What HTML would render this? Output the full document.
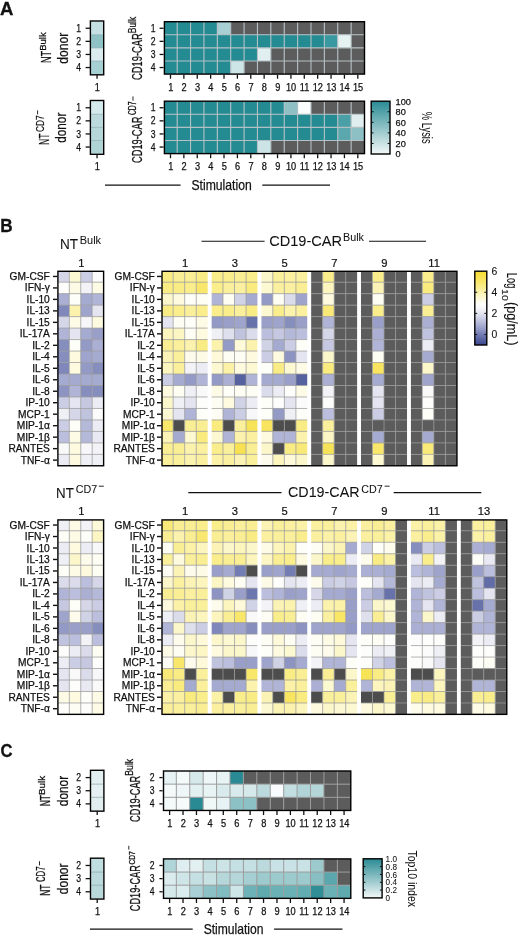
<!DOCTYPE html><html><head><meta charset="utf-8"><style>html,body{margin:0;padding:0;background:#fff;}body{width:520px;height:938px;overflow:hidden;}svg{display:block;will-change:transform;}</style></head><body><svg width="520" height="938" viewBox="0 0 520 938" font-family='"Liberation Sans", sans-serif'><rect x="91.10" y="21.70" width="11.95" height="13.15" fill="#c5e0e3"/>
<rect x="91.10" y="34.80" width="11.95" height="13.15" fill="#8fc2c5"/>
<rect x="91.10" y="47.90" width="11.95" height="13.15" fill="#dcecee"/>
<rect x="91.10" y="61.00" width="11.95" height="13.15" fill="#a7d0d3"/>
<line x1="91.10" y1="34.80" x2="103.00" y2="34.80" stroke="#7fa5a8" stroke-width="0.6"/>
<line x1="91.10" y1="47.90" x2="103.00" y2="47.90" stroke="#7fa5a8" stroke-width="0.6"/>
<line x1="91.10" y1="61.00" x2="103.00" y2="61.00" stroke="#7fa5a8" stroke-width="0.6"/>
<rect x="90.40" y="21.00" width="13.30" height="53.80" fill="none" stroke="#000" stroke-width="1.4"/>
<line x1="85.60" y1="28.25" x2="90.00" y2="28.25" stroke="#111" stroke-width="1.3"/>
<text x="81.00" y="31.85" font-size="10.8" text-anchor="end" textLength="4.81" lengthAdjust="spacingAndGlyphs" stroke="#111" stroke-width="0.25" fill="#111">1</text>
<line x1="85.60" y1="41.35" x2="90.00" y2="41.35" stroke="#111" stroke-width="1.3"/>
<text x="81.00" y="44.95" font-size="10.8" text-anchor="end" textLength="4.81" lengthAdjust="spacingAndGlyphs" stroke="#111" stroke-width="0.25" fill="#111">2</text>
<line x1="85.60" y1="54.45" x2="90.00" y2="54.45" stroke="#111" stroke-width="1.3"/>
<text x="81.00" y="58.05" font-size="10.8" text-anchor="end" textLength="4.81" lengthAdjust="spacingAndGlyphs" stroke="#111" stroke-width="0.25" fill="#111">3</text>
<line x1="85.60" y1="67.55" x2="90.00" y2="67.55" stroke="#111" stroke-width="1.3"/>
<text x="81.00" y="71.15" font-size="10.8" text-anchor="end" textLength="4.81" lengthAdjust="spacingAndGlyphs" stroke="#111" stroke-width="0.25" fill="#111">4</text>
<line x1="97.05" y1="74.70" x2="97.05" y2="78.70" stroke="#111" stroke-width="1.3"/>
<text x="97.35" y="90.60" font-size="10" text-anchor="middle" textLength="5.12" lengthAdjust="spacingAndGlyphs" stroke="#111" stroke-width="0.25" fill="#111">1</text>
<clipPath id="c18"><rect x="164.40" y="21.70" width="200.10" height="52.40"/></clipPath>
<g clip-path="url(#c18)">
<rect x="163.80" y="21.70" width="13.43" height="13.15" fill="#248b93"/>
<rect x="177.18" y="21.70" width="13.43" height="13.15" fill="#248b93"/>
<rect x="190.56" y="21.70" width="13.43" height="13.15" fill="#248b93"/>
<rect x="203.94" y="21.70" width="13.43" height="13.15" fill="#248b93"/>
<rect x="217.32" y="21.70" width="13.43" height="13.15" fill="#a8cfd3"/>
<rect x="230.70" y="21.70" width="13.43" height="13.15" fill="#5c5c5c"/>
<rect x="244.08" y="21.70" width="13.43" height="13.15" fill="#5c5c5c"/>
<rect x="257.46" y="21.70" width="13.43" height="13.15" fill="#5c5c5c"/>
<rect x="270.84" y="21.70" width="13.43" height="13.15" fill="#5c5c5c"/>
<rect x="284.22" y="21.70" width="13.43" height="13.15" fill="#5c5c5c"/>
<rect x="297.60" y="21.70" width="13.43" height="13.15" fill="#5c5c5c"/>
<rect x="310.98" y="21.70" width="13.43" height="13.15" fill="#5c5c5c"/>
<rect x="324.36" y="21.70" width="13.43" height="13.15" fill="#5c5c5c"/>
<rect x="337.74" y="21.70" width="13.43" height="13.15" fill="#5c5c5c"/>
<rect x="351.12" y="21.70" width="13.43" height="13.15" fill="#5c5c5c"/>
<rect x="163.80" y="34.80" width="13.43" height="13.15" fill="#248b93"/>
<rect x="177.18" y="34.80" width="13.43" height="13.15" fill="#248b93"/>
<rect x="190.56" y="34.80" width="13.43" height="13.15" fill="#248b93"/>
<rect x="203.94" y="34.80" width="13.43" height="13.15" fill="#248b93"/>
<rect x="217.32" y="34.80" width="13.43" height="13.15" fill="#248b93"/>
<rect x="230.70" y="34.80" width="13.43" height="13.15" fill="#248b93"/>
<rect x="244.08" y="34.80" width="13.43" height="13.15" fill="#248b93"/>
<rect x="257.46" y="34.80" width="13.43" height="13.15" fill="#248b93"/>
<rect x="270.84" y="34.80" width="13.43" height="13.15" fill="#248b93"/>
<rect x="284.22" y="34.80" width="13.43" height="13.15" fill="#248b93"/>
<rect x="297.60" y="34.80" width="13.43" height="13.15" fill="#248b93"/>
<rect x="310.98" y="34.80" width="13.43" height="13.15" fill="#248b93"/>
<rect x="324.36" y="34.80" width="13.43" height="13.15" fill="#3a98a0"/>
<rect x="337.74" y="34.80" width="13.43" height="13.15" fill="#e6f1f2"/>
<rect x="351.12" y="34.80" width="13.43" height="13.15" fill="#5c5c5c"/>
<rect x="163.80" y="47.90" width="13.43" height="13.15" fill="#248b93"/>
<rect x="177.18" y="47.90" width="13.43" height="13.15" fill="#248b93"/>
<rect x="190.56" y="47.90" width="13.43" height="13.15" fill="#248b93"/>
<rect x="203.94" y="47.90" width="13.43" height="13.15" fill="#248b93"/>
<rect x="217.32" y="47.90" width="13.43" height="13.15" fill="#248b93"/>
<rect x="230.70" y="47.90" width="13.43" height="13.15" fill="#248b93"/>
<rect x="244.08" y="47.90" width="13.43" height="13.15" fill="#248b93"/>
<rect x="257.46" y="47.90" width="13.43" height="13.15" fill="#e1eff0"/>
<rect x="270.84" y="47.90" width="13.43" height="13.15" fill="#5c5c5c"/>
<rect x="284.22" y="47.90" width="13.43" height="13.15" fill="#5c5c5c"/>
<rect x="297.60" y="47.90" width="13.43" height="13.15" fill="#5c5c5c"/>
<rect x="310.98" y="47.90" width="13.43" height="13.15" fill="#5c5c5c"/>
<rect x="324.36" y="47.90" width="13.43" height="13.15" fill="#5c5c5c"/>
<rect x="337.74" y="47.90" width="13.43" height="13.15" fill="#5c5c5c"/>
<rect x="351.12" y="47.90" width="13.43" height="13.15" fill="#5c5c5c"/>
<rect x="163.80" y="61.00" width="13.43" height="13.15" fill="#248b93"/>
<rect x="177.18" y="61.00" width="13.43" height="13.15" fill="#248b93"/>
<rect x="190.56" y="61.00" width="13.43" height="13.15" fill="#248b93"/>
<rect x="203.94" y="61.00" width="13.43" height="13.15" fill="#248b93"/>
<rect x="217.32" y="61.00" width="13.43" height="13.15" fill="#248b93"/>
<rect x="230.70" y="61.00" width="13.43" height="13.15" fill="#cde5e7"/>
<rect x="244.08" y="61.00" width="13.43" height="13.15" fill="#5c5c5c"/>
<rect x="257.46" y="61.00" width="13.43" height="13.15" fill="#5c5c5c"/>
<rect x="270.84" y="61.00" width="13.43" height="13.15" fill="#5c5c5c"/>
<rect x="284.22" y="61.00" width="13.43" height="13.15" fill="#5c5c5c"/>
<rect x="297.60" y="61.00" width="13.43" height="13.15" fill="#5c5c5c"/>
<rect x="310.98" y="61.00" width="13.43" height="13.15" fill="#5c5c5c"/>
<rect x="324.36" y="61.00" width="13.43" height="13.15" fill="#5c5c5c"/>
<rect x="337.74" y="61.00" width="13.43" height="13.15" fill="#5c5c5c"/>
<rect x="351.12" y="61.00" width="13.43" height="13.15" fill="#5c5c5c"/>
<line x1="177.18" y1="21.70" x2="177.18" y2="74.10" stroke="#b4c0c4" stroke-width="1.1"/>
<line x1="190.56" y1="21.70" x2="190.56" y2="74.10" stroke="#b4c0c4" stroke-width="1.1"/>
<line x1="203.94" y1="21.70" x2="203.94" y2="74.10" stroke="#b4c0c4" stroke-width="1.1"/>
<line x1="217.32" y1="21.70" x2="217.32" y2="74.10" stroke="#b4c0c4" stroke-width="1.1"/>
<line x1="230.70" y1="21.70" x2="230.70" y2="74.10" stroke="#b4c0c4" stroke-width="1.1"/>
<line x1="244.08" y1="21.70" x2="244.08" y2="74.10" stroke="#b4c0c4" stroke-width="1.1"/>
<line x1="257.46" y1="21.70" x2="257.46" y2="74.10" stroke="#b4c0c4" stroke-width="1.1"/>
<line x1="270.84" y1="21.70" x2="270.84" y2="74.10" stroke="#b4c0c4" stroke-width="1.1"/>
<line x1="284.22" y1="21.70" x2="284.22" y2="74.10" stroke="#b4c0c4" stroke-width="1.1"/>
<line x1="297.60" y1="21.70" x2="297.60" y2="74.10" stroke="#b4c0c4" stroke-width="1.1"/>
<line x1="310.98" y1="21.70" x2="310.98" y2="74.10" stroke="#b4c0c4" stroke-width="1.1"/>
<line x1="324.36" y1="21.70" x2="324.36" y2="74.10" stroke="#b4c0c4" stroke-width="1.1"/>
<line x1="337.74" y1="21.70" x2="337.74" y2="74.10" stroke="#b4c0c4" stroke-width="1.1"/>
<line x1="351.12" y1="21.70" x2="351.12" y2="74.10" stroke="#b4c0c4" stroke-width="1.1"/>
<line x1="163.80" y1="34.80" x2="364.50" y2="34.80" stroke="#b4c0c4" stroke-width="1.1"/>
<line x1="163.80" y1="47.90" x2="364.50" y2="47.90" stroke="#b4c0c4" stroke-width="1.1"/>
<line x1="163.80" y1="61.00" x2="364.50" y2="61.00" stroke="#b4c0c4" stroke-width="1.1"/>
</g>
<rect x="164.40" y="21.70" width="200.10" height="52.40" fill="none" stroke="#000" stroke-width="1.4"/>
<line x1="159.60" y1="28.25" x2="163.60" y2="28.25" stroke="#111" stroke-width="1.3"/>
<text x="155.50" y="31.85" font-size="10.8" text-anchor="end" textLength="4.81" lengthAdjust="spacingAndGlyphs" stroke="#111" stroke-width="0.25" fill="#111">1</text>
<line x1="159.60" y1="41.35" x2="163.60" y2="41.35" stroke="#111" stroke-width="1.3"/>
<text x="155.50" y="44.95" font-size="10.8" text-anchor="end" textLength="4.81" lengthAdjust="spacingAndGlyphs" stroke="#111" stroke-width="0.25" fill="#111">2</text>
<line x1="159.60" y1="54.45" x2="163.60" y2="54.45" stroke="#111" stroke-width="1.3"/>
<text x="155.50" y="58.05" font-size="10.8" text-anchor="end" textLength="4.81" lengthAdjust="spacingAndGlyphs" stroke="#111" stroke-width="0.25" fill="#111">3</text>
<line x1="159.60" y1="67.55" x2="163.60" y2="67.55" stroke="#111" stroke-width="1.3"/>
<text x="155.50" y="71.15" font-size="10.8" text-anchor="end" textLength="4.81" lengthAdjust="spacingAndGlyphs" stroke="#111" stroke-width="0.25" fill="#111">4</text>
<line x1="170.49" y1="74.70" x2="170.49" y2="78.70" stroke="#111" stroke-width="1.3"/>
<text x="170.69" y="90.60" font-size="10" text-anchor="middle" textLength="5.12" lengthAdjust="spacingAndGlyphs" stroke="#111" stroke-width="0.25" fill="#111">1</text>
<line x1="183.87" y1="74.70" x2="183.87" y2="78.70" stroke="#111" stroke-width="1.3"/>
<text x="184.07" y="90.60" font-size="10" text-anchor="middle" textLength="5.12" lengthAdjust="spacingAndGlyphs" stroke="#111" stroke-width="0.25" fill="#111">2</text>
<line x1="197.25" y1="74.70" x2="197.25" y2="78.70" stroke="#111" stroke-width="1.3"/>
<text x="197.45" y="90.60" font-size="10" text-anchor="middle" textLength="5.12" lengthAdjust="spacingAndGlyphs" stroke="#111" stroke-width="0.25" fill="#111">3</text>
<line x1="210.63" y1="74.70" x2="210.63" y2="78.70" stroke="#111" stroke-width="1.3"/>
<text x="210.83" y="90.60" font-size="10" text-anchor="middle" textLength="5.12" lengthAdjust="spacingAndGlyphs" stroke="#111" stroke-width="0.25" fill="#111">4</text>
<line x1="224.01" y1="74.70" x2="224.01" y2="78.70" stroke="#111" stroke-width="1.3"/>
<text x="224.21" y="90.60" font-size="10" text-anchor="middle" textLength="5.12" lengthAdjust="spacingAndGlyphs" stroke="#111" stroke-width="0.25" fill="#111">5</text>
<line x1="237.39" y1="74.70" x2="237.39" y2="78.70" stroke="#111" stroke-width="1.3"/>
<text x="237.59" y="90.60" font-size="10" text-anchor="middle" textLength="5.12" lengthAdjust="spacingAndGlyphs" stroke="#111" stroke-width="0.25" fill="#111">6</text>
<line x1="250.77" y1="74.70" x2="250.77" y2="78.70" stroke="#111" stroke-width="1.3"/>
<text x="250.97" y="90.60" font-size="10" text-anchor="middle" textLength="5.12" lengthAdjust="spacingAndGlyphs" stroke="#111" stroke-width="0.25" fill="#111">7</text>
<line x1="264.15" y1="74.70" x2="264.15" y2="78.70" stroke="#111" stroke-width="1.3"/>
<text x="264.35" y="90.60" font-size="10" text-anchor="middle" textLength="5.12" lengthAdjust="spacingAndGlyphs" stroke="#111" stroke-width="0.25" fill="#111">8</text>
<line x1="277.53" y1="74.70" x2="277.53" y2="78.70" stroke="#111" stroke-width="1.3"/>
<text x="277.73" y="90.60" font-size="10" text-anchor="middle" textLength="5.12" lengthAdjust="spacingAndGlyphs" stroke="#111" stroke-width="0.25" fill="#111">9</text>
<line x1="290.91" y1="74.70" x2="290.91" y2="78.70" stroke="#111" stroke-width="1.3"/>
<text x="291.11" y="90.60" font-size="10" text-anchor="middle" textLength="10.23" lengthAdjust="spacingAndGlyphs" stroke="#111" stroke-width="0.25" fill="#111">10</text>
<line x1="304.29" y1="74.70" x2="304.29" y2="78.70" stroke="#111" stroke-width="1.3"/>
<text x="304.49" y="90.60" font-size="10" text-anchor="middle" textLength="9.55" lengthAdjust="spacingAndGlyphs" stroke="#111" stroke-width="0.25" fill="#111">11</text>
<line x1="317.67" y1="74.70" x2="317.67" y2="78.70" stroke="#111" stroke-width="1.3"/>
<text x="317.87" y="90.60" font-size="10" text-anchor="middle" textLength="10.23" lengthAdjust="spacingAndGlyphs" stroke="#111" stroke-width="0.25" fill="#111">12</text>
<line x1="331.05" y1="74.70" x2="331.05" y2="78.70" stroke="#111" stroke-width="1.3"/>
<text x="331.25" y="90.60" font-size="10" text-anchor="middle" textLength="10.23" lengthAdjust="spacingAndGlyphs" stroke="#111" stroke-width="0.25" fill="#111">13</text>
<line x1="344.43" y1="74.70" x2="344.43" y2="78.70" stroke="#111" stroke-width="1.3"/>
<text x="344.63" y="90.60" font-size="10" text-anchor="middle" textLength="10.23" lengthAdjust="spacingAndGlyphs" stroke="#111" stroke-width="0.25" fill="#111">14</text>
<line x1="357.81" y1="74.70" x2="357.81" y2="78.70" stroke="#111" stroke-width="1.3"/>
<text x="358.01" y="90.60" font-size="10" text-anchor="middle" textLength="10.23" lengthAdjust="spacingAndGlyphs" stroke="#111" stroke-width="0.25" fill="#111">15</text>
<rect x="91.10" y="101.20" width="11.95" height="13.15" fill="#d4e9eb"/>
<rect x="91.10" y="114.30" width="11.95" height="13.15" fill="#bcdadd"/>
<rect x="91.10" y="127.40" width="11.95" height="13.15" fill="#b5d7da"/>
<rect x="91.10" y="140.50" width="11.95" height="13.15" fill="#b0d3d6"/>
<line x1="91.10" y1="114.30" x2="103.00" y2="114.30" stroke="#7fa5a8" stroke-width="0.6"/>
<line x1="91.10" y1="127.40" x2="103.00" y2="127.40" stroke="#7fa5a8" stroke-width="0.6"/>
<line x1="91.10" y1="140.50" x2="103.00" y2="140.50" stroke="#7fa5a8" stroke-width="0.6"/>
<rect x="90.40" y="100.50" width="13.30" height="53.80" fill="none" stroke="#000" stroke-width="1.4"/>
<line x1="85.60" y1="107.75" x2="90.00" y2="107.75" stroke="#111" stroke-width="1.3"/>
<text x="81.00" y="111.35" font-size="10.8" text-anchor="end" textLength="4.81" lengthAdjust="spacingAndGlyphs" stroke="#111" stroke-width="0.25" fill="#111">1</text>
<line x1="85.60" y1="120.85" x2="90.00" y2="120.85" stroke="#111" stroke-width="1.3"/>
<text x="81.00" y="124.45" font-size="10.8" text-anchor="end" textLength="4.81" lengthAdjust="spacingAndGlyphs" stroke="#111" stroke-width="0.25" fill="#111">2</text>
<line x1="85.60" y1="133.95" x2="90.00" y2="133.95" stroke="#111" stroke-width="1.3"/>
<text x="81.00" y="137.55" font-size="10.8" text-anchor="end" textLength="4.81" lengthAdjust="spacingAndGlyphs" stroke="#111" stroke-width="0.25" fill="#111">3</text>
<line x1="85.60" y1="147.05" x2="90.00" y2="147.05" stroke="#111" stroke-width="1.3"/>
<text x="81.00" y="150.65" font-size="10.8" text-anchor="end" textLength="4.81" lengthAdjust="spacingAndGlyphs" stroke="#111" stroke-width="0.25" fill="#111">4</text>
<line x1="97.05" y1="154.20" x2="97.05" y2="158.20" stroke="#111" stroke-width="1.3"/>
<text x="97.35" y="170.10" font-size="10" text-anchor="middle" textLength="5.12" lengthAdjust="spacingAndGlyphs" stroke="#111" stroke-width="0.25" fill="#111">1</text>
<clipPath id="c155"><rect x="164.40" y="101.20" width="200.10" height="52.40"/></clipPath>
<g clip-path="url(#c155)">
<rect x="163.80" y="101.20" width="13.43" height="13.15" fill="#248b93"/>
<rect x="177.18" y="101.20" width="13.43" height="13.15" fill="#248b93"/>
<rect x="190.56" y="101.20" width="13.43" height="13.15" fill="#248b93"/>
<rect x="203.94" y="101.20" width="13.43" height="13.15" fill="#248b93"/>
<rect x="217.32" y="101.20" width="13.43" height="13.15" fill="#248b93"/>
<rect x="230.70" y="101.20" width="13.43" height="13.15" fill="#248b93"/>
<rect x="244.08" y="101.20" width="13.43" height="13.15" fill="#248b93"/>
<rect x="257.46" y="101.20" width="13.43" height="13.15" fill="#248b93"/>
<rect x="270.84" y="101.20" width="13.43" height="13.15" fill="#248b93"/>
<rect x="284.22" y="101.20" width="13.43" height="13.15" fill="#8fc0c4"/>
<rect x="297.60" y="101.20" width="13.43" height="13.15" fill="#fbfdfd"/>
<rect x="310.98" y="101.20" width="13.43" height="13.15" fill="#5c5c5c"/>
<rect x="324.36" y="101.20" width="13.43" height="13.15" fill="#5c5c5c"/>
<rect x="337.74" y="101.20" width="13.43" height="13.15" fill="#5c5c5c"/>
<rect x="351.12" y="101.20" width="13.43" height="13.15" fill="#5c5c5c"/>
<rect x="163.80" y="114.30" width="13.43" height="13.15" fill="#248b93"/>
<rect x="177.18" y="114.30" width="13.43" height="13.15" fill="#248b93"/>
<rect x="190.56" y="114.30" width="13.43" height="13.15" fill="#248b93"/>
<rect x="203.94" y="114.30" width="13.43" height="13.15" fill="#248b93"/>
<rect x="217.32" y="114.30" width="13.43" height="13.15" fill="#248b93"/>
<rect x="230.70" y="114.30" width="13.43" height="13.15" fill="#248b93"/>
<rect x="244.08" y="114.30" width="13.43" height="13.15" fill="#248b93"/>
<rect x="257.46" y="114.30" width="13.43" height="13.15" fill="#248b93"/>
<rect x="270.84" y="114.30" width="13.43" height="13.15" fill="#248b93"/>
<rect x="284.22" y="114.30" width="13.43" height="13.15" fill="#248b93"/>
<rect x="297.60" y="114.30" width="13.43" height="13.15" fill="#248b93"/>
<rect x="310.98" y="114.30" width="13.43" height="13.15" fill="#248b93"/>
<rect x="324.36" y="114.30" width="13.43" height="13.15" fill="#248b93"/>
<rect x="337.74" y="114.30" width="13.43" height="13.15" fill="#4aa0a6"/>
<rect x="351.12" y="114.30" width="13.43" height="13.15" fill="#e0eeef"/>
<rect x="163.80" y="127.40" width="13.43" height="13.15" fill="#248b93"/>
<rect x="177.18" y="127.40" width="13.43" height="13.15" fill="#248b93"/>
<rect x="190.56" y="127.40" width="13.43" height="13.15" fill="#248b93"/>
<rect x="203.94" y="127.40" width="13.43" height="13.15" fill="#248b93"/>
<rect x="217.32" y="127.40" width="13.43" height="13.15" fill="#248b93"/>
<rect x="230.70" y="127.40" width="13.43" height="13.15" fill="#248b93"/>
<rect x="244.08" y="127.40" width="13.43" height="13.15" fill="#248b93"/>
<rect x="257.46" y="127.40" width="13.43" height="13.15" fill="#248b93"/>
<rect x="270.84" y="127.40" width="13.43" height="13.15" fill="#248b93"/>
<rect x="284.22" y="127.40" width="13.43" height="13.15" fill="#248b93"/>
<rect x="297.60" y="127.40" width="13.43" height="13.15" fill="#248b93"/>
<rect x="310.98" y="127.40" width="13.43" height="13.15" fill="#248b93"/>
<rect x="324.36" y="127.40" width="13.43" height="13.15" fill="#248b93"/>
<rect x="337.74" y="127.40" width="13.43" height="13.15" fill="#5aa8ae"/>
<rect x="351.12" y="127.40" width="13.43" height="13.15" fill="#8cc0c4"/>
<rect x="163.80" y="140.50" width="13.43" height="13.15" fill="#248b93"/>
<rect x="177.18" y="140.50" width="13.43" height="13.15" fill="#248b93"/>
<rect x="190.56" y="140.50" width="13.43" height="13.15" fill="#248b93"/>
<rect x="203.94" y="140.50" width="13.43" height="13.15" fill="#248b93"/>
<rect x="217.32" y="140.50" width="13.43" height="13.15" fill="#248b93"/>
<rect x="230.70" y="140.50" width="13.43" height="13.15" fill="#248b93"/>
<rect x="244.08" y="140.50" width="13.43" height="13.15" fill="#248b93"/>
<rect x="257.46" y="140.50" width="13.43" height="13.15" fill="#cce4e6"/>
<rect x="270.84" y="140.50" width="13.43" height="13.15" fill="#5c5c5c"/>
<rect x="284.22" y="140.50" width="13.43" height="13.15" fill="#5c5c5c"/>
<rect x="297.60" y="140.50" width="13.43" height="13.15" fill="#5c5c5c"/>
<rect x="310.98" y="140.50" width="13.43" height="13.15" fill="#5c5c5c"/>
<rect x="324.36" y="140.50" width="13.43" height="13.15" fill="#5c5c5c"/>
<rect x="337.74" y="140.50" width="13.43" height="13.15" fill="#5c5c5c"/>
<rect x="351.12" y="140.50" width="13.43" height="13.15" fill="#5c5c5c"/>
<line x1="177.18" y1="101.20" x2="177.18" y2="153.60" stroke="#b4c0c4" stroke-width="1.1"/>
<line x1="190.56" y1="101.20" x2="190.56" y2="153.60" stroke="#b4c0c4" stroke-width="1.1"/>
<line x1="203.94" y1="101.20" x2="203.94" y2="153.60" stroke="#b4c0c4" stroke-width="1.1"/>
<line x1="217.32" y1="101.20" x2="217.32" y2="153.60" stroke="#b4c0c4" stroke-width="1.1"/>
<line x1="230.70" y1="101.20" x2="230.70" y2="153.60" stroke="#b4c0c4" stroke-width="1.1"/>
<line x1="244.08" y1="101.20" x2="244.08" y2="153.60" stroke="#b4c0c4" stroke-width="1.1"/>
<line x1="257.46" y1="101.20" x2="257.46" y2="153.60" stroke="#b4c0c4" stroke-width="1.1"/>
<line x1="270.84" y1="101.20" x2="270.84" y2="153.60" stroke="#b4c0c4" stroke-width="1.1"/>
<line x1="284.22" y1="101.20" x2="284.22" y2="153.60" stroke="#b4c0c4" stroke-width="1.1"/>
<line x1="297.60" y1="101.20" x2="297.60" y2="153.60" stroke="#b4c0c4" stroke-width="1.1"/>
<line x1="310.98" y1="101.20" x2="310.98" y2="153.60" stroke="#b4c0c4" stroke-width="1.1"/>
<line x1="324.36" y1="101.20" x2="324.36" y2="153.60" stroke="#b4c0c4" stroke-width="1.1"/>
<line x1="337.74" y1="101.20" x2="337.74" y2="153.60" stroke="#b4c0c4" stroke-width="1.1"/>
<line x1="351.12" y1="101.20" x2="351.12" y2="153.60" stroke="#b4c0c4" stroke-width="1.1"/>
<line x1="163.80" y1="114.30" x2="364.50" y2="114.30" stroke="#b4c0c4" stroke-width="1.1"/>
<line x1="163.80" y1="127.40" x2="364.50" y2="127.40" stroke="#b4c0c4" stroke-width="1.1"/>
<line x1="163.80" y1="140.50" x2="364.50" y2="140.50" stroke="#b4c0c4" stroke-width="1.1"/>
</g>
<rect x="164.40" y="101.20" width="200.10" height="52.40" fill="none" stroke="#000" stroke-width="1.4"/>
<line x1="159.60" y1="107.75" x2="163.60" y2="107.75" stroke="#111" stroke-width="1.3"/>
<text x="155.50" y="111.35" font-size="10.8" text-anchor="end" textLength="4.81" lengthAdjust="spacingAndGlyphs" stroke="#111" stroke-width="0.25" fill="#111">1</text>
<line x1="159.60" y1="120.85" x2="163.60" y2="120.85" stroke="#111" stroke-width="1.3"/>
<text x="155.50" y="124.45" font-size="10.8" text-anchor="end" textLength="4.81" lengthAdjust="spacingAndGlyphs" stroke="#111" stroke-width="0.25" fill="#111">2</text>
<line x1="159.60" y1="133.95" x2="163.60" y2="133.95" stroke="#111" stroke-width="1.3"/>
<text x="155.50" y="137.55" font-size="10.8" text-anchor="end" textLength="4.81" lengthAdjust="spacingAndGlyphs" stroke="#111" stroke-width="0.25" fill="#111">3</text>
<line x1="159.60" y1="147.05" x2="163.60" y2="147.05" stroke="#111" stroke-width="1.3"/>
<text x="155.50" y="150.65" font-size="10.8" text-anchor="end" textLength="4.81" lengthAdjust="spacingAndGlyphs" stroke="#111" stroke-width="0.25" fill="#111">4</text>
<line x1="170.49" y1="154.20" x2="170.49" y2="158.20" stroke="#111" stroke-width="1.3"/>
<text x="170.69" y="170.10" font-size="10" text-anchor="middle" textLength="5.12" lengthAdjust="spacingAndGlyphs" stroke="#111" stroke-width="0.25" fill="#111">1</text>
<line x1="183.87" y1="154.20" x2="183.87" y2="158.20" stroke="#111" stroke-width="1.3"/>
<text x="184.07" y="170.10" font-size="10" text-anchor="middle" textLength="5.12" lengthAdjust="spacingAndGlyphs" stroke="#111" stroke-width="0.25" fill="#111">2</text>
<line x1="197.25" y1="154.20" x2="197.25" y2="158.20" stroke="#111" stroke-width="1.3"/>
<text x="197.45" y="170.10" font-size="10" text-anchor="middle" textLength="5.12" lengthAdjust="spacingAndGlyphs" stroke="#111" stroke-width="0.25" fill="#111">3</text>
<line x1="210.63" y1="154.20" x2="210.63" y2="158.20" stroke="#111" stroke-width="1.3"/>
<text x="210.83" y="170.10" font-size="10" text-anchor="middle" textLength="5.12" lengthAdjust="spacingAndGlyphs" stroke="#111" stroke-width="0.25" fill="#111">4</text>
<line x1="224.01" y1="154.20" x2="224.01" y2="158.20" stroke="#111" stroke-width="1.3"/>
<text x="224.21" y="170.10" font-size="10" text-anchor="middle" textLength="5.12" lengthAdjust="spacingAndGlyphs" stroke="#111" stroke-width="0.25" fill="#111">5</text>
<line x1="237.39" y1="154.20" x2="237.39" y2="158.20" stroke="#111" stroke-width="1.3"/>
<text x="237.59" y="170.10" font-size="10" text-anchor="middle" textLength="5.12" lengthAdjust="spacingAndGlyphs" stroke="#111" stroke-width="0.25" fill="#111">6</text>
<line x1="250.77" y1="154.20" x2="250.77" y2="158.20" stroke="#111" stroke-width="1.3"/>
<text x="250.97" y="170.10" font-size="10" text-anchor="middle" textLength="5.12" lengthAdjust="spacingAndGlyphs" stroke="#111" stroke-width="0.25" fill="#111">7</text>
<line x1="264.15" y1="154.20" x2="264.15" y2="158.20" stroke="#111" stroke-width="1.3"/>
<text x="264.35" y="170.10" font-size="10" text-anchor="middle" textLength="5.12" lengthAdjust="spacingAndGlyphs" stroke="#111" stroke-width="0.25" fill="#111">8</text>
<line x1="277.53" y1="154.20" x2="277.53" y2="158.20" stroke="#111" stroke-width="1.3"/>
<text x="277.73" y="170.10" font-size="10" text-anchor="middle" textLength="5.12" lengthAdjust="spacingAndGlyphs" stroke="#111" stroke-width="0.25" fill="#111">9</text>
<line x1="290.91" y1="154.20" x2="290.91" y2="158.20" stroke="#111" stroke-width="1.3"/>
<text x="291.11" y="170.10" font-size="10" text-anchor="middle" textLength="10.23" lengthAdjust="spacingAndGlyphs" stroke="#111" stroke-width="0.25" fill="#111">10</text>
<line x1="304.29" y1="154.20" x2="304.29" y2="158.20" stroke="#111" stroke-width="1.3"/>
<text x="304.49" y="170.10" font-size="10" text-anchor="middle" textLength="9.55" lengthAdjust="spacingAndGlyphs" stroke="#111" stroke-width="0.25" fill="#111">11</text>
<line x1="317.67" y1="154.20" x2="317.67" y2="158.20" stroke="#111" stroke-width="1.3"/>
<text x="317.87" y="170.10" font-size="10" text-anchor="middle" textLength="10.23" lengthAdjust="spacingAndGlyphs" stroke="#111" stroke-width="0.25" fill="#111">12</text>
<line x1="331.05" y1="154.20" x2="331.05" y2="158.20" stroke="#111" stroke-width="1.3"/>
<text x="331.25" y="170.10" font-size="10" text-anchor="middle" textLength="10.23" lengthAdjust="spacingAndGlyphs" stroke="#111" stroke-width="0.25" fill="#111">13</text>
<line x1="344.43" y1="154.20" x2="344.43" y2="158.20" stroke="#111" stroke-width="1.3"/>
<text x="344.63" y="170.10" font-size="10" text-anchor="middle" textLength="10.23" lengthAdjust="spacingAndGlyphs" stroke="#111" stroke-width="0.25" fill="#111">14</text>
<line x1="357.81" y1="154.20" x2="357.81" y2="158.20" stroke="#111" stroke-width="1.3"/>
<text x="358.01" y="170.10" font-size="10" text-anchor="middle" textLength="10.23" lengthAdjust="spacingAndGlyphs" stroke="#111" stroke-width="0.25" fill="#111">15</text>
<text x="50.80" y="63.10" font-size="15" text-anchor="start" textLength="12.30" lengthAdjust="spacingAndGlyphs" transform="rotate(-90 50.80 63.10)" stroke="#111" stroke-width="0.25" fill="#111">NT</text>
<text x="45.60" y="50.80" font-size="9.2" text-anchor="start" textLength="18.50" lengthAdjust="spacingAndGlyphs" transform="rotate(-90 45.60 50.80)" stroke="#111" stroke-width="0.25" fill="#111">Bulk</text>
<text x="68.30" y="63.80" font-size="14.3" text-anchor="start" textLength="31.00" lengthAdjust="spacingAndGlyphs" transform="rotate(-90 68.30 63.80)" stroke="#111" stroke-width="0.25" fill="#111">donor</text>
<text x="48.80" y="145.00" font-size="15" text-anchor="start" textLength="11.50" lengthAdjust="spacingAndGlyphs" transform="rotate(-90 48.80 145.00)" stroke="#111" stroke-width="0.25" fill="#111">NT</text>
<text x="43.70" y="131.90" font-size="11.5" text-anchor="start" textLength="16.50" lengthAdjust="spacingAndGlyphs" transform="rotate(-90 43.70 131.90)" stroke="#111" stroke-width="0.25" fill="#111">CD7</text>
<line x1="37.60" y1="110.40" x2="37.60" y2="114.40" stroke="#111" stroke-width="0.9"/>
<text x="66.10" y="142.70" font-size="14.3" text-anchor="start" textLength="30.00" lengthAdjust="spacingAndGlyphs" transform="rotate(-90 66.10 142.70)" stroke="#111" stroke-width="0.25" fill="#111">donor</text>
<text x="141.60" y="80.00" font-size="14.5" text-anchor="start" textLength="46.80" lengthAdjust="spacingAndGlyphs" transform="rotate(-90 141.60 80.00)" stroke="#111" stroke-width="0.25" fill="#111">CD19-CAR</text>
<text x="136.40" y="33.20" font-size="10.5" text-anchor="start" textLength="16.40" lengthAdjust="spacingAndGlyphs" transform="rotate(-90 136.40 33.20)" stroke="#111" stroke-width="0.25" fill="#111">Bulk</text>
<text x="141.80" y="163.00" font-size="14.5" text-anchor="start" textLength="46.50" lengthAdjust="spacingAndGlyphs" transform="rotate(-90 141.80 163.00)" stroke="#111" stroke-width="0.25" fill="#111">CD19-CAR</text>
<text x="136.30" y="115.10" font-size="10.6" text-anchor="start" textLength="13.50" lengthAdjust="spacingAndGlyphs" transform="rotate(-90 136.30 115.10)" stroke="#111" stroke-width="0.25" fill="#111">CD7</text>
<line x1="133.00" y1="96.40" x2="133.00" y2="100.70" stroke="#111" stroke-width="0.9"/>
<defs><linearGradient id="tg" x1="0" y1="1" x2="0" y2="0"><stop offset="0" stop-color="#f2f8f8"/><stop offset="1" stop-color="#2a8b94"/></linearGradient><linearGradient id="bg" x1="0" y1="1" x2="0" y2="0"><stop offset="0.0000" stop-color="#3a4690"/><stop offset="0.0714" stop-color="#56629f"/><stop offset="0.1429" stop-color="#737cb3"/><stop offset="0.2143" stop-color="#939ac6"/><stop offset="0.2857" stop-color="#b0b4d6"/><stop offset="0.3571" stop-color="#cbcde4"/><stop offset="0.4286" stop-color="#e4e5f0"/><stop offset="0.5000" stop-color="#f7f7f9"/><stop offset="0.5500" stop-color="#fefefc"/><stop offset="0.6143" stop-color="#fdfae0"/><stop offset="0.6714" stop-color="#fcf6c4"/><stop offset="0.7143" stop-color="#fbf2ae"/><stop offset="0.7857" stop-color="#f9ed8c"/><stop offset="0.8571" stop-color="#f8e76a"/><stop offset="0.9286" stop-color="#f7e04c"/><stop offset="1.0000" stop-color="#f5dc30"/></linearGradient></defs>
<rect x="371.20" y="101.20" width="18.80" height="52.80" fill="url(#tg)" stroke="#000" stroke-width="1.4"/>
<text x="395.60" y="104.50" font-size="9.2" text-anchor="start" textLength="15.35" lengthAdjust="spacingAndGlyphs" stroke="#111" stroke-width="0.25" fill="#111">100</text>
<line x1="371.20" y1="111.76" x2="373.60" y2="111.76" stroke="#111" stroke-width="1.0"/>
<line x1="387.60" y1="111.76" x2="390.00" y2="111.76" stroke="#111" stroke-width="1.0"/>
<text x="395.60" y="115.06" font-size="9.2" text-anchor="start" textLength="10.23" lengthAdjust="spacingAndGlyphs" stroke="#111" stroke-width="0.25" fill="#111">80</text>
<line x1="371.20" y1="122.32" x2="373.60" y2="122.32" stroke="#111" stroke-width="1.0"/>
<line x1="387.60" y1="122.32" x2="390.00" y2="122.32" stroke="#111" stroke-width="1.0"/>
<text x="395.60" y="125.62" font-size="9.2" text-anchor="start" textLength="10.23" lengthAdjust="spacingAndGlyphs" stroke="#111" stroke-width="0.25" fill="#111">60</text>
<line x1="371.20" y1="132.88" x2="373.60" y2="132.88" stroke="#111" stroke-width="1.0"/>
<line x1="387.60" y1="132.88" x2="390.00" y2="132.88" stroke="#111" stroke-width="1.0"/>
<text x="395.60" y="136.18" font-size="9.2" text-anchor="start" textLength="10.23" lengthAdjust="spacingAndGlyphs" stroke="#111" stroke-width="0.25" fill="#111">40</text>
<line x1="371.20" y1="143.44" x2="373.60" y2="143.44" stroke="#111" stroke-width="1.0"/>
<line x1="387.60" y1="143.44" x2="390.00" y2="143.44" stroke="#111" stroke-width="1.0"/>
<text x="395.60" y="146.74" font-size="9.2" text-anchor="start" textLength="10.23" lengthAdjust="spacingAndGlyphs" stroke="#111" stroke-width="0.25" fill="#111">20</text>
<text x="395.60" y="157.30" font-size="9.2" text-anchor="start" textLength="5.12" lengthAdjust="spacingAndGlyphs" stroke="#111" stroke-width="0.25" fill="#111">0</text>
<text x="421.60" y="111.80" font-size="14" text-anchor="start" textLength="31.80" lengthAdjust="spacingAndGlyphs" transform="rotate(90 421.60 111.80)" fill="#111">% Lysis</text>
<line x1="105.00" y1="185.20" x2="180.60" y2="185.20" stroke="#111" stroke-width="1.2"/>
<text x="191.50" y="189.70" font-size="14.5" text-anchor="start" textLength="60.20" lengthAdjust="spacingAndGlyphs" stroke="#111" stroke-width="0.25" fill="#111">Stimulation</text>
<line x1="262.30" y1="185.20" x2="330.00" y2="185.20" stroke="#111" stroke-width="1.2"/>
<text x="0.00" y="14.80" font-size="18" text-anchor="start" font-weight="bold" textLength="13.40" lengthAdjust="spacingAndGlyphs" stroke="#111" stroke-width="0.3" fill="#111">A</text>
<text x="0.20" y="232.30" font-size="18" text-anchor="start" font-weight="bold" textLength="12.40" lengthAdjust="spacingAndGlyphs" stroke="#111" stroke-width="0.3" fill="#111">B</text>
<text x="0.50" y="757.00" font-size="18.5" text-anchor="start" font-weight="bold" textLength="12.00" lengthAdjust="spacingAndGlyphs" stroke="#111" stroke-width="0.3" fill="#111">C</text>
<clipPath id="c309"><rect x="57.90" y="271.30" width="45.72" height="194.46"/></clipPath>
<g clip-path="url(#c309)">
<rect x="57.90" y="270.70" width="11.48" height="11.53" fill="#d5d7e9"/>
<rect x="69.33" y="270.70" width="11.48" height="11.53" fill="#fcf8d2"/>
<rect x="80.76" y="270.70" width="11.48" height="11.53" fill="#cbcde4"/>
<rect x="92.19" y="270.70" width="11.48" height="11.53" fill="#fbfbfb"/>
<rect x="57.90" y="282.18" width="11.48" height="11.53" fill="#fdfdfc"/>
<rect x="69.33" y="282.18" width="11.48" height="11.53" fill="#fdfbe6"/>
<rect x="80.76" y="282.18" width="11.48" height="11.53" fill="#f3f3f7"/>
<rect x="92.19" y="282.18" width="11.48" height="11.53" fill="#fdfbe6"/>
<rect x="57.90" y="293.66" width="11.48" height="11.53" fill="#aaafd3"/>
<rect x="69.33" y="293.66" width="11.48" height="11.53" fill="#fefef9"/>
<rect x="80.76" y="293.66" width="11.48" height="11.53" fill="#a4aad0"/>
<rect x="92.19" y="293.66" width="11.48" height="11.53" fill="#b0b4d6"/>
<rect x="57.90" y="305.14" width="11.48" height="11.53" fill="#8088bb"/>
<rect x="69.33" y="305.14" width="11.48" height="11.53" fill="#fbf2ae"/>
<rect x="80.76" y="305.14" width="11.48" height="11.53" fill="#9fa4cc"/>
<rect x="92.19" y="305.14" width="11.48" height="11.53" fill="#e4e5f0"/>
<rect x="57.90" y="316.62" width="11.48" height="11.53" fill="#d5d7e9"/>
<rect x="69.33" y="316.62" width="11.48" height="11.53" fill="#fdfbe6"/>
<rect x="80.76" y="316.62" width="11.48" height="11.53" fill="#f7f7f9"/>
<rect x="92.19" y="316.62" width="11.48" height="11.53" fill="#fdfae0"/>
<rect x="57.90" y="328.10" width="11.48" height="11.53" fill="#b0b4d6"/>
<rect x="69.33" y="328.10" width="11.48" height="11.53" fill="#e4e5f0"/>
<rect x="80.76" y="328.10" width="11.48" height="11.53" fill="#a4aad0"/>
<rect x="92.19" y="328.10" width="11.48" height="11.53" fill="#999fc9"/>
<rect x="57.90" y="339.58" width="11.48" height="11.53" fill="#868ebe"/>
<rect x="69.33" y="339.58" width="11.48" height="11.53" fill="#fefef9"/>
<rect x="80.76" y="339.58" width="11.48" height="11.53" fill="#939ac6"/>
<rect x="92.19" y="339.58" width="11.48" height="11.53" fill="#aaafd3"/>
<rect x="57.90" y="351.06" width="11.48" height="11.53" fill="#868ebe"/>
<rect x="69.33" y="351.06" width="11.48" height="11.53" fill="#fdfae0"/>
<rect x="80.76" y="351.06" width="11.48" height="11.53" fill="#9fa4cc"/>
<rect x="92.19" y="351.06" width="11.48" height="11.53" fill="#a4aad0"/>
<rect x="57.90" y="362.54" width="11.48" height="11.53" fill="#8088bb"/>
<rect x="69.33" y="362.54" width="11.48" height="11.53" fill="#fdfae0"/>
<rect x="80.76" y="362.54" width="11.48" height="11.53" fill="#939ac6"/>
<rect x="92.19" y="362.54" width="11.48" height="11.53" fill="#868ebe"/>
<rect x="57.90" y="374.02" width="11.48" height="11.53" fill="#a4aad0"/>
<rect x="69.33" y="374.02" width="11.48" height="11.53" fill="#a4aad0"/>
<rect x="80.76" y="374.02" width="11.48" height="11.53" fill="#a4aad0"/>
<rect x="92.19" y="374.02" width="11.48" height="11.53" fill="#a4aad0"/>
<rect x="57.90" y="385.50" width="11.48" height="11.53" fill="#8d94c2"/>
<rect x="69.33" y="385.50" width="11.48" height="11.53" fill="#b0b4d6"/>
<rect x="80.76" y="385.50" width="11.48" height="11.53" fill="#868ebe"/>
<rect x="92.19" y="385.50" width="11.48" height="11.53" fill="#868ebe"/>
<rect x="57.90" y="396.98" width="11.48" height="11.53" fill="#cbcde4"/>
<rect x="69.33" y="396.98" width="11.48" height="11.53" fill="#e4e5f0"/>
<rect x="80.76" y="396.98" width="11.48" height="11.53" fill="#c6c8e1"/>
<rect x="92.19" y="396.98" width="11.48" height="11.53" fill="#ececf4"/>
<rect x="57.90" y="408.46" width="11.48" height="11.53" fill="#eff0f5"/>
<rect x="69.33" y="408.46" width="11.48" height="11.53" fill="#d5d7e9"/>
<rect x="80.76" y="408.46" width="11.48" height="11.53" fill="#c0c3de"/>
<rect x="92.19" y="408.46" width="11.48" height="11.53" fill="#fbfbfb"/>
<rect x="57.90" y="419.94" width="11.48" height="11.53" fill="#cbcde4"/>
<rect x="69.33" y="419.94" width="11.48" height="11.53" fill="#fefef9"/>
<rect x="80.76" y="419.94" width="11.48" height="11.53" fill="#b5b9d9"/>
<rect x="92.19" y="419.94" width="11.48" height="11.53" fill="#ececf4"/>
<rect x="57.90" y="431.42" width="11.48" height="11.53" fill="#bbbedc"/>
<rect x="69.33" y="431.42" width="11.48" height="11.53" fill="#fdfbe6"/>
<rect x="80.76" y="431.42" width="11.48" height="11.53" fill="#b5b9d9"/>
<rect x="92.19" y="431.42" width="11.48" height="11.53" fill="#e8e9f2"/>
<rect x="57.90" y="442.90" width="11.48" height="11.53" fill="#f9f9fa"/>
<rect x="69.33" y="442.90" width="11.48" height="11.53" fill="#fdfae0"/>
<rect x="80.76" y="442.90" width="11.48" height="11.53" fill="#f7f7f9"/>
<rect x="92.19" y="442.90" width="11.48" height="11.53" fill="#f3f3f7"/>
<rect x="57.90" y="454.38" width="11.48" height="11.53" fill="#ececf4"/>
<rect x="69.33" y="454.38" width="11.48" height="11.53" fill="#fdfae0"/>
<rect x="80.76" y="454.38" width="11.48" height="11.53" fill="#eff0f5"/>
<rect x="92.19" y="454.38" width="11.48" height="11.53" fill="#eff0f5"/>
<line x1="69.33" y1="270.70" x2="69.33" y2="465.86" stroke="#9a9a9a" stroke-width="0.75"/>
<line x1="80.76" y1="270.70" x2="80.76" y2="465.86" stroke="#9a9a9a" stroke-width="0.75"/>
<line x1="92.19" y1="270.70" x2="92.19" y2="465.86" stroke="#9a9a9a" stroke-width="0.75"/>
<line x1="57.90" y1="282.18" x2="103.62" y2="282.18" stroke="#9a9a9a" stroke-width="0.75"/>
<line x1="57.90" y1="293.66" x2="103.62" y2="293.66" stroke="#9a9a9a" stroke-width="0.75"/>
<line x1="57.90" y1="305.14" x2="103.62" y2="305.14" stroke="#9a9a9a" stroke-width="0.75"/>
<line x1="57.90" y1="316.62" x2="103.62" y2="316.62" stroke="#9a9a9a" stroke-width="0.75"/>
<line x1="57.90" y1="328.10" x2="103.62" y2="328.10" stroke="#9a9a9a" stroke-width="0.75"/>
<line x1="57.90" y1="339.58" x2="103.62" y2="339.58" stroke="#9a9a9a" stroke-width="0.75"/>
<line x1="57.90" y1="351.06" x2="103.62" y2="351.06" stroke="#9a9a9a" stroke-width="0.75"/>
<line x1="57.90" y1="362.54" x2="103.62" y2="362.54" stroke="#9a9a9a" stroke-width="0.75"/>
<line x1="57.90" y1="374.02" x2="103.62" y2="374.02" stroke="#9a9a9a" stroke-width="0.75"/>
<line x1="57.90" y1="385.50" x2="103.62" y2="385.50" stroke="#9a9a9a" stroke-width="0.75"/>
<line x1="57.90" y1="396.98" x2="103.62" y2="396.98" stroke="#9a9a9a" stroke-width="0.75"/>
<line x1="57.90" y1="408.46" x2="103.62" y2="408.46" stroke="#9a9a9a" stroke-width="0.75"/>
<line x1="57.90" y1="419.94" x2="103.62" y2="419.94" stroke="#9a9a9a" stroke-width="0.75"/>
<line x1="57.90" y1="431.42" x2="103.62" y2="431.42" stroke="#9a9a9a" stroke-width="0.75"/>
<line x1="57.90" y1="442.90" x2="103.62" y2="442.90" stroke="#9a9a9a" stroke-width="0.75"/>
<line x1="57.90" y1="454.38" x2="103.62" y2="454.38" stroke="#9a9a9a" stroke-width="0.75"/>
</g>
<rect x="57.90" y="271.30" width="45.72" height="194.46" fill="none" stroke="#000" stroke-width="1.4"/>
<line x1="53.00" y1="276.44" x2="57.20" y2="276.44" stroke="#111" stroke-width="1.4"/>
<text x="49.80" y="279.94" font-size="10" text-anchor="end" textLength="40.23" lengthAdjust="spacingAndGlyphs" stroke="#111" stroke-width="0.25" fill="#111">GM-CSF</text>
<line x1="53.00" y1="287.92" x2="57.20" y2="287.92" stroke="#111" stroke-width="1.4"/>
<text x="49.80" y="291.42" font-size="10" text-anchor="end" textLength="24.93" lengthAdjust="spacingAndGlyphs" stroke="#111" stroke-width="0.25" fill="#111">IFN-γ</text>
<line x1="53.00" y1="299.40" x2="57.20" y2="299.40" stroke="#111" stroke-width="1.4"/>
<text x="49.80" y="302.90" font-size="10" text-anchor="end" textLength="23.25" lengthAdjust="spacingAndGlyphs" stroke="#111" stroke-width="0.25" fill="#111">IL-10</text>
<line x1="53.00" y1="310.88" x2="57.20" y2="310.88" stroke="#111" stroke-width="1.4"/>
<text x="49.80" y="314.38" font-size="10" text-anchor="end" textLength="23.25" lengthAdjust="spacingAndGlyphs" stroke="#111" stroke-width="0.25" fill="#111">IL-13</text>
<line x1="53.00" y1="322.36" x2="57.20" y2="322.36" stroke="#111" stroke-width="1.4"/>
<text x="49.80" y="325.86" font-size="10" text-anchor="end" textLength="23.25" lengthAdjust="spacingAndGlyphs" stroke="#111" stroke-width="0.25" fill="#111">IL-15</text>
<line x1="53.00" y1="333.84" x2="57.20" y2="333.84" stroke="#111" stroke-width="1.4"/>
<text x="49.80" y="337.34" font-size="10" text-anchor="end" textLength="30.05" lengthAdjust="spacingAndGlyphs" stroke="#111" stroke-width="0.25" fill="#111">IL-17A</text>
<line x1="53.00" y1="345.32" x2="57.20" y2="345.32" stroke="#111" stroke-width="1.4"/>
<text x="49.80" y="348.82" font-size="10" text-anchor="end" textLength="17.58" lengthAdjust="spacingAndGlyphs" stroke="#111" stroke-width="0.25" fill="#111">IL-2</text>
<line x1="53.00" y1="356.80" x2="57.20" y2="356.80" stroke="#111" stroke-width="1.4"/>
<text x="49.80" y="360.30" font-size="10" text-anchor="end" textLength="17.58" lengthAdjust="spacingAndGlyphs" stroke="#111" stroke-width="0.25" fill="#111">IL-4</text>
<line x1="53.00" y1="368.28" x2="57.20" y2="368.28" stroke="#111" stroke-width="1.4"/>
<text x="49.80" y="371.78" font-size="10" text-anchor="end" textLength="17.58" lengthAdjust="spacingAndGlyphs" stroke="#111" stroke-width="0.25" fill="#111">IL-5</text>
<line x1="53.00" y1="379.76" x2="57.20" y2="379.76" stroke="#111" stroke-width="1.4"/>
<text x="49.80" y="383.26" font-size="10" text-anchor="end" textLength="17.58" lengthAdjust="spacingAndGlyphs" stroke="#111" stroke-width="0.25" fill="#111">IL-6</text>
<line x1="53.00" y1="391.24" x2="57.20" y2="391.24" stroke="#111" stroke-width="1.4"/>
<text x="49.80" y="394.74" font-size="10" text-anchor="end" textLength="17.58" lengthAdjust="spacingAndGlyphs" stroke="#111" stroke-width="0.25" fill="#111">IL-8</text>
<line x1="53.00" y1="402.72" x2="57.20" y2="402.72" stroke="#111" stroke-width="1.4"/>
<text x="49.80" y="406.22" font-size="10" text-anchor="end" textLength="24.38" lengthAdjust="spacingAndGlyphs" stroke="#111" stroke-width="0.25" fill="#111">IP-10</text>
<line x1="53.00" y1="414.20" x2="57.20" y2="414.20" stroke="#111" stroke-width="1.4"/>
<text x="49.80" y="417.70" font-size="10" text-anchor="end" textLength="31.74" lengthAdjust="spacingAndGlyphs" stroke="#111" stroke-width="0.25" fill="#111">MCP-1</text>
<line x1="53.00" y1="425.68" x2="57.20" y2="425.68" stroke="#111" stroke-width="1.4"/>
<text x="49.80" y="429.18" font-size="10" text-anchor="end" textLength="33.10" lengthAdjust="spacingAndGlyphs" stroke="#111" stroke-width="0.25" fill="#111">MIP-1α</text>
<line x1="53.00" y1="437.16" x2="57.20" y2="437.16" stroke="#111" stroke-width="1.4"/>
<text x="49.80" y="440.66" font-size="10" text-anchor="end" textLength="33.07" lengthAdjust="spacingAndGlyphs" stroke="#111" stroke-width="0.25" fill="#111">MIP-1β</text>
<line x1="53.00" y1="448.64" x2="57.20" y2="448.64" stroke="#111" stroke-width="1.4"/>
<text x="49.80" y="452.14" font-size="10" text-anchor="end" textLength="41.37" lengthAdjust="spacingAndGlyphs" stroke="#111" stroke-width="0.25" fill="#111">RANTES</text>
<line x1="53.00" y1="460.12" x2="57.20" y2="460.12" stroke="#111" stroke-width="1.4"/>
<text x="49.80" y="463.62" font-size="10" text-anchor="end" textLength="29.12" lengthAdjust="spacingAndGlyphs" stroke="#111" stroke-width="0.25" fill="#111">TNF-α</text>
<clipPath id="c434"><rect x="162.00" y="271.30" width="294.95" height="194.46"/></clipPath>
<g clip-path="url(#c434)">
<rect x="161.60" y="270.70" width="11.60" height="11.53" fill="#f9ec85"/>
<rect x="173.15" y="270.70" width="11.60" height="11.53" fill="#f9ee93"/>
<rect x="184.70" y="270.70" width="11.60" height="11.53" fill="#f9ee93"/>
<rect x="196.25" y="270.70" width="11.60" height="11.53" fill="#f9ec85"/>
<rect x="211.43" y="270.70" width="11.60" height="11.53" fill="#f9ed8c"/>
<rect x="222.98" y="270.70" width="11.60" height="11.53" fill="#f9ed8c"/>
<rect x="234.53" y="270.70" width="11.60" height="11.53" fill="#f9ee93"/>
<rect x="246.08" y="270.70" width="11.60" height="11.53" fill="#f9ed8c"/>
<rect x="261.26" y="270.70" width="11.60" height="11.53" fill="#fcf7cb"/>
<rect x="272.81" y="270.70" width="11.60" height="11.53" fill="#faef9a"/>
<rect x="284.36" y="270.70" width="11.60" height="11.53" fill="#faf0a0"/>
<rect x="295.91" y="270.70" width="11.60" height="11.53" fill="#faf0a0"/>
<rect x="311.09" y="270.70" width="11.60" height="11.53" fill="#5c5c5c"/>
<rect x="322.64" y="270.70" width="11.60" height="11.53" fill="#f9ed8c"/>
<rect x="334.19" y="270.70" width="11.60" height="11.53" fill="#5c5c5c"/>
<rect x="345.74" y="270.70" width="11.60" height="11.53" fill="#5c5c5c"/>
<rect x="360.92" y="270.70" width="11.60" height="11.53" fill="#5c5c5c"/>
<rect x="372.47" y="270.70" width="11.60" height="11.53" fill="#f9ed8c"/>
<rect x="384.02" y="270.70" width="11.60" height="11.53" fill="#5c5c5c"/>
<rect x="395.57" y="270.70" width="11.60" height="11.53" fill="#5c5c5c"/>
<rect x="410.75" y="270.70" width="11.60" height="11.53" fill="#5c5c5c"/>
<rect x="422.30" y="270.70" width="11.60" height="11.53" fill="#f9ed8c"/>
<rect x="433.85" y="270.70" width="11.60" height="11.53" fill="#5c5c5c"/>
<rect x="445.40" y="270.70" width="11.60" height="11.53" fill="#5c5c5c"/>
<rect x="161.60" y="282.18" width="11.60" height="11.53" fill="#f9ec85"/>
<rect x="173.15" y="282.18" width="11.60" height="11.53" fill="#f9ec85"/>
<rect x="184.70" y="282.18" width="11.60" height="11.53" fill="#f9ed8c"/>
<rect x="196.25" y="282.18" width="11.60" height="11.53" fill="#f8e76a"/>
<rect x="211.43" y="282.18" width="11.60" height="11.53" fill="#f9ed8c"/>
<rect x="222.98" y="282.18" width="11.60" height="11.53" fill="#faef9a"/>
<rect x="234.53" y="282.18" width="11.60" height="11.53" fill="#faf0a0"/>
<rect x="246.08" y="282.18" width="11.60" height="11.53" fill="#f9eb7e"/>
<rect x="261.26" y="282.18" width="11.60" height="11.53" fill="#fcf8d2"/>
<rect x="272.81" y="282.18" width="11.60" height="11.53" fill="#faf0a0"/>
<rect x="284.36" y="282.18" width="11.60" height="11.53" fill="#faf0a0"/>
<rect x="295.91" y="282.18" width="11.60" height="11.53" fill="#f9ee93"/>
<rect x="311.09" y="282.18" width="11.60" height="11.53" fill="#5c5c5c"/>
<rect x="322.64" y="282.18" width="11.60" height="11.53" fill="#fcf5bd"/>
<rect x="334.19" y="282.18" width="11.60" height="11.53" fill="#5c5c5c"/>
<rect x="345.74" y="282.18" width="11.60" height="11.53" fill="#5c5c5c"/>
<rect x="360.92" y="282.18" width="11.60" height="11.53" fill="#5c5c5c"/>
<rect x="372.47" y="282.18" width="11.60" height="11.53" fill="#fbf3b5"/>
<rect x="384.02" y="282.18" width="11.60" height="11.53" fill="#5c5c5c"/>
<rect x="395.57" y="282.18" width="11.60" height="11.53" fill="#5c5c5c"/>
<rect x="410.75" y="282.18" width="11.60" height="11.53" fill="#5c5c5c"/>
<rect x="422.30" y="282.18" width="11.60" height="11.53" fill="#f9eb7e"/>
<rect x="433.85" y="282.18" width="11.60" height="11.53" fill="#5c5c5c"/>
<rect x="445.40" y="282.18" width="11.60" height="11.53" fill="#5c5c5c"/>
<rect x="161.60" y="293.66" width="11.60" height="11.53" fill="#fcf7cb"/>
<rect x="173.15" y="293.66" width="11.60" height="11.53" fill="#fdfae0"/>
<rect x="184.70" y="293.66" width="11.60" height="11.53" fill="#fefef9"/>
<rect x="196.25" y="293.66" width="11.60" height="11.53" fill="#fefdf3"/>
<rect x="211.43" y="293.66" width="11.60" height="11.53" fill="#b0b4d6"/>
<rect x="222.98" y="293.66" width="11.60" height="11.53" fill="#fefdf3"/>
<rect x="234.53" y="293.66" width="11.60" height="11.53" fill="#d0d2e6"/>
<rect x="246.08" y="293.66" width="11.60" height="11.53" fill="#a4aad0"/>
<rect x="261.26" y="293.66" width="11.60" height="11.53" fill="#939ac6"/>
<rect x="272.81" y="293.66" width="11.60" height="11.53" fill="#fefdf3"/>
<rect x="284.36" y="293.66" width="11.60" height="11.53" fill="#dadbeb"/>
<rect x="295.91" y="293.66" width="11.60" height="11.53" fill="#9fa4cc"/>
<rect x="311.09" y="293.66" width="11.60" height="11.53" fill="#5c5c5c"/>
<rect x="322.64" y="293.66" width="11.60" height="11.53" fill="#fdfae0"/>
<rect x="334.19" y="293.66" width="11.60" height="11.53" fill="#5c5c5c"/>
<rect x="345.74" y="293.66" width="11.60" height="11.53" fill="#5c5c5c"/>
<rect x="360.92" y="293.66" width="11.60" height="11.53" fill="#5c5c5c"/>
<rect x="372.47" y="293.66" width="11.60" height="11.53" fill="#fefdf3"/>
<rect x="384.02" y="293.66" width="11.60" height="11.53" fill="#5c5c5c"/>
<rect x="395.57" y="293.66" width="11.60" height="11.53" fill="#5c5c5c"/>
<rect x="410.75" y="293.66" width="11.60" height="11.53" fill="#5c5c5c"/>
<rect x="422.30" y="293.66" width="11.60" height="11.53" fill="#cbcde4"/>
<rect x="433.85" y="293.66" width="11.60" height="11.53" fill="#5c5c5c"/>
<rect x="445.40" y="293.66" width="11.60" height="11.53" fill="#5c5c5c"/>
<rect x="161.60" y="305.14" width="11.60" height="11.53" fill="#f9ec85"/>
<rect x="173.15" y="305.14" width="11.60" height="11.53" fill="#f9ed8c"/>
<rect x="184.70" y="305.14" width="11.60" height="11.53" fill="#faef9a"/>
<rect x="196.25" y="305.14" width="11.60" height="11.53" fill="#f9ed8c"/>
<rect x="211.43" y="305.14" width="11.60" height="11.53" fill="#f9ed8c"/>
<rect x="222.98" y="305.14" width="11.60" height="11.53" fill="#f9ed8c"/>
<rect x="234.53" y="305.14" width="11.60" height="11.53" fill="#faef9a"/>
<rect x="246.08" y="305.14" width="11.60" height="11.53" fill="#f9ec85"/>
<rect x="261.26" y="305.14" width="11.60" height="11.53" fill="#fcf8d2"/>
<rect x="272.81" y="305.14" width="11.60" height="11.53" fill="#f9ed8c"/>
<rect x="284.36" y="305.14" width="11.60" height="11.53" fill="#fbf2ae"/>
<rect x="295.91" y="305.14" width="11.60" height="11.53" fill="#faf0a0"/>
<rect x="311.09" y="305.14" width="11.60" height="11.53" fill="#5c5c5c"/>
<rect x="322.64" y="305.14" width="11.60" height="11.53" fill="#f8e978"/>
<rect x="334.19" y="305.14" width="11.60" height="11.53" fill="#5c5c5c"/>
<rect x="345.74" y="305.14" width="11.60" height="11.53" fill="#5c5c5c"/>
<rect x="360.92" y="305.14" width="11.60" height="11.53" fill="#5c5c5c"/>
<rect x="372.47" y="305.14" width="11.60" height="11.53" fill="#f9ed8c"/>
<rect x="384.02" y="305.14" width="11.60" height="11.53" fill="#5c5c5c"/>
<rect x="395.57" y="305.14" width="11.60" height="11.53" fill="#5c5c5c"/>
<rect x="410.75" y="305.14" width="11.60" height="11.53" fill="#5c5c5c"/>
<rect x="422.30" y="305.14" width="11.60" height="11.53" fill="#f9ee93"/>
<rect x="433.85" y="305.14" width="11.60" height="11.53" fill="#5c5c5c"/>
<rect x="445.40" y="305.14" width="11.60" height="11.53" fill="#5c5c5c"/>
<rect x="161.60" y="316.62" width="11.60" height="11.53" fill="#e4e5f0"/>
<rect x="173.15" y="316.62" width="11.60" height="11.53" fill="#fefdf3"/>
<rect x="184.70" y="316.62" width="11.60" height="11.53" fill="#fefef9"/>
<rect x="196.25" y="316.62" width="11.60" height="11.53" fill="#fdfbe6"/>
<rect x="211.43" y="316.62" width="11.60" height="11.53" fill="#939ac6"/>
<rect x="222.98" y="316.62" width="11.60" height="11.53" fill="#999fc9"/>
<rect x="234.53" y="316.62" width="11.60" height="11.53" fill="#9fa4cc"/>
<rect x="246.08" y="316.62" width="11.60" height="11.53" fill="#6772ab"/>
<rect x="261.26" y="316.62" width="11.60" height="11.53" fill="#999fc9"/>
<rect x="272.81" y="316.62" width="11.60" height="11.53" fill="#9fa4cc"/>
<rect x="284.36" y="316.62" width="11.60" height="11.53" fill="#868ebe"/>
<rect x="295.91" y="316.62" width="11.60" height="11.53" fill="#999fc9"/>
<rect x="311.09" y="316.62" width="11.60" height="11.53" fill="#5c5c5c"/>
<rect x="322.64" y="316.62" width="11.60" height="11.53" fill="#b0b4d6"/>
<rect x="334.19" y="316.62" width="11.60" height="11.53" fill="#5c5c5c"/>
<rect x="345.74" y="316.62" width="11.60" height="11.53" fill="#5c5c5c"/>
<rect x="360.92" y="316.62" width="11.60" height="11.53" fill="#5c5c5c"/>
<rect x="372.47" y="316.62" width="11.60" height="11.53" fill="#999fc9"/>
<rect x="384.02" y="316.62" width="11.60" height="11.53" fill="#5c5c5c"/>
<rect x="395.57" y="316.62" width="11.60" height="11.53" fill="#5c5c5c"/>
<rect x="410.75" y="316.62" width="11.60" height="11.53" fill="#5c5c5c"/>
<rect x="422.30" y="316.62" width="11.60" height="11.53" fill="#aaafd3"/>
<rect x="433.85" y="316.62" width="11.60" height="11.53" fill="#5c5c5c"/>
<rect x="445.40" y="316.62" width="11.60" height="11.53" fill="#5c5c5c"/>
<rect x="161.60" y="328.10" width="11.60" height="11.53" fill="#fcf5bd"/>
<rect x="173.15" y="328.10" width="11.60" height="11.53" fill="#fcf6c4"/>
<rect x="184.70" y="328.10" width="11.60" height="11.53" fill="#fefdf3"/>
<rect x="196.25" y="328.10" width="11.60" height="11.53" fill="#fdfae0"/>
<rect x="211.43" y="328.10" width="11.60" height="11.53" fill="#eff0f5"/>
<rect x="222.98" y="328.10" width="11.60" height="11.53" fill="#dfe0ee"/>
<rect x="234.53" y="328.10" width="11.60" height="11.53" fill="#c0c3de"/>
<rect x="246.08" y="328.10" width="11.60" height="11.53" fill="#dadbeb"/>
<rect x="261.26" y="328.10" width="11.60" height="11.53" fill="#bbbedc"/>
<rect x="272.81" y="328.10" width="11.60" height="11.53" fill="#c6c8e1"/>
<rect x="284.36" y="328.10" width="11.60" height="11.53" fill="#b5b9d9"/>
<rect x="295.91" y="328.10" width="11.60" height="11.53" fill="#bbbedc"/>
<rect x="311.09" y="328.10" width="11.60" height="11.53" fill="#5c5c5c"/>
<rect x="322.64" y="328.10" width="11.60" height="11.53" fill="#d5d7e9"/>
<rect x="334.19" y="328.10" width="11.60" height="11.53" fill="#5c5c5c"/>
<rect x="345.74" y="328.10" width="11.60" height="11.53" fill="#5c5c5c"/>
<rect x="360.92" y="328.10" width="11.60" height="11.53" fill="#5c5c5c"/>
<rect x="372.47" y="328.10" width="11.60" height="11.53" fill="#aaafd3"/>
<rect x="384.02" y="328.10" width="11.60" height="11.53" fill="#5c5c5c"/>
<rect x="395.57" y="328.10" width="11.60" height="11.53" fill="#5c5c5c"/>
<rect x="410.75" y="328.10" width="11.60" height="11.53" fill="#5c5c5c"/>
<rect x="422.30" y="328.10" width="11.60" height="11.53" fill="#c0c3de"/>
<rect x="433.85" y="328.10" width="11.60" height="11.53" fill="#5c5c5c"/>
<rect x="445.40" y="328.10" width="11.60" height="11.53" fill="#5c5c5c"/>
<rect x="161.60" y="339.58" width="11.60" height="11.53" fill="#f9ee93"/>
<rect x="173.15" y="339.58" width="11.60" height="11.53" fill="#faef9a"/>
<rect x="184.70" y="339.58" width="11.60" height="11.53" fill="#fbf2ae"/>
<rect x="196.25" y="339.58" width="11.60" height="11.53" fill="#f9ec85"/>
<rect x="211.43" y="339.58" width="11.60" height="11.53" fill="#fbf2ae"/>
<rect x="222.98" y="339.58" width="11.60" height="11.53" fill="#939ac6"/>
<rect x="234.53" y="339.58" width="11.60" height="11.53" fill="#fdf9d9"/>
<rect x="246.08" y="339.58" width="11.60" height="11.53" fill="#fbf2ae"/>
<rect x="261.26" y="339.58" width="11.60" height="11.53" fill="#d0d2e6"/>
<rect x="272.81" y="339.58" width="11.60" height="11.53" fill="#a4aad0"/>
<rect x="284.36" y="339.58" width="11.60" height="11.53" fill="#cbcde4"/>
<rect x="295.91" y="339.58" width="11.60" height="11.53" fill="#fefef9"/>
<rect x="311.09" y="339.58" width="11.60" height="11.53" fill="#5c5c5c"/>
<rect x="322.64" y="339.58" width="11.60" height="11.53" fill="#c6c8e1"/>
<rect x="334.19" y="339.58" width="11.60" height="11.53" fill="#5c5c5c"/>
<rect x="345.74" y="339.58" width="11.60" height="11.53" fill="#5c5c5c"/>
<rect x="360.92" y="339.58" width="11.60" height="11.53" fill="#5c5c5c"/>
<rect x="372.47" y="339.58" width="11.60" height="11.53" fill="#b0b4d6"/>
<rect x="384.02" y="339.58" width="11.60" height="11.53" fill="#5c5c5c"/>
<rect x="395.57" y="339.58" width="11.60" height="11.53" fill="#5c5c5c"/>
<rect x="410.75" y="339.58" width="11.60" height="11.53" fill="#5c5c5c"/>
<rect x="422.30" y="339.58" width="11.60" height="11.53" fill="#ececf4"/>
<rect x="433.85" y="339.58" width="11.60" height="11.53" fill="#5c5c5c"/>
<rect x="445.40" y="339.58" width="11.60" height="11.53" fill="#5c5c5c"/>
<rect x="161.60" y="351.06" width="11.60" height="11.53" fill="#fbf3b5"/>
<rect x="173.15" y="351.06" width="11.60" height="11.53" fill="#faef9a"/>
<rect x="184.70" y="351.06" width="11.60" height="11.53" fill="#fdfcec"/>
<rect x="196.25" y="351.06" width="11.60" height="11.53" fill="#fdfbe6"/>
<rect x="211.43" y="351.06" width="11.60" height="11.53" fill="#fdf9d9"/>
<rect x="222.98" y="351.06" width="11.60" height="11.53" fill="#fefdf3"/>
<rect x="234.53" y="351.06" width="11.60" height="11.53" fill="#fefdf3"/>
<rect x="246.08" y="351.06" width="11.60" height="11.53" fill="#fdfae0"/>
<rect x="261.26" y="351.06" width="11.60" height="11.53" fill="#cbcde4"/>
<rect x="272.81" y="351.06" width="11.60" height="11.53" fill="#fdfae0"/>
<rect x="284.36" y="351.06" width="11.60" height="11.53" fill="#8d94c2"/>
<rect x="295.91" y="351.06" width="11.60" height="11.53" fill="#e4e5f0"/>
<rect x="311.09" y="351.06" width="11.60" height="11.53" fill="#5c5c5c"/>
<rect x="322.64" y="351.06" width="11.60" height="11.53" fill="#fcf7cb"/>
<rect x="334.19" y="351.06" width="11.60" height="11.53" fill="#5c5c5c"/>
<rect x="345.74" y="351.06" width="11.60" height="11.53" fill="#5c5c5c"/>
<rect x="360.92" y="351.06" width="11.60" height="11.53" fill="#5c5c5c"/>
<rect x="372.47" y="351.06" width="11.60" height="11.53" fill="#fefdf3"/>
<rect x="384.02" y="351.06" width="11.60" height="11.53" fill="#5c5c5c"/>
<rect x="395.57" y="351.06" width="11.60" height="11.53" fill="#5c5c5c"/>
<rect x="410.75" y="351.06" width="11.60" height="11.53" fill="#5c5c5c"/>
<rect x="422.30" y="351.06" width="11.60" height="11.53" fill="#a4aad0"/>
<rect x="433.85" y="351.06" width="11.60" height="11.53" fill="#5c5c5c"/>
<rect x="445.40" y="351.06" width="11.60" height="11.53" fill="#5c5c5c"/>
<rect x="161.60" y="362.54" width="11.60" height="11.53" fill="#fcf5bd"/>
<rect x="173.15" y="362.54" width="11.60" height="11.53" fill="#faef9a"/>
<rect x="184.70" y="362.54" width="11.60" height="11.53" fill="#f3f3f7"/>
<rect x="196.25" y="362.54" width="11.60" height="11.53" fill="#ececf4"/>
<rect x="211.43" y="362.54" width="11.60" height="11.53" fill="#fcf8d2"/>
<rect x="222.98" y="362.54" width="11.60" height="11.53" fill="#fbf1a7"/>
<rect x="234.53" y="362.54" width="11.60" height="11.53" fill="#fdfae0"/>
<rect x="246.08" y="362.54" width="11.60" height="11.53" fill="#fcf8d2"/>
<rect x="261.26" y="362.54" width="11.60" height="11.53" fill="#fefef9"/>
<rect x="272.81" y="362.54" width="11.60" height="11.53" fill="#f9ec85"/>
<rect x="284.36" y="362.54" width="11.60" height="11.53" fill="#fcf8d2"/>
<rect x="295.91" y="362.54" width="11.60" height="11.53" fill="#fdfbe6"/>
<rect x="311.09" y="362.54" width="11.60" height="11.53" fill="#5c5c5c"/>
<rect x="322.64" y="362.54" width="11.60" height="11.53" fill="#f9eb7e"/>
<rect x="334.19" y="362.54" width="11.60" height="11.53" fill="#5c5c5c"/>
<rect x="345.74" y="362.54" width="11.60" height="11.53" fill="#5c5c5c"/>
<rect x="360.92" y="362.54" width="11.60" height="11.53" fill="#5c5c5c"/>
<rect x="372.47" y="362.54" width="11.60" height="11.53" fill="#f8e45e"/>
<rect x="384.02" y="362.54" width="11.60" height="11.53" fill="#5c5c5c"/>
<rect x="395.57" y="362.54" width="11.60" height="11.53" fill="#5c5c5c"/>
<rect x="410.75" y="362.54" width="11.60" height="11.53" fill="#5c5c5c"/>
<rect x="422.30" y="362.54" width="11.60" height="11.53" fill="#fcf7cb"/>
<rect x="433.85" y="362.54" width="11.60" height="11.53" fill="#5c5c5c"/>
<rect x="445.40" y="362.54" width="11.60" height="11.53" fill="#5c5c5c"/>
<rect x="161.60" y="374.02" width="11.60" height="11.53" fill="#cbcde4"/>
<rect x="173.15" y="374.02" width="11.60" height="11.53" fill="#a4aad0"/>
<rect x="184.70" y="374.02" width="11.60" height="11.53" fill="#939ac6"/>
<rect x="196.25" y="374.02" width="11.60" height="11.53" fill="#b0b4d6"/>
<rect x="211.43" y="374.02" width="11.60" height="11.53" fill="#939ac6"/>
<rect x="222.98" y="374.02" width="11.60" height="11.53" fill="#aaafd3"/>
<rect x="234.53" y="374.02" width="11.60" height="11.53" fill="#56629f"/>
<rect x="246.08" y="374.02" width="11.60" height="11.53" fill="#b0b4d6"/>
<rect x="261.26" y="374.02" width="11.60" height="11.53" fill="#a4aad0"/>
<rect x="272.81" y="374.02" width="11.60" height="11.53" fill="#a4aad0"/>
<rect x="284.36" y="374.02" width="11.60" height="11.53" fill="#999fc9"/>
<rect x="295.91" y="374.02" width="11.60" height="11.53" fill="#56629f"/>
<rect x="311.09" y="374.02" width="11.60" height="11.53" fill="#5c5c5c"/>
<rect x="322.64" y="374.02" width="11.60" height="11.53" fill="#aaafd3"/>
<rect x="334.19" y="374.02" width="11.60" height="11.53" fill="#5c5c5c"/>
<rect x="345.74" y="374.02" width="11.60" height="11.53" fill="#5c5c5c"/>
<rect x="360.92" y="374.02" width="11.60" height="11.53" fill="#5c5c5c"/>
<rect x="372.47" y="374.02" width="11.60" height="11.53" fill="#a4aad0"/>
<rect x="384.02" y="374.02" width="11.60" height="11.53" fill="#5c5c5c"/>
<rect x="395.57" y="374.02" width="11.60" height="11.53" fill="#5c5c5c"/>
<rect x="410.75" y="374.02" width="11.60" height="11.53" fill="#5c5c5c"/>
<rect x="422.30" y="374.02" width="11.60" height="11.53" fill="#9fa4cc"/>
<rect x="433.85" y="374.02" width="11.60" height="11.53" fill="#5c5c5c"/>
<rect x="445.40" y="374.02" width="11.60" height="11.53" fill="#5c5c5c"/>
<rect x="161.60" y="385.50" width="11.60" height="11.53" fill="#fdfae0"/>
<rect x="173.15" y="385.50" width="11.60" height="11.53" fill="#fefdf3"/>
<rect x="184.70" y="385.50" width="11.60" height="11.53" fill="#eff0f5"/>
<rect x="196.25" y="385.50" width="11.60" height="11.53" fill="#f9f9fa"/>
<rect x="211.43" y="385.50" width="11.60" height="11.53" fill="#fdfbe6"/>
<rect x="222.98" y="385.50" width="11.60" height="11.53" fill="#fefef9"/>
<rect x="234.53" y="385.50" width="11.60" height="11.53" fill="#fefdf3"/>
<rect x="246.08" y="385.50" width="11.60" height="11.53" fill="#fefdf3"/>
<rect x="261.26" y="385.50" width="11.60" height="11.53" fill="#dadbeb"/>
<rect x="272.81" y="385.50" width="11.60" height="11.53" fill="#ececf4"/>
<rect x="284.36" y="385.50" width="11.60" height="11.53" fill="#fdfdfc"/>
<rect x="295.91" y="385.50" width="11.60" height="11.53" fill="#fdfbe6"/>
<rect x="311.09" y="385.50" width="11.60" height="11.53" fill="#5c5c5c"/>
<rect x="322.64" y="385.50" width="11.60" height="11.53" fill="#f3f3f7"/>
<rect x="334.19" y="385.50" width="11.60" height="11.53" fill="#5c5c5c"/>
<rect x="345.74" y="385.50" width="11.60" height="11.53" fill="#5c5c5c"/>
<rect x="360.92" y="385.50" width="11.60" height="11.53" fill="#5c5c5c"/>
<rect x="372.47" y="385.50" width="11.60" height="11.53" fill="#e4e5f0"/>
<rect x="384.02" y="385.50" width="11.60" height="11.53" fill="#5c5c5c"/>
<rect x="395.57" y="385.50" width="11.60" height="11.53" fill="#5c5c5c"/>
<rect x="410.75" y="385.50" width="11.60" height="11.53" fill="#5c5c5c"/>
<rect x="422.30" y="385.50" width="11.60" height="11.53" fill="#f9f9fa"/>
<rect x="433.85" y="385.50" width="11.60" height="11.53" fill="#5c5c5c"/>
<rect x="445.40" y="385.50" width="11.60" height="11.53" fill="#5c5c5c"/>
<rect x="161.60" y="396.98" width="11.60" height="11.53" fill="#fcf7cb"/>
<rect x="173.15" y="396.98" width="11.60" height="11.53" fill="#eff0f5"/>
<rect x="184.70" y="396.98" width="11.60" height="11.53" fill="#e4e5f0"/>
<rect x="196.25" y="396.98" width="11.60" height="11.53" fill="#fdfdfc"/>
<rect x="211.43" y="396.98" width="11.60" height="11.53" fill="#fefdf3"/>
<rect x="222.98" y="396.98" width="11.60" height="11.53" fill="#fdfae0"/>
<rect x="234.53" y="396.98" width="11.60" height="11.53" fill="#d0d2e6"/>
<rect x="246.08" y="396.98" width="11.60" height="11.53" fill="#ececf4"/>
<rect x="261.26" y="396.98" width="11.60" height="11.53" fill="#fefef9"/>
<rect x="272.81" y="396.98" width="11.60" height="11.53" fill="#fdfdfc"/>
<rect x="284.36" y="396.98" width="11.60" height="11.53" fill="#e4e5f0"/>
<rect x="295.91" y="396.98" width="11.60" height="11.53" fill="#fbfbfb"/>
<rect x="311.09" y="396.98" width="11.60" height="11.53" fill="#5c5c5c"/>
<rect x="322.64" y="396.98" width="11.60" height="11.53" fill="#fdfdfc"/>
<rect x="334.19" y="396.98" width="11.60" height="11.53" fill="#5c5c5c"/>
<rect x="345.74" y="396.98" width="11.60" height="11.53" fill="#5c5c5c"/>
<rect x="360.92" y="396.98" width="11.60" height="11.53" fill="#5c5c5c"/>
<rect x="372.47" y="396.98" width="11.60" height="11.53" fill="#e4e5f0"/>
<rect x="384.02" y="396.98" width="11.60" height="11.53" fill="#5c5c5c"/>
<rect x="395.57" y="396.98" width="11.60" height="11.53" fill="#5c5c5c"/>
<rect x="410.75" y="396.98" width="11.60" height="11.53" fill="#5c5c5c"/>
<rect x="422.30" y="396.98" width="11.60" height="11.53" fill="#fdfdfc"/>
<rect x="433.85" y="396.98" width="11.60" height="11.53" fill="#5c5c5c"/>
<rect x="445.40" y="396.98" width="11.60" height="11.53" fill="#5c5c5c"/>
<rect x="161.60" y="408.46" width="11.60" height="11.53" fill="#fcf8d2"/>
<rect x="173.15" y="408.46" width="11.60" height="11.53" fill="#e4e5f0"/>
<rect x="184.70" y="408.46" width="11.60" height="11.53" fill="#b0b4d6"/>
<rect x="196.25" y="408.46" width="11.60" height="11.53" fill="#fefef9"/>
<rect x="211.43" y="408.46" width="11.60" height="11.53" fill="#fefdf3"/>
<rect x="222.98" y="408.46" width="11.60" height="11.53" fill="#b0b4d6"/>
<rect x="234.53" y="408.46" width="11.60" height="11.53" fill="#cbcde4"/>
<rect x="246.08" y="408.46" width="11.60" height="11.53" fill="#f7f7f9"/>
<rect x="261.26" y="408.46" width="11.60" height="11.53" fill="#fefef9"/>
<rect x="272.81" y="408.46" width="11.60" height="11.53" fill="#939ac6"/>
<rect x="284.36" y="408.46" width="11.60" height="11.53" fill="#eff0f5"/>
<rect x="295.91" y="408.46" width="11.60" height="11.53" fill="#fefef9"/>
<rect x="311.09" y="408.46" width="11.60" height="11.53" fill="#5c5c5c"/>
<rect x="322.64" y="408.46" width="11.60" height="11.53" fill="#bbbedc"/>
<rect x="334.19" y="408.46" width="11.60" height="11.53" fill="#5c5c5c"/>
<rect x="345.74" y="408.46" width="11.60" height="11.53" fill="#5c5c5c"/>
<rect x="360.92" y="408.46" width="11.60" height="11.53" fill="#5c5c5c"/>
<rect x="372.47" y="408.46" width="11.60" height="11.53" fill="#cbcde4"/>
<rect x="384.02" y="408.46" width="11.60" height="11.53" fill="#5c5c5c"/>
<rect x="395.57" y="408.46" width="11.60" height="11.53" fill="#5c5c5c"/>
<rect x="410.75" y="408.46" width="11.60" height="11.53" fill="#5c5c5c"/>
<rect x="422.30" y="408.46" width="11.60" height="11.53" fill="#fefef9"/>
<rect x="433.85" y="408.46" width="11.60" height="11.53" fill="#5c5c5c"/>
<rect x="445.40" y="408.46" width="11.60" height="11.53" fill="#5c5c5c"/>
<rect x="161.60" y="419.94" width="11.60" height="11.53" fill="#f8e76a"/>
<rect x="173.15" y="419.94" width="11.60" height="11.53" fill="#4d4d4d"/>
<rect x="184.70" y="419.94" width="11.60" height="11.53" fill="#f9ee93"/>
<rect x="196.25" y="419.94" width="11.60" height="11.53" fill="#f9ee93"/>
<rect x="211.43" y="419.94" width="11.60" height="11.53" fill="#f9eb7e"/>
<rect x="222.98" y="419.94" width="11.60" height="11.53" fill="#4d4d4d"/>
<rect x="234.53" y="419.94" width="11.60" height="11.53" fill="#faef9a"/>
<rect x="246.08" y="419.94" width="11.60" height="11.53" fill="#f7e358"/>
<rect x="261.26" y="419.94" width="11.60" height="11.53" fill="#f8e45e"/>
<rect x="272.81" y="419.94" width="11.60" height="11.53" fill="#4d4d4d"/>
<rect x="284.36" y="419.94" width="11.60" height="11.53" fill="#4d4d4d"/>
<rect x="295.91" y="419.94" width="11.60" height="11.53" fill="#f9ec85"/>
<rect x="311.09" y="419.94" width="11.60" height="11.53" fill="#5c5c5c"/>
<rect x="322.64" y="419.94" width="11.60" height="11.53" fill="#faef9a"/>
<rect x="334.19" y="419.94" width="11.60" height="11.53" fill="#5c5c5c"/>
<rect x="345.74" y="419.94" width="11.60" height="11.53" fill="#5c5c5c"/>
<rect x="360.92" y="419.94" width="11.60" height="11.53" fill="#5c5c5c"/>
<rect x="372.47" y="419.94" width="11.60" height="11.53" fill="#5c5c5c"/>
<rect x="384.02" y="419.94" width="11.60" height="11.53" fill="#5c5c5c"/>
<rect x="395.57" y="419.94" width="11.60" height="11.53" fill="#5c5c5c"/>
<rect x="410.75" y="419.94" width="11.60" height="11.53" fill="#5c5c5c"/>
<rect x="422.30" y="419.94" width="11.60" height="11.53" fill="#5c5c5c"/>
<rect x="433.85" y="419.94" width="11.60" height="11.53" fill="#5c5c5c"/>
<rect x="445.40" y="419.94" width="11.60" height="11.53" fill="#5c5c5c"/>
<rect x="161.60" y="431.42" width="11.60" height="11.53" fill="#fbf3b5"/>
<rect x="173.15" y="431.42" width="11.60" height="11.53" fill="#a4aad0"/>
<rect x="184.70" y="431.42" width="11.60" height="11.53" fill="#fcf8d2"/>
<rect x="196.25" y="431.42" width="11.60" height="11.53" fill="#f9eb7e"/>
<rect x="211.43" y="431.42" width="11.60" height="11.53" fill="#fcf8d2"/>
<rect x="222.98" y="431.42" width="11.60" height="11.53" fill="#b0b4d6"/>
<rect x="234.53" y="431.42" width="11.60" height="11.53" fill="#fbf2ae"/>
<rect x="246.08" y="431.42" width="11.60" height="11.53" fill="#faf0a0"/>
<rect x="261.26" y="431.42" width="11.60" height="11.53" fill="#fdfae0"/>
<rect x="272.81" y="431.42" width="11.60" height="11.53" fill="#b0b4d6"/>
<rect x="284.36" y="431.42" width="11.60" height="11.53" fill="#b0b4d6"/>
<rect x="295.91" y="431.42" width="11.60" height="11.53" fill="#fbf2ae"/>
<rect x="311.09" y="431.42" width="11.60" height="11.53" fill="#5c5c5c"/>
<rect x="322.64" y="431.42" width="11.60" height="11.53" fill="#fcf6c4"/>
<rect x="334.19" y="431.42" width="11.60" height="11.53" fill="#5c5c5c"/>
<rect x="345.74" y="431.42" width="11.60" height="11.53" fill="#5c5c5c"/>
<rect x="360.92" y="431.42" width="11.60" height="11.53" fill="#5c5c5c"/>
<rect x="372.47" y="431.42" width="11.60" height="11.53" fill="#a4aad0"/>
<rect x="384.02" y="431.42" width="11.60" height="11.53" fill="#5c5c5c"/>
<rect x="395.57" y="431.42" width="11.60" height="11.53" fill="#5c5c5c"/>
<rect x="410.75" y="431.42" width="11.60" height="11.53" fill="#5c5c5c"/>
<rect x="422.30" y="431.42" width="11.60" height="11.53" fill="#a4aad0"/>
<rect x="433.85" y="431.42" width="11.60" height="11.53" fill="#5c5c5c"/>
<rect x="445.40" y="431.42" width="11.60" height="11.53" fill="#5c5c5c"/>
<rect x="161.60" y="442.90" width="11.60" height="11.53" fill="#f9ee93"/>
<rect x="173.15" y="442.90" width="11.60" height="11.53" fill="#f9ee93"/>
<rect x="184.70" y="442.90" width="11.60" height="11.53" fill="#fbf2ae"/>
<rect x="196.25" y="442.90" width="11.60" height="11.53" fill="#faf0a0"/>
<rect x="211.43" y="442.90" width="11.60" height="11.53" fill="#f9ed8c"/>
<rect x="222.98" y="442.90" width="11.60" height="11.53" fill="#faef9a"/>
<rect x="234.53" y="442.90" width="11.60" height="11.53" fill="#f7e152"/>
<rect x="246.08" y="442.90" width="11.60" height="11.53" fill="#f9ee93"/>
<rect x="261.26" y="442.90" width="11.60" height="11.53" fill="#fcf7cb"/>
<rect x="272.81" y="442.90" width="11.60" height="11.53" fill="#4d4d4d"/>
<rect x="284.36" y="442.90" width="11.60" height="11.53" fill="#f9ec85"/>
<rect x="295.91" y="442.90" width="11.60" height="11.53" fill="#f8e978"/>
<rect x="311.09" y="442.90" width="11.60" height="11.53" fill="#5c5c5c"/>
<rect x="322.64" y="442.90" width="11.60" height="11.53" fill="#f7e358"/>
<rect x="334.19" y="442.90" width="11.60" height="11.53" fill="#5c5c5c"/>
<rect x="345.74" y="442.90" width="11.60" height="11.53" fill="#5c5c5c"/>
<rect x="360.92" y="442.90" width="11.60" height="11.53" fill="#5c5c5c"/>
<rect x="372.47" y="442.90" width="11.60" height="11.53" fill="#f8e76a"/>
<rect x="384.02" y="442.90" width="11.60" height="11.53" fill="#5c5c5c"/>
<rect x="395.57" y="442.90" width="11.60" height="11.53" fill="#5c5c5c"/>
<rect x="410.75" y="442.90" width="11.60" height="11.53" fill="#5c5c5c"/>
<rect x="422.30" y="442.90" width="11.60" height="11.53" fill="#f8e978"/>
<rect x="433.85" y="442.90" width="11.60" height="11.53" fill="#5c5c5c"/>
<rect x="445.40" y="442.90" width="11.60" height="11.53" fill="#5c5c5c"/>
<rect x="161.60" y="454.38" width="11.60" height="11.53" fill="#faef9a"/>
<rect x="173.15" y="454.38" width="11.60" height="11.53" fill="#faef9a"/>
<rect x="184.70" y="454.38" width="11.60" height="11.53" fill="#fbf2ae"/>
<rect x="196.25" y="454.38" width="11.60" height="11.53" fill="#faf0a0"/>
<rect x="211.43" y="454.38" width="11.60" height="11.53" fill="#fbf1a7"/>
<rect x="222.98" y="454.38" width="11.60" height="11.53" fill="#faf0a0"/>
<rect x="234.53" y="454.38" width="11.60" height="11.53" fill="#fbf3b5"/>
<rect x="246.08" y="454.38" width="11.60" height="11.53" fill="#faef9a"/>
<rect x="261.26" y="454.38" width="11.60" height="11.53" fill="#fdfcec"/>
<rect x="272.81" y="454.38" width="11.60" height="11.53" fill="#fcf5bd"/>
<rect x="284.36" y="454.38" width="11.60" height="11.53" fill="#fdf9d9"/>
<rect x="295.91" y="454.38" width="11.60" height="11.53" fill="#fcf7cb"/>
<rect x="311.09" y="454.38" width="11.60" height="11.53" fill="#5c5c5c"/>
<rect x="322.64" y="454.38" width="11.60" height="11.53" fill="#fcf7cb"/>
<rect x="334.19" y="454.38" width="11.60" height="11.53" fill="#5c5c5c"/>
<rect x="345.74" y="454.38" width="11.60" height="11.53" fill="#5c5c5c"/>
<rect x="360.92" y="454.38" width="11.60" height="11.53" fill="#5c5c5c"/>
<rect x="372.47" y="454.38" width="11.60" height="11.53" fill="#fcf8d2"/>
<rect x="384.02" y="454.38" width="11.60" height="11.53" fill="#5c5c5c"/>
<rect x="395.57" y="454.38" width="11.60" height="11.53" fill="#5c5c5c"/>
<rect x="410.75" y="454.38" width="11.60" height="11.53" fill="#5c5c5c"/>
<rect x="422.30" y="454.38" width="11.60" height="11.53" fill="#fbf3b5"/>
<rect x="433.85" y="454.38" width="11.60" height="11.53" fill="#5c5c5c"/>
<rect x="445.40" y="454.38" width="11.60" height="11.53" fill="#5c5c5c"/>
<line x1="173.15" y1="270.70" x2="173.15" y2="465.86" stroke="#9a9a9a" stroke-width="0.75"/>
<line x1="184.70" y1="270.70" x2="184.70" y2="465.86" stroke="#9a9a9a" stroke-width="0.75"/>
<line x1="196.25" y1="270.70" x2="196.25" y2="465.86" stroke="#9a9a9a" stroke-width="0.75"/>
<line x1="222.98" y1="270.70" x2="222.98" y2="465.86" stroke="#9a9a9a" stroke-width="0.75"/>
<line x1="234.53" y1="270.70" x2="234.53" y2="465.86" stroke="#9a9a9a" stroke-width="0.75"/>
<line x1="246.08" y1="270.70" x2="246.08" y2="465.86" stroke="#9a9a9a" stroke-width="0.75"/>
<line x1="272.81" y1="270.70" x2="272.81" y2="465.86" stroke="#9a9a9a" stroke-width="0.75"/>
<line x1="284.36" y1="270.70" x2="284.36" y2="465.86" stroke="#9a9a9a" stroke-width="0.75"/>
<line x1="295.91" y1="270.70" x2="295.91" y2="465.86" stroke="#9a9a9a" stroke-width="0.75"/>
<line x1="322.64" y1="270.70" x2="322.64" y2="465.86" stroke="#9a9a9a" stroke-width="0.75"/>
<line x1="334.19" y1="270.70" x2="334.19" y2="465.86" stroke="#9a9a9a" stroke-width="0.75"/>
<line x1="345.74" y1="270.70" x2="345.74" y2="465.86" stroke="#9a9a9a" stroke-width="0.75"/>
<line x1="372.47" y1="270.70" x2="372.47" y2="465.86" stroke="#9a9a9a" stroke-width="0.75"/>
<line x1="384.02" y1="270.70" x2="384.02" y2="465.86" stroke="#9a9a9a" stroke-width="0.75"/>
<line x1="395.57" y1="270.70" x2="395.57" y2="465.86" stroke="#9a9a9a" stroke-width="0.75"/>
<line x1="422.30" y1="270.70" x2="422.30" y2="465.86" stroke="#9a9a9a" stroke-width="0.75"/>
<line x1="433.85" y1="270.70" x2="433.85" y2="465.86" stroke="#9a9a9a" stroke-width="0.75"/>
<line x1="445.40" y1="270.70" x2="445.40" y2="465.86" stroke="#9a9a9a" stroke-width="0.75"/>
<line x1="161.60" y1="282.18" x2="207.80" y2="282.18" stroke="#9a9a9a" stroke-width="0.75"/>
<line x1="211.43" y1="282.18" x2="257.63" y2="282.18" stroke="#9a9a9a" stroke-width="0.75"/>
<line x1="261.26" y1="282.18" x2="307.46" y2="282.18" stroke="#9a9a9a" stroke-width="0.75"/>
<line x1="311.09" y1="282.18" x2="357.29" y2="282.18" stroke="#9a9a9a" stroke-width="0.75"/>
<line x1="360.92" y1="282.18" x2="407.12" y2="282.18" stroke="#9a9a9a" stroke-width="0.75"/>
<line x1="410.75" y1="282.18" x2="456.95" y2="282.18" stroke="#9a9a9a" stroke-width="0.75"/>
<line x1="161.60" y1="293.66" x2="207.80" y2="293.66" stroke="#9a9a9a" stroke-width="0.75"/>
<line x1="211.43" y1="293.66" x2="257.63" y2="293.66" stroke="#9a9a9a" stroke-width="0.75"/>
<line x1="261.26" y1="293.66" x2="307.46" y2="293.66" stroke="#9a9a9a" stroke-width="0.75"/>
<line x1="311.09" y1="293.66" x2="357.29" y2="293.66" stroke="#9a9a9a" stroke-width="0.75"/>
<line x1="360.92" y1="293.66" x2="407.12" y2="293.66" stroke="#9a9a9a" stroke-width="0.75"/>
<line x1="410.75" y1="293.66" x2="456.95" y2="293.66" stroke="#9a9a9a" stroke-width="0.75"/>
<line x1="161.60" y1="305.14" x2="207.80" y2="305.14" stroke="#9a9a9a" stroke-width="0.75"/>
<line x1="211.43" y1="305.14" x2="257.63" y2="305.14" stroke="#9a9a9a" stroke-width="0.75"/>
<line x1="261.26" y1="305.14" x2="307.46" y2="305.14" stroke="#9a9a9a" stroke-width="0.75"/>
<line x1="311.09" y1="305.14" x2="357.29" y2="305.14" stroke="#9a9a9a" stroke-width="0.75"/>
<line x1="360.92" y1="305.14" x2="407.12" y2="305.14" stroke="#9a9a9a" stroke-width="0.75"/>
<line x1="410.75" y1="305.14" x2="456.95" y2="305.14" stroke="#9a9a9a" stroke-width="0.75"/>
<line x1="161.60" y1="316.62" x2="207.80" y2="316.62" stroke="#9a9a9a" stroke-width="0.75"/>
<line x1="211.43" y1="316.62" x2="257.63" y2="316.62" stroke="#9a9a9a" stroke-width="0.75"/>
<line x1="261.26" y1="316.62" x2="307.46" y2="316.62" stroke="#9a9a9a" stroke-width="0.75"/>
<line x1="311.09" y1="316.62" x2="357.29" y2="316.62" stroke="#9a9a9a" stroke-width="0.75"/>
<line x1="360.92" y1="316.62" x2="407.12" y2="316.62" stroke="#9a9a9a" stroke-width="0.75"/>
<line x1="410.75" y1="316.62" x2="456.95" y2="316.62" stroke="#9a9a9a" stroke-width="0.75"/>
<line x1="161.60" y1="328.10" x2="207.80" y2="328.10" stroke="#9a9a9a" stroke-width="0.75"/>
<line x1="211.43" y1="328.10" x2="257.63" y2="328.10" stroke="#9a9a9a" stroke-width="0.75"/>
<line x1="261.26" y1="328.10" x2="307.46" y2="328.10" stroke="#9a9a9a" stroke-width="0.75"/>
<line x1="311.09" y1="328.10" x2="357.29" y2="328.10" stroke="#9a9a9a" stroke-width="0.75"/>
<line x1="360.92" y1="328.10" x2="407.12" y2="328.10" stroke="#9a9a9a" stroke-width="0.75"/>
<line x1="410.75" y1="328.10" x2="456.95" y2="328.10" stroke="#9a9a9a" stroke-width="0.75"/>
<line x1="161.60" y1="339.58" x2="207.80" y2="339.58" stroke="#9a9a9a" stroke-width="0.75"/>
<line x1="211.43" y1="339.58" x2="257.63" y2="339.58" stroke="#9a9a9a" stroke-width="0.75"/>
<line x1="261.26" y1="339.58" x2="307.46" y2="339.58" stroke="#9a9a9a" stroke-width="0.75"/>
<line x1="311.09" y1="339.58" x2="357.29" y2="339.58" stroke="#9a9a9a" stroke-width="0.75"/>
<line x1="360.92" y1="339.58" x2="407.12" y2="339.58" stroke="#9a9a9a" stroke-width="0.75"/>
<line x1="410.75" y1="339.58" x2="456.95" y2="339.58" stroke="#9a9a9a" stroke-width="0.75"/>
<line x1="161.60" y1="351.06" x2="207.80" y2="351.06" stroke="#9a9a9a" stroke-width="0.75"/>
<line x1="211.43" y1="351.06" x2="257.63" y2="351.06" stroke="#9a9a9a" stroke-width="0.75"/>
<line x1="261.26" y1="351.06" x2="307.46" y2="351.06" stroke="#9a9a9a" stroke-width="0.75"/>
<line x1="311.09" y1="351.06" x2="357.29" y2="351.06" stroke="#9a9a9a" stroke-width="0.75"/>
<line x1="360.92" y1="351.06" x2="407.12" y2="351.06" stroke="#9a9a9a" stroke-width="0.75"/>
<line x1="410.75" y1="351.06" x2="456.95" y2="351.06" stroke="#9a9a9a" stroke-width="0.75"/>
<line x1="161.60" y1="362.54" x2="207.80" y2="362.54" stroke="#9a9a9a" stroke-width="0.75"/>
<line x1="211.43" y1="362.54" x2="257.63" y2="362.54" stroke="#9a9a9a" stroke-width="0.75"/>
<line x1="261.26" y1="362.54" x2="307.46" y2="362.54" stroke="#9a9a9a" stroke-width="0.75"/>
<line x1="311.09" y1="362.54" x2="357.29" y2="362.54" stroke="#9a9a9a" stroke-width="0.75"/>
<line x1="360.92" y1="362.54" x2="407.12" y2="362.54" stroke="#9a9a9a" stroke-width="0.75"/>
<line x1="410.75" y1="362.54" x2="456.95" y2="362.54" stroke="#9a9a9a" stroke-width="0.75"/>
<line x1="161.60" y1="374.02" x2="207.80" y2="374.02" stroke="#9a9a9a" stroke-width="0.75"/>
<line x1="211.43" y1="374.02" x2="257.63" y2="374.02" stroke="#9a9a9a" stroke-width="0.75"/>
<line x1="261.26" y1="374.02" x2="307.46" y2="374.02" stroke="#9a9a9a" stroke-width="0.75"/>
<line x1="311.09" y1="374.02" x2="357.29" y2="374.02" stroke="#9a9a9a" stroke-width="0.75"/>
<line x1="360.92" y1="374.02" x2="407.12" y2="374.02" stroke="#9a9a9a" stroke-width="0.75"/>
<line x1="410.75" y1="374.02" x2="456.95" y2="374.02" stroke="#9a9a9a" stroke-width="0.75"/>
<line x1="161.60" y1="385.50" x2="207.80" y2="385.50" stroke="#9a9a9a" stroke-width="0.75"/>
<line x1="211.43" y1="385.50" x2="257.63" y2="385.50" stroke="#9a9a9a" stroke-width="0.75"/>
<line x1="261.26" y1="385.50" x2="307.46" y2="385.50" stroke="#9a9a9a" stroke-width="0.75"/>
<line x1="311.09" y1="385.50" x2="357.29" y2="385.50" stroke="#9a9a9a" stroke-width="0.75"/>
<line x1="360.92" y1="385.50" x2="407.12" y2="385.50" stroke="#9a9a9a" stroke-width="0.75"/>
<line x1="410.75" y1="385.50" x2="456.95" y2="385.50" stroke="#9a9a9a" stroke-width="0.75"/>
<line x1="161.60" y1="396.98" x2="207.80" y2="396.98" stroke="#9a9a9a" stroke-width="0.75"/>
<line x1="211.43" y1="396.98" x2="257.63" y2="396.98" stroke="#9a9a9a" stroke-width="0.75"/>
<line x1="261.26" y1="396.98" x2="307.46" y2="396.98" stroke="#9a9a9a" stroke-width="0.75"/>
<line x1="311.09" y1="396.98" x2="357.29" y2="396.98" stroke="#9a9a9a" stroke-width="0.75"/>
<line x1="360.92" y1="396.98" x2="407.12" y2="396.98" stroke="#9a9a9a" stroke-width="0.75"/>
<line x1="410.75" y1="396.98" x2="456.95" y2="396.98" stroke="#9a9a9a" stroke-width="0.75"/>
<line x1="161.60" y1="408.46" x2="207.80" y2="408.46" stroke="#9a9a9a" stroke-width="0.75"/>
<line x1="211.43" y1="408.46" x2="257.63" y2="408.46" stroke="#9a9a9a" stroke-width="0.75"/>
<line x1="261.26" y1="408.46" x2="307.46" y2="408.46" stroke="#9a9a9a" stroke-width="0.75"/>
<line x1="311.09" y1="408.46" x2="357.29" y2="408.46" stroke="#9a9a9a" stroke-width="0.75"/>
<line x1="360.92" y1="408.46" x2="407.12" y2="408.46" stroke="#9a9a9a" stroke-width="0.75"/>
<line x1="410.75" y1="408.46" x2="456.95" y2="408.46" stroke="#9a9a9a" stroke-width="0.75"/>
<line x1="161.60" y1="419.94" x2="207.80" y2="419.94" stroke="#9a9a9a" stroke-width="0.75"/>
<line x1="211.43" y1="419.94" x2="257.63" y2="419.94" stroke="#9a9a9a" stroke-width="0.75"/>
<line x1="261.26" y1="419.94" x2="307.46" y2="419.94" stroke="#9a9a9a" stroke-width="0.75"/>
<line x1="311.09" y1="419.94" x2="357.29" y2="419.94" stroke="#9a9a9a" stroke-width="0.75"/>
<line x1="360.92" y1="419.94" x2="407.12" y2="419.94" stroke="#9a9a9a" stroke-width="0.75"/>
<line x1="410.75" y1="419.94" x2="456.95" y2="419.94" stroke="#9a9a9a" stroke-width="0.75"/>
<line x1="161.60" y1="431.42" x2="207.80" y2="431.42" stroke="#9a9a9a" stroke-width="0.75"/>
<line x1="211.43" y1="431.42" x2="257.63" y2="431.42" stroke="#9a9a9a" stroke-width="0.75"/>
<line x1="261.26" y1="431.42" x2="307.46" y2="431.42" stroke="#9a9a9a" stroke-width="0.75"/>
<line x1="311.09" y1="431.42" x2="357.29" y2="431.42" stroke="#9a9a9a" stroke-width="0.75"/>
<line x1="360.92" y1="431.42" x2="407.12" y2="431.42" stroke="#9a9a9a" stroke-width="0.75"/>
<line x1="410.75" y1="431.42" x2="456.95" y2="431.42" stroke="#9a9a9a" stroke-width="0.75"/>
<line x1="161.60" y1="442.90" x2="207.80" y2="442.90" stroke="#9a9a9a" stroke-width="0.75"/>
<line x1="211.43" y1="442.90" x2="257.63" y2="442.90" stroke="#9a9a9a" stroke-width="0.75"/>
<line x1="261.26" y1="442.90" x2="307.46" y2="442.90" stroke="#9a9a9a" stroke-width="0.75"/>
<line x1="311.09" y1="442.90" x2="357.29" y2="442.90" stroke="#9a9a9a" stroke-width="0.75"/>
<line x1="360.92" y1="442.90" x2="407.12" y2="442.90" stroke="#9a9a9a" stroke-width="0.75"/>
<line x1="410.75" y1="442.90" x2="456.95" y2="442.90" stroke="#9a9a9a" stroke-width="0.75"/>
<line x1="161.60" y1="454.38" x2="207.80" y2="454.38" stroke="#9a9a9a" stroke-width="0.75"/>
<line x1="211.43" y1="454.38" x2="257.63" y2="454.38" stroke="#9a9a9a" stroke-width="0.75"/>
<line x1="261.26" y1="454.38" x2="307.46" y2="454.38" stroke="#9a9a9a" stroke-width="0.75"/>
<line x1="311.09" y1="454.38" x2="357.29" y2="454.38" stroke="#9a9a9a" stroke-width="0.75"/>
<line x1="360.92" y1="454.38" x2="407.12" y2="454.38" stroke="#9a9a9a" stroke-width="0.75"/>
<line x1="410.75" y1="454.38" x2="456.95" y2="454.38" stroke="#9a9a9a" stroke-width="0.75"/>
<rect x="207.80" y="268.70" width="3.63" height="199.16" fill="#ffffff"/>
<rect x="257.63" y="268.70" width="3.63" height="199.16" fill="#ffffff"/>
<rect x="307.46" y="268.70" width="3.63" height="199.16" fill="#ffffff"/>
<rect x="357.29" y="268.70" width="3.63" height="199.16" fill="#ffffff"/>
<rect x="407.12" y="268.70" width="3.63" height="199.16" fill="#ffffff"/>
</g>
<rect x="162.00" y="271.30" width="294.95" height="194.46" fill="none" stroke="#000" stroke-width="1.4"/>
<line x1="157.00" y1="276.44" x2="161.50" y2="276.44" stroke="#111" stroke-width="1.4"/>
<text x="154.80" y="279.94" font-size="10" text-anchor="end" textLength="40.23" lengthAdjust="spacingAndGlyphs" stroke="#111" stroke-width="0.25" fill="#111">GM-CSF</text>
<line x1="157.00" y1="287.92" x2="161.50" y2="287.92" stroke="#111" stroke-width="1.4"/>
<text x="154.80" y="291.42" font-size="10" text-anchor="end" textLength="24.93" lengthAdjust="spacingAndGlyphs" stroke="#111" stroke-width="0.25" fill="#111">IFN-γ</text>
<line x1="157.00" y1="299.40" x2="161.50" y2="299.40" stroke="#111" stroke-width="1.4"/>
<text x="154.80" y="302.90" font-size="10" text-anchor="end" textLength="23.25" lengthAdjust="spacingAndGlyphs" stroke="#111" stroke-width="0.25" fill="#111">IL-10</text>
<line x1="157.00" y1="310.88" x2="161.50" y2="310.88" stroke="#111" stroke-width="1.4"/>
<text x="154.80" y="314.38" font-size="10" text-anchor="end" textLength="23.25" lengthAdjust="spacingAndGlyphs" stroke="#111" stroke-width="0.25" fill="#111">IL-13</text>
<line x1="157.00" y1="322.36" x2="161.50" y2="322.36" stroke="#111" stroke-width="1.4"/>
<text x="154.80" y="325.86" font-size="10" text-anchor="end" textLength="23.25" lengthAdjust="spacingAndGlyphs" stroke="#111" stroke-width="0.25" fill="#111">IL-15</text>
<line x1="157.00" y1="333.84" x2="161.50" y2="333.84" stroke="#111" stroke-width="1.4"/>
<text x="154.80" y="337.34" font-size="10" text-anchor="end" textLength="30.05" lengthAdjust="spacingAndGlyphs" stroke="#111" stroke-width="0.25" fill="#111">IL-17A</text>
<line x1="157.00" y1="345.32" x2="161.50" y2="345.32" stroke="#111" stroke-width="1.4"/>
<text x="154.80" y="348.82" font-size="10" text-anchor="end" textLength="17.58" lengthAdjust="spacingAndGlyphs" stroke="#111" stroke-width="0.25" fill="#111">IL-2</text>
<line x1="157.00" y1="356.80" x2="161.50" y2="356.80" stroke="#111" stroke-width="1.4"/>
<text x="154.80" y="360.30" font-size="10" text-anchor="end" textLength="17.58" lengthAdjust="spacingAndGlyphs" stroke="#111" stroke-width="0.25" fill="#111">IL-4</text>
<line x1="157.00" y1="368.28" x2="161.50" y2="368.28" stroke="#111" stroke-width="1.4"/>
<text x="154.80" y="371.78" font-size="10" text-anchor="end" textLength="17.58" lengthAdjust="spacingAndGlyphs" stroke="#111" stroke-width="0.25" fill="#111">IL-5</text>
<line x1="157.00" y1="379.76" x2="161.50" y2="379.76" stroke="#111" stroke-width="1.4"/>
<text x="154.80" y="383.26" font-size="10" text-anchor="end" textLength="17.58" lengthAdjust="spacingAndGlyphs" stroke="#111" stroke-width="0.25" fill="#111">IL-6</text>
<line x1="157.00" y1="391.24" x2="161.50" y2="391.24" stroke="#111" stroke-width="1.4"/>
<text x="154.80" y="394.74" font-size="10" text-anchor="end" textLength="17.58" lengthAdjust="spacingAndGlyphs" stroke="#111" stroke-width="0.25" fill="#111">IL-8</text>
<line x1="157.00" y1="402.72" x2="161.50" y2="402.72" stroke="#111" stroke-width="1.4"/>
<text x="154.80" y="406.22" font-size="10" text-anchor="end" textLength="24.38" lengthAdjust="spacingAndGlyphs" stroke="#111" stroke-width="0.25" fill="#111">IP-10</text>
<line x1="157.00" y1="414.20" x2="161.50" y2="414.20" stroke="#111" stroke-width="1.4"/>
<text x="154.80" y="417.70" font-size="10" text-anchor="end" textLength="31.74" lengthAdjust="spacingAndGlyphs" stroke="#111" stroke-width="0.25" fill="#111">MCP-1</text>
<line x1="157.00" y1="425.68" x2="161.50" y2="425.68" stroke="#111" stroke-width="1.4"/>
<text x="154.80" y="429.18" font-size="10" text-anchor="end" textLength="33.10" lengthAdjust="spacingAndGlyphs" stroke="#111" stroke-width="0.25" fill="#111">MIP-1α</text>
<line x1="157.00" y1="437.16" x2="161.50" y2="437.16" stroke="#111" stroke-width="1.4"/>
<text x="154.80" y="440.66" font-size="10" text-anchor="end" textLength="33.07" lengthAdjust="spacingAndGlyphs" stroke="#111" stroke-width="0.25" fill="#111">MIP-1β</text>
<line x1="157.00" y1="448.64" x2="161.50" y2="448.64" stroke="#111" stroke-width="1.4"/>
<text x="154.80" y="452.14" font-size="10" text-anchor="end" textLength="41.37" lengthAdjust="spacingAndGlyphs" stroke="#111" stroke-width="0.25" fill="#111">RANTES</text>
<line x1="157.00" y1="460.12" x2="161.50" y2="460.12" stroke="#111" stroke-width="1.4"/>
<text x="154.80" y="463.62" font-size="10" text-anchor="end" textLength="29.12" lengthAdjust="spacingAndGlyphs" stroke="#111" stroke-width="0.25" fill="#111">TNF-α</text>
<text x="81.26" y="266.50" font-size="11.2" text-anchor="middle" stroke="#111" stroke-width="0.2" fill="#111">1</text>
<text x="185.00" y="266.50" font-size="11.2" text-anchor="middle" stroke="#111" stroke-width="0.2" fill="#111">1</text>
<text x="234.83" y="266.50" font-size="11.2" text-anchor="middle" stroke="#111" stroke-width="0.2" fill="#111">3</text>
<text x="284.66" y="266.50" font-size="11.2" text-anchor="middle" stroke="#111" stroke-width="0.2" fill="#111">5</text>
<text x="334.49" y="266.50" font-size="11.2" text-anchor="middle" stroke="#111" stroke-width="0.2" fill="#111">7</text>
<text x="384.32" y="266.50" font-size="11.2" text-anchor="middle" stroke="#111" stroke-width="0.2" fill="#111">9</text>
<text x="434.15" y="266.50" font-size="11.2" text-anchor="middle" stroke="#111" stroke-width="0.2" fill="#111">11</text>
<clipPath id="c1006"><rect x="57.90" y="519.90" width="45.72" height="194.46"/></clipPath>
<g clip-path="url(#c1006)">
<rect x="57.90" y="519.30" width="11.48" height="11.53" fill="#eff0f5"/>
<rect x="69.33" y="519.30" width="11.48" height="11.53" fill="#fdfbe6"/>
<rect x="80.76" y="519.30" width="11.48" height="11.53" fill="#f3f3f7"/>
<rect x="92.19" y="519.30" width="11.48" height="11.53" fill="#fdf9d9"/>
<rect x="57.90" y="530.78" width="11.48" height="11.53" fill="#fefef9"/>
<rect x="69.33" y="530.78" width="11.48" height="11.53" fill="#fdfbe6"/>
<rect x="80.76" y="530.78" width="11.48" height="11.53" fill="#fefef9"/>
<rect x="92.19" y="530.78" width="11.48" height="11.53" fill="#fcf6c4"/>
<rect x="57.90" y="542.26" width="11.48" height="11.53" fill="#ececf4"/>
<rect x="69.33" y="542.26" width="11.48" height="11.53" fill="#fdfae0"/>
<rect x="80.76" y="542.26" width="11.48" height="11.53" fill="#ececf4"/>
<rect x="92.19" y="542.26" width="11.48" height="11.53" fill="#f7f7f9"/>
<rect x="57.90" y="553.74" width="11.48" height="11.53" fill="#eff0f5"/>
<rect x="69.33" y="553.74" width="11.48" height="11.53" fill="#fcf7cb"/>
<rect x="80.76" y="553.74" width="11.48" height="11.53" fill="#fdfcec"/>
<rect x="92.19" y="553.74" width="11.48" height="11.53" fill="#fefdf3"/>
<rect x="57.90" y="565.22" width="11.48" height="11.53" fill="#fefef9"/>
<rect x="69.33" y="565.22" width="11.48" height="11.53" fill="#fdfbe6"/>
<rect x="80.76" y="565.22" width="11.48" height="11.53" fill="#fdfae0"/>
<rect x="92.19" y="565.22" width="11.48" height="11.53" fill="#fefdf3"/>
<rect x="57.90" y="576.70" width="11.48" height="11.53" fill="#dadbeb"/>
<rect x="69.33" y="576.70" width="11.48" height="11.53" fill="#dadbeb"/>
<rect x="80.76" y="576.70" width="11.48" height="11.53" fill="#bbbedc"/>
<rect x="92.19" y="576.70" width="11.48" height="11.53" fill="#d5d7e9"/>
<rect x="57.90" y="588.18" width="11.48" height="11.53" fill="#b0b4d6"/>
<rect x="69.33" y="588.18" width="11.48" height="11.53" fill="#bbbedc"/>
<rect x="80.76" y="588.18" width="11.48" height="11.53" fill="#aaafd3"/>
<rect x="92.19" y="588.18" width="11.48" height="11.53" fill="#b5b9d9"/>
<rect x="57.90" y="599.66" width="11.48" height="11.53" fill="#c6c8e1"/>
<rect x="69.33" y="599.66" width="11.48" height="11.53" fill="#fefef9"/>
<rect x="80.76" y="599.66" width="11.48" height="11.53" fill="#d5d7e9"/>
<rect x="92.19" y="599.66" width="11.48" height="11.53" fill="#cbcde4"/>
<rect x="57.90" y="611.14" width="11.48" height="11.53" fill="#9fa4cc"/>
<rect x="69.33" y="611.14" width="11.48" height="11.53" fill="#fdfcec"/>
<rect x="80.76" y="611.14" width="11.48" height="11.53" fill="#d0d2e6"/>
<rect x="92.19" y="611.14" width="11.48" height="11.53" fill="#bbbedc"/>
<rect x="57.90" y="622.62" width="11.48" height="11.53" fill="#939ac6"/>
<rect x="69.33" y="622.62" width="11.48" height="11.53" fill="#999fc9"/>
<rect x="80.76" y="622.62" width="11.48" height="11.53" fill="#999fc9"/>
<rect x="92.19" y="622.62" width="11.48" height="11.53" fill="#868ebe"/>
<rect x="57.90" y="634.10" width="11.48" height="11.53" fill="#c0c3de"/>
<rect x="69.33" y="634.10" width="11.48" height="11.53" fill="#bbbedc"/>
<rect x="80.76" y="634.10" width="11.48" height="11.53" fill="#f3f3f7"/>
<rect x="92.19" y="634.10" width="11.48" height="11.53" fill="#bbbedc"/>
<rect x="57.90" y="645.58" width="11.48" height="11.53" fill="#fdfdfc"/>
<rect x="69.33" y="645.58" width="11.48" height="11.53" fill="#ececf4"/>
<rect x="80.76" y="645.58" width="11.48" height="11.53" fill="#dadbeb"/>
<rect x="92.19" y="645.58" width="11.48" height="11.53" fill="#fefdf3"/>
<rect x="57.90" y="657.06" width="11.48" height="11.53" fill="#ececf4"/>
<rect x="69.33" y="657.06" width="11.48" height="11.53" fill="#cbcde4"/>
<rect x="80.76" y="657.06" width="11.48" height="11.53" fill="#c6c8e1"/>
<rect x="92.19" y="657.06" width="11.48" height="11.53" fill="#fdfdfc"/>
<rect x="57.90" y="668.54" width="11.48" height="11.53" fill="#e4e5f0"/>
<rect x="69.33" y="668.54" width="11.48" height="11.53" fill="#f9f9fa"/>
<rect x="80.76" y="668.54" width="11.48" height="11.53" fill="#dadbeb"/>
<rect x="92.19" y="668.54" width="11.48" height="11.53" fill="#f7f7f9"/>
<rect x="57.90" y="680.02" width="11.48" height="11.53" fill="#e4e5f0"/>
<rect x="69.33" y="680.02" width="11.48" height="11.53" fill="#fdfdfc"/>
<rect x="80.76" y="680.02" width="11.48" height="11.53" fill="#e8e9f2"/>
<rect x="92.19" y="680.02" width="11.48" height="11.53" fill="#f9f9fa"/>
<rect x="57.90" y="691.50" width="11.48" height="11.53" fill="#fdfbe6"/>
<rect x="69.33" y="691.50" width="11.48" height="11.53" fill="#fdfae0"/>
<rect x="80.76" y="691.50" width="11.48" height="11.53" fill="#fefef9"/>
<rect x="92.19" y="691.50" width="11.48" height="11.53" fill="#fdfbe6"/>
<rect x="57.90" y="702.98" width="11.48" height="11.53" fill="#fdfdfc"/>
<rect x="69.33" y="702.98" width="11.48" height="11.53" fill="#fefdf3"/>
<rect x="80.76" y="702.98" width="11.48" height="11.53" fill="#fdfdfc"/>
<rect x="92.19" y="702.98" width="11.48" height="11.53" fill="#fdfbe6"/>
<line x1="69.33" y1="519.30" x2="69.33" y2="714.46" stroke="#9a9a9a" stroke-width="0.75"/>
<line x1="80.76" y1="519.30" x2="80.76" y2="714.46" stroke="#9a9a9a" stroke-width="0.75"/>
<line x1="92.19" y1="519.30" x2="92.19" y2="714.46" stroke="#9a9a9a" stroke-width="0.75"/>
<line x1="57.90" y1="530.78" x2="103.62" y2="530.78" stroke="#9a9a9a" stroke-width="0.75"/>
<line x1="57.90" y1="542.26" x2="103.62" y2="542.26" stroke="#9a9a9a" stroke-width="0.75"/>
<line x1="57.90" y1="553.74" x2="103.62" y2="553.74" stroke="#9a9a9a" stroke-width="0.75"/>
<line x1="57.90" y1="565.22" x2="103.62" y2="565.22" stroke="#9a9a9a" stroke-width="0.75"/>
<line x1="57.90" y1="576.70" x2="103.62" y2="576.70" stroke="#9a9a9a" stroke-width="0.75"/>
<line x1="57.90" y1="588.18" x2="103.62" y2="588.18" stroke="#9a9a9a" stroke-width="0.75"/>
<line x1="57.90" y1="599.66" x2="103.62" y2="599.66" stroke="#9a9a9a" stroke-width="0.75"/>
<line x1="57.90" y1="611.14" x2="103.62" y2="611.14" stroke="#9a9a9a" stroke-width="0.75"/>
<line x1="57.90" y1="622.62" x2="103.62" y2="622.62" stroke="#9a9a9a" stroke-width="0.75"/>
<line x1="57.90" y1="634.10" x2="103.62" y2="634.10" stroke="#9a9a9a" stroke-width="0.75"/>
<line x1="57.90" y1="645.58" x2="103.62" y2="645.58" stroke="#9a9a9a" stroke-width="0.75"/>
<line x1="57.90" y1="657.06" x2="103.62" y2="657.06" stroke="#9a9a9a" stroke-width="0.75"/>
<line x1="57.90" y1="668.54" x2="103.62" y2="668.54" stroke="#9a9a9a" stroke-width="0.75"/>
<line x1="57.90" y1="680.02" x2="103.62" y2="680.02" stroke="#9a9a9a" stroke-width="0.75"/>
<line x1="57.90" y1="691.50" x2="103.62" y2="691.50" stroke="#9a9a9a" stroke-width="0.75"/>
<line x1="57.90" y1="702.98" x2="103.62" y2="702.98" stroke="#9a9a9a" stroke-width="0.75"/>
</g>
<rect x="57.90" y="519.90" width="45.72" height="194.46" fill="none" stroke="#000" stroke-width="1.4"/>
<line x1="53.00" y1="525.04" x2="57.20" y2="525.04" stroke="#111" stroke-width="1.4"/>
<text x="49.80" y="528.54" font-size="10" text-anchor="end" textLength="40.23" lengthAdjust="spacingAndGlyphs" stroke="#111" stroke-width="0.25" fill="#111">GM-CSF</text>
<line x1="53.00" y1="536.52" x2="57.20" y2="536.52" stroke="#111" stroke-width="1.4"/>
<text x="49.80" y="540.02" font-size="10" text-anchor="end" textLength="24.93" lengthAdjust="spacingAndGlyphs" stroke="#111" stroke-width="0.25" fill="#111">IFN-γ</text>
<line x1="53.00" y1="548.00" x2="57.20" y2="548.00" stroke="#111" stroke-width="1.4"/>
<text x="49.80" y="551.50" font-size="10" text-anchor="end" textLength="23.25" lengthAdjust="spacingAndGlyphs" stroke="#111" stroke-width="0.25" fill="#111">IL-10</text>
<line x1="53.00" y1="559.48" x2="57.20" y2="559.48" stroke="#111" stroke-width="1.4"/>
<text x="49.80" y="562.98" font-size="10" text-anchor="end" textLength="23.25" lengthAdjust="spacingAndGlyphs" stroke="#111" stroke-width="0.25" fill="#111">IL-13</text>
<line x1="53.00" y1="570.96" x2="57.20" y2="570.96" stroke="#111" stroke-width="1.4"/>
<text x="49.80" y="574.46" font-size="10" text-anchor="end" textLength="23.25" lengthAdjust="spacingAndGlyphs" stroke="#111" stroke-width="0.25" fill="#111">IL-15</text>
<line x1="53.00" y1="582.44" x2="57.20" y2="582.44" stroke="#111" stroke-width="1.4"/>
<text x="49.80" y="585.94" font-size="10" text-anchor="end" textLength="30.05" lengthAdjust="spacingAndGlyphs" stroke="#111" stroke-width="0.25" fill="#111">IL-17A</text>
<line x1="53.00" y1="593.92" x2="57.20" y2="593.92" stroke="#111" stroke-width="1.4"/>
<text x="49.80" y="597.42" font-size="10" text-anchor="end" textLength="17.58" lengthAdjust="spacingAndGlyphs" stroke="#111" stroke-width="0.25" fill="#111">IL-2</text>
<line x1="53.00" y1="605.40" x2="57.20" y2="605.40" stroke="#111" stroke-width="1.4"/>
<text x="49.80" y="608.90" font-size="10" text-anchor="end" textLength="17.58" lengthAdjust="spacingAndGlyphs" stroke="#111" stroke-width="0.25" fill="#111">IL-4</text>
<line x1="53.00" y1="616.88" x2="57.20" y2="616.88" stroke="#111" stroke-width="1.4"/>
<text x="49.80" y="620.38" font-size="10" text-anchor="end" textLength="17.58" lengthAdjust="spacingAndGlyphs" stroke="#111" stroke-width="0.25" fill="#111">IL-5</text>
<line x1="53.00" y1="628.36" x2="57.20" y2="628.36" stroke="#111" stroke-width="1.4"/>
<text x="49.80" y="631.86" font-size="10" text-anchor="end" textLength="17.58" lengthAdjust="spacingAndGlyphs" stroke="#111" stroke-width="0.25" fill="#111">IL-6</text>
<line x1="53.00" y1="639.84" x2="57.20" y2="639.84" stroke="#111" stroke-width="1.4"/>
<text x="49.80" y="643.34" font-size="10" text-anchor="end" textLength="17.58" lengthAdjust="spacingAndGlyphs" stroke="#111" stroke-width="0.25" fill="#111">IL-8</text>
<line x1="53.00" y1="651.32" x2="57.20" y2="651.32" stroke="#111" stroke-width="1.4"/>
<text x="49.80" y="654.82" font-size="10" text-anchor="end" textLength="24.38" lengthAdjust="spacingAndGlyphs" stroke="#111" stroke-width="0.25" fill="#111">IP-10</text>
<line x1="53.00" y1="662.80" x2="57.20" y2="662.80" stroke="#111" stroke-width="1.4"/>
<text x="49.80" y="666.30" font-size="10" text-anchor="end" textLength="31.74" lengthAdjust="spacingAndGlyphs" stroke="#111" stroke-width="0.25" fill="#111">MCP-1</text>
<line x1="53.00" y1="674.28" x2="57.20" y2="674.28" stroke="#111" stroke-width="1.4"/>
<text x="49.80" y="677.78" font-size="10" text-anchor="end" textLength="33.10" lengthAdjust="spacingAndGlyphs" stroke="#111" stroke-width="0.25" fill="#111">MIP-1α</text>
<line x1="53.00" y1="685.76" x2="57.20" y2="685.76" stroke="#111" stroke-width="1.4"/>
<text x="49.80" y="689.26" font-size="10" text-anchor="end" textLength="33.07" lengthAdjust="spacingAndGlyphs" stroke="#111" stroke-width="0.25" fill="#111">MIP-1β</text>
<line x1="53.00" y1="697.24" x2="57.20" y2="697.24" stroke="#111" stroke-width="1.4"/>
<text x="49.80" y="700.74" font-size="10" text-anchor="end" textLength="41.37" lengthAdjust="spacingAndGlyphs" stroke="#111" stroke-width="0.25" fill="#111">RANTES</text>
<line x1="53.00" y1="708.72" x2="57.20" y2="708.72" stroke="#111" stroke-width="1.4"/>
<text x="49.80" y="712.22" font-size="10" text-anchor="end" textLength="29.12" lengthAdjust="spacingAndGlyphs" stroke="#111" stroke-width="0.25" fill="#111">TNF-α</text>
<clipPath id="c1131"><rect x="162.00" y="519.90" width="344.78" height="194.46"/></clipPath>
<g clip-path="url(#c1131)">
<rect x="161.60" y="519.30" width="11.60" height="11.53" fill="#f8e978"/>
<rect x="173.15" y="519.30" width="11.60" height="11.53" fill="#f9ee93"/>
<rect x="184.70" y="519.30" width="11.60" height="11.53" fill="#f9ee93"/>
<rect x="196.25" y="519.30" width="11.60" height="11.53" fill="#f9ed8c"/>
<rect x="211.43" y="519.30" width="11.60" height="11.53" fill="#f9ed8c"/>
<rect x="222.98" y="519.30" width="11.60" height="11.53" fill="#f9ee93"/>
<rect x="234.53" y="519.30" width="11.60" height="11.53" fill="#faef9a"/>
<rect x="246.08" y="519.30" width="11.60" height="11.53" fill="#f9ee93"/>
<rect x="261.26" y="519.30" width="11.60" height="11.53" fill="#fbf3b5"/>
<rect x="272.81" y="519.30" width="11.60" height="11.53" fill="#faef9a"/>
<rect x="284.36" y="519.30" width="11.60" height="11.53" fill="#faf0a0"/>
<rect x="295.91" y="519.30" width="11.60" height="11.53" fill="#fbf1a7"/>
<rect x="311.09" y="519.30" width="11.60" height="11.53" fill="#faf0a0"/>
<rect x="322.64" y="519.30" width="11.60" height="11.53" fill="#faef9a"/>
<rect x="334.19" y="519.30" width="11.60" height="11.53" fill="#fbf2ae"/>
<rect x="345.74" y="519.30" width="11.60" height="11.53" fill="#fbf1a7"/>
<rect x="360.92" y="519.30" width="11.60" height="11.53" fill="#faf0a0"/>
<rect x="372.47" y="519.30" width="11.60" height="11.53" fill="#f9ee93"/>
<rect x="384.02" y="519.30" width="11.60" height="11.53" fill="#faf0a0"/>
<rect x="395.57" y="519.30" width="11.60" height="11.53" fill="#5c5c5c"/>
<rect x="410.75" y="519.30" width="11.60" height="11.53" fill="#fbf1a7"/>
<rect x="422.30" y="519.30" width="11.60" height="11.53" fill="#faef9a"/>
<rect x="433.85" y="519.30" width="11.60" height="11.53" fill="#fbf1a7"/>
<rect x="445.40" y="519.30" width="11.60" height="11.53" fill="#5c5c5c"/>
<rect x="460.58" y="519.30" width="11.60" height="11.53" fill="#5c5c5c"/>
<rect x="472.13" y="519.30" width="11.60" height="11.53" fill="#faf0a0"/>
<rect x="483.68" y="519.30" width="11.60" height="11.53" fill="#faef9a"/>
<rect x="495.23" y="519.30" width="11.60" height="11.53" fill="#5c5c5c"/>
<rect x="161.60" y="530.78" width="11.60" height="11.53" fill="#f9ee93"/>
<rect x="173.15" y="530.78" width="11.60" height="11.53" fill="#fbf2ae"/>
<rect x="184.70" y="530.78" width="11.60" height="11.53" fill="#f9ee93"/>
<rect x="196.25" y="530.78" width="11.60" height="11.53" fill="#f8e871"/>
<rect x="211.43" y="530.78" width="11.60" height="11.53" fill="#f9ee93"/>
<rect x="222.98" y="530.78" width="11.60" height="11.53" fill="#faef9a"/>
<rect x="234.53" y="530.78" width="11.60" height="11.53" fill="#f9ee93"/>
<rect x="246.08" y="530.78" width="11.60" height="11.53" fill="#f9ec85"/>
<rect x="261.26" y="530.78" width="11.60" height="11.53" fill="#faf0a0"/>
<rect x="272.81" y="530.78" width="11.60" height="11.53" fill="#faef9a"/>
<rect x="284.36" y="530.78" width="11.60" height="11.53" fill="#faef9a"/>
<rect x="295.91" y="530.78" width="11.60" height="11.53" fill="#f9ed8c"/>
<rect x="311.09" y="530.78" width="11.60" height="11.53" fill="#faf0a0"/>
<rect x="322.64" y="530.78" width="11.60" height="11.53" fill="#fbf1a7"/>
<rect x="334.19" y="530.78" width="11.60" height="11.53" fill="#faf0a0"/>
<rect x="345.74" y="530.78" width="11.60" height="11.53" fill="#fbf3b5"/>
<rect x="360.92" y="530.78" width="11.60" height="11.53" fill="#faf0a0"/>
<rect x="372.47" y="530.78" width="11.60" height="11.53" fill="#faef9a"/>
<rect x="384.02" y="530.78" width="11.60" height="11.53" fill="#fbf1a7"/>
<rect x="395.57" y="530.78" width="11.60" height="11.53" fill="#5c5c5c"/>
<rect x="410.75" y="530.78" width="11.60" height="11.53" fill="#faf0a0"/>
<rect x="422.30" y="530.78" width="11.60" height="11.53" fill="#f9ed8c"/>
<rect x="433.85" y="530.78" width="11.60" height="11.53" fill="#fbf1a7"/>
<rect x="445.40" y="530.78" width="11.60" height="11.53" fill="#5c5c5c"/>
<rect x="460.58" y="530.78" width="11.60" height="11.53" fill="#5c5c5c"/>
<rect x="472.13" y="530.78" width="11.60" height="11.53" fill="#fbf1a7"/>
<rect x="483.68" y="530.78" width="11.60" height="11.53" fill="#faf0a0"/>
<rect x="495.23" y="530.78" width="11.60" height="11.53" fill="#5c5c5c"/>
<rect x="161.60" y="542.26" width="11.60" height="11.53" fill="#fefdf3"/>
<rect x="173.15" y="542.26" width="11.60" height="11.53" fill="#f9ee93"/>
<rect x="184.70" y="542.26" width="11.60" height="11.53" fill="#fbf1a7"/>
<rect x="196.25" y="542.26" width="11.60" height="11.53" fill="#fcf5bd"/>
<rect x="211.43" y="542.26" width="11.60" height="11.53" fill="#fbf3b5"/>
<rect x="222.98" y="542.26" width="11.60" height="11.53" fill="#fcf7cb"/>
<rect x="234.53" y="542.26" width="11.60" height="11.53" fill="#fcf5bd"/>
<rect x="246.08" y="542.26" width="11.60" height="11.53" fill="#fcf7cb"/>
<rect x="261.26" y="542.26" width="11.60" height="11.53" fill="#fdfbe6"/>
<rect x="272.81" y="542.26" width="11.60" height="11.53" fill="#fcf5bd"/>
<rect x="284.36" y="542.26" width="11.60" height="11.53" fill="#fbf2ae"/>
<rect x="295.91" y="542.26" width="11.60" height="11.53" fill="#fefef9"/>
<rect x="311.09" y="542.26" width="11.60" height="11.53" fill="#fefdf3"/>
<rect x="322.64" y="542.26" width="11.60" height="11.53" fill="#fcf7cb"/>
<rect x="334.19" y="542.26" width="11.60" height="11.53" fill="#fbf3b5"/>
<rect x="345.74" y="542.26" width="11.60" height="11.53" fill="#a4aad0"/>
<rect x="360.92" y="542.26" width="11.60" height="11.53" fill="#d0d2e6"/>
<rect x="372.47" y="542.26" width="11.60" height="11.53" fill="#fefef9"/>
<rect x="384.02" y="542.26" width="11.60" height="11.53" fill="#fdfcec"/>
<rect x="395.57" y="542.26" width="11.60" height="11.53" fill="#5c5c5c"/>
<rect x="410.75" y="542.26" width="11.60" height="11.53" fill="#868ebe"/>
<rect x="422.30" y="542.26" width="11.60" height="11.53" fill="#cbcde4"/>
<rect x="433.85" y="542.26" width="11.60" height="11.53" fill="#bbbedc"/>
<rect x="445.40" y="542.26" width="11.60" height="11.53" fill="#5c5c5c"/>
<rect x="460.58" y="542.26" width="11.60" height="11.53" fill="#5c5c5c"/>
<rect x="472.13" y="542.26" width="11.60" height="11.53" fill="#aaafd3"/>
<rect x="483.68" y="542.26" width="11.60" height="11.53" fill="#a4aad0"/>
<rect x="495.23" y="542.26" width="11.60" height="11.53" fill="#5c5c5c"/>
<rect x="161.60" y="553.74" width="11.60" height="11.53" fill="#faef9a"/>
<rect x="173.15" y="553.74" width="11.60" height="11.53" fill="#fdfae0"/>
<rect x="184.70" y="553.74" width="11.60" height="11.53" fill="#faef9a"/>
<rect x="196.25" y="553.74" width="11.60" height="11.53" fill="#f9ee93"/>
<rect x="211.43" y="553.74" width="11.60" height="11.53" fill="#f9ed8c"/>
<rect x="222.98" y="553.74" width="11.60" height="11.53" fill="#f9ee93"/>
<rect x="234.53" y="553.74" width="11.60" height="11.53" fill="#f9ee93"/>
<rect x="246.08" y="553.74" width="11.60" height="11.53" fill="#fcf5bd"/>
<rect x="261.26" y="553.74" width="11.60" height="11.53" fill="#fcf6c4"/>
<rect x="272.81" y="553.74" width="11.60" height="11.53" fill="#f9ee93"/>
<rect x="284.36" y="553.74" width="11.60" height="11.53" fill="#f9ed8c"/>
<rect x="295.91" y="553.74" width="11.60" height="11.53" fill="#fdfae0"/>
<rect x="311.09" y="553.74" width="11.60" height="11.53" fill="#fcf7cb"/>
<rect x="322.64" y="553.74" width="11.60" height="11.53" fill="#f9ed8c"/>
<rect x="334.19" y="553.74" width="11.60" height="11.53" fill="#f9ed8c"/>
<rect x="345.74" y="553.74" width="11.60" height="11.53" fill="#ececf4"/>
<rect x="360.92" y="553.74" width="11.60" height="11.53" fill="#fdfcec"/>
<rect x="372.47" y="553.74" width="11.60" height="11.53" fill="#f9ec85"/>
<rect x="384.02" y="553.74" width="11.60" height="11.53" fill="#fbf1a7"/>
<rect x="395.57" y="553.74" width="11.60" height="11.53" fill="#5c5c5c"/>
<rect x="410.75" y="553.74" width="11.60" height="11.53" fill="#e8e9f2"/>
<rect x="422.30" y="553.74" width="11.60" height="11.53" fill="#f9ed8c"/>
<rect x="433.85" y="553.74" width="11.60" height="11.53" fill="#f3f3f7"/>
<rect x="445.40" y="553.74" width="11.60" height="11.53" fill="#5c5c5c"/>
<rect x="460.58" y="553.74" width="11.60" height="11.53" fill="#5c5c5c"/>
<rect x="472.13" y="553.74" width="11.60" height="11.53" fill="#fefef9"/>
<rect x="483.68" y="553.74" width="11.60" height="11.53" fill="#e8e9f2"/>
<rect x="495.23" y="553.74" width="11.60" height="11.53" fill="#5c5c5c"/>
<rect x="161.60" y="565.22" width="11.60" height="11.53" fill="#fefdf3"/>
<rect x="173.15" y="565.22" width="11.60" height="11.53" fill="#fbf3b5"/>
<rect x="184.70" y="565.22" width="11.60" height="11.53" fill="#fdfcec"/>
<rect x="196.25" y="565.22" width="11.60" height="11.53" fill="#fdfbe6"/>
<rect x="211.43" y="565.22" width="11.60" height="11.53" fill="#999fc9"/>
<rect x="222.98" y="565.22" width="11.60" height="11.53" fill="#a4aad0"/>
<rect x="234.53" y="565.22" width="11.60" height="11.53" fill="#737cb3"/>
<rect x="246.08" y="565.22" width="11.60" height="11.53" fill="#4d4d4d"/>
<rect x="261.26" y="565.22" width="11.60" height="11.53" fill="#999fc9"/>
<rect x="272.81" y="565.22" width="11.60" height="11.53" fill="#9fa4cc"/>
<rect x="284.36" y="565.22" width="11.60" height="11.53" fill="#737cb3"/>
<rect x="295.91" y="565.22" width="11.60" height="11.53" fill="#4d4d4d"/>
<rect x="311.09" y="565.22" width="11.60" height="11.53" fill="#a4aad0"/>
<rect x="322.64" y="565.22" width="11.60" height="11.53" fill="#a4aad0"/>
<rect x="334.19" y="565.22" width="11.60" height="11.53" fill="#9fa4cc"/>
<rect x="345.74" y="565.22" width="11.60" height="11.53" fill="#a4aad0"/>
<rect x="360.92" y="565.22" width="11.60" height="11.53" fill="#aaafd3"/>
<rect x="372.47" y="565.22" width="11.60" height="11.53" fill="#aaafd3"/>
<rect x="384.02" y="565.22" width="11.60" height="11.53" fill="#a4aad0"/>
<rect x="395.57" y="565.22" width="11.60" height="11.53" fill="#5c5c5c"/>
<rect x="410.75" y="565.22" width="11.60" height="11.53" fill="#bbbedc"/>
<rect x="422.30" y="565.22" width="11.60" height="11.53" fill="#b0b4d6"/>
<rect x="433.85" y="565.22" width="11.60" height="11.53" fill="#9fa4cc"/>
<rect x="445.40" y="565.22" width="11.60" height="11.53" fill="#5c5c5c"/>
<rect x="460.58" y="565.22" width="11.60" height="11.53" fill="#5c5c5c"/>
<rect x="472.13" y="565.22" width="11.60" height="11.53" fill="#999fc9"/>
<rect x="483.68" y="565.22" width="11.60" height="11.53" fill="#bbbedc"/>
<rect x="495.23" y="565.22" width="11.60" height="11.53" fill="#5c5c5c"/>
<rect x="161.60" y="576.70" width="11.60" height="11.53" fill="#fcf7cb"/>
<rect x="173.15" y="576.70" width="11.60" height="11.53" fill="#faf0a0"/>
<rect x="184.70" y="576.70" width="11.60" height="11.53" fill="#fbf3b5"/>
<rect x="196.25" y="576.70" width="11.60" height="11.53" fill="#fcf5bd"/>
<rect x="211.43" y="576.70" width="11.60" height="11.53" fill="#fcf6c4"/>
<rect x="222.98" y="576.70" width="11.60" height="11.53" fill="#fdfae0"/>
<rect x="234.53" y="576.70" width="11.60" height="11.53" fill="#fefdf3"/>
<rect x="246.08" y="576.70" width="11.60" height="11.53" fill="#e4e5f0"/>
<rect x="261.26" y="576.70" width="11.60" height="11.53" fill="#fdfbe6"/>
<rect x="272.81" y="576.70" width="11.60" height="11.53" fill="#fdfdfc"/>
<rect x="284.36" y="576.70" width="11.60" height="11.53" fill="#e4e5f0"/>
<rect x="295.91" y="576.70" width="11.60" height="11.53" fill="#ececf4"/>
<rect x="311.09" y="576.70" width="11.60" height="11.53" fill="#fdfcec"/>
<rect x="322.64" y="576.70" width="11.60" height="11.53" fill="#cbcde4"/>
<rect x="334.19" y="576.70" width="11.60" height="11.53" fill="#d0d2e6"/>
<rect x="345.74" y="576.70" width="11.60" height="11.53" fill="#c6c8e1"/>
<rect x="360.92" y="576.70" width="11.60" height="11.53" fill="#fefef9"/>
<rect x="372.47" y="576.70" width="11.60" height="11.53" fill="#e4e5f0"/>
<rect x="384.02" y="576.70" width="11.60" height="11.53" fill="#b5b9d9"/>
<rect x="395.57" y="576.70" width="11.60" height="11.53" fill="#5c5c5c"/>
<rect x="410.75" y="576.70" width="11.60" height="11.53" fill="#e4e5f0"/>
<rect x="422.30" y="576.70" width="11.60" height="11.53" fill="#ececf4"/>
<rect x="433.85" y="576.70" width="11.60" height="11.53" fill="#a4aad0"/>
<rect x="445.40" y="576.70" width="11.60" height="11.53" fill="#5c5c5c"/>
<rect x="460.58" y="576.70" width="11.60" height="11.53" fill="#5c5c5c"/>
<rect x="472.13" y="576.70" width="11.60" height="11.53" fill="#c0c3de"/>
<rect x="483.68" y="576.70" width="11.60" height="11.53" fill="#626ca7"/>
<rect x="495.23" y="576.70" width="11.60" height="11.53" fill="#5c5c5c"/>
<rect x="161.60" y="588.18" width="11.60" height="11.53" fill="#f9ee93"/>
<rect x="173.15" y="588.18" width="11.60" height="11.53" fill="#f9ee93"/>
<rect x="184.70" y="588.18" width="11.60" height="11.53" fill="#faf0a0"/>
<rect x="196.25" y="588.18" width="11.60" height="11.53" fill="#faef9a"/>
<rect x="211.43" y="588.18" width="11.60" height="11.53" fill="#8d94c2"/>
<rect x="222.98" y="588.18" width="11.60" height="11.53" fill="#d0d2e6"/>
<rect x="234.53" y="588.18" width="11.60" height="11.53" fill="#999fc9"/>
<rect x="246.08" y="588.18" width="11.60" height="11.53" fill="#6d77af"/>
<rect x="261.26" y="588.18" width="11.60" height="11.53" fill="#bbbedc"/>
<rect x="272.81" y="588.18" width="11.60" height="11.53" fill="#b0b4d6"/>
<rect x="284.36" y="588.18" width="11.60" height="11.53" fill="#999fc9"/>
<rect x="295.91" y="588.18" width="11.60" height="11.53" fill="#9fa4cc"/>
<rect x="311.09" y="588.18" width="11.60" height="11.53" fill="#d5d7e9"/>
<rect x="322.64" y="588.18" width="11.60" height="11.53" fill="#a4aad0"/>
<rect x="334.19" y="588.18" width="11.60" height="11.53" fill="#a4aad0"/>
<rect x="345.74" y="588.18" width="11.60" height="11.53" fill="#999fc9"/>
<rect x="360.92" y="588.18" width="11.60" height="11.53" fill="#bbbedc"/>
<rect x="372.47" y="588.18" width="11.60" height="11.53" fill="#a4aad0"/>
<rect x="384.02" y="588.18" width="11.60" height="11.53" fill="#6772ab"/>
<rect x="395.57" y="588.18" width="11.60" height="11.53" fill="#5c5c5c"/>
<rect x="410.75" y="588.18" width="11.60" height="11.53" fill="#b0b4d6"/>
<rect x="422.30" y="588.18" width="11.60" height="11.53" fill="#c0c3de"/>
<rect x="433.85" y="588.18" width="11.60" height="11.53" fill="#cbcde4"/>
<rect x="445.40" y="588.18" width="11.60" height="11.53" fill="#5c5c5c"/>
<rect x="460.58" y="588.18" width="11.60" height="11.53" fill="#5c5c5c"/>
<rect x="472.13" y="588.18" width="11.60" height="11.53" fill="#bbbedc"/>
<rect x="483.68" y="588.18" width="11.60" height="11.53" fill="#e4e5f0"/>
<rect x="495.23" y="588.18" width="11.60" height="11.53" fill="#5c5c5c"/>
<rect x="161.60" y="599.66" width="11.60" height="11.53" fill="#fdfae0"/>
<rect x="173.15" y="599.66" width="11.60" height="11.53" fill="#fbf1a7"/>
<rect x="184.70" y="599.66" width="11.60" height="11.53" fill="#faef9a"/>
<rect x="196.25" y="599.66" width="11.60" height="11.53" fill="#faef9a"/>
<rect x="211.43" y="599.66" width="11.60" height="11.53" fill="#fdfcec"/>
<rect x="222.98" y="599.66" width="11.60" height="11.53" fill="#fcf5bd"/>
<rect x="234.53" y="599.66" width="11.60" height="11.53" fill="#fdf9d9"/>
<rect x="246.08" y="599.66" width="11.60" height="11.53" fill="#d0d2e6"/>
<rect x="261.26" y="599.66" width="11.60" height="11.53" fill="#f3f3f7"/>
<rect x="272.81" y="599.66" width="11.60" height="11.53" fill="#fbf3b5"/>
<rect x="284.36" y="599.66" width="11.60" height="11.53" fill="#fbf2ae"/>
<rect x="295.91" y="599.66" width="11.60" height="11.53" fill="#eff0f5"/>
<rect x="311.09" y="599.66" width="11.60" height="11.53" fill="#ececf4"/>
<rect x="322.64" y="599.66" width="11.60" height="11.53" fill="#fbf2ae"/>
<rect x="334.19" y="599.66" width="11.60" height="11.53" fill="#fbf1a7"/>
<rect x="345.74" y="599.66" width="11.60" height="11.53" fill="#999fc9"/>
<rect x="360.92" y="599.66" width="11.60" height="11.53" fill="#cbcde4"/>
<rect x="372.47" y="599.66" width="11.60" height="11.53" fill="#fcf7cb"/>
<rect x="384.02" y="599.66" width="11.60" height="11.53" fill="#fcf8d2"/>
<rect x="395.57" y="599.66" width="11.60" height="11.53" fill="#5c5c5c"/>
<rect x="410.75" y="599.66" width="11.60" height="11.53" fill="#b0b4d6"/>
<rect x="422.30" y="599.66" width="11.60" height="11.53" fill="#e4e5f0"/>
<rect x="433.85" y="599.66" width="11.60" height="11.53" fill="#b0b4d6"/>
<rect x="445.40" y="599.66" width="11.60" height="11.53" fill="#5c5c5c"/>
<rect x="460.58" y="599.66" width="11.60" height="11.53" fill="#5c5c5c"/>
<rect x="472.13" y="599.66" width="11.60" height="11.53" fill="#6772ab"/>
<rect x="483.68" y="599.66" width="11.60" height="11.53" fill="#a4aad0"/>
<rect x="495.23" y="599.66" width="11.60" height="11.53" fill="#5c5c5c"/>
<rect x="161.60" y="611.14" width="11.60" height="11.53" fill="#eff0f5"/>
<rect x="173.15" y="611.14" width="11.60" height="11.53" fill="#dadbeb"/>
<rect x="184.70" y="611.14" width="11.60" height="11.53" fill="#fbf3b5"/>
<rect x="196.25" y="611.14" width="11.60" height="11.53" fill="#fcf5bd"/>
<rect x="211.43" y="611.14" width="11.60" height="11.53" fill="#fcf5bd"/>
<rect x="222.98" y="611.14" width="11.60" height="11.53" fill="#f9ee93"/>
<rect x="234.53" y="611.14" width="11.60" height="11.53" fill="#f8e76a"/>
<rect x="246.08" y="611.14" width="11.60" height="11.53" fill="#f9f9fa"/>
<rect x="261.26" y="611.14" width="11.60" height="11.53" fill="#fefdf3"/>
<rect x="272.81" y="611.14" width="11.60" height="11.53" fill="#f9ed8c"/>
<rect x="284.36" y="611.14" width="11.60" height="11.53" fill="#f9ee93"/>
<rect x="295.91" y="611.14" width="11.60" height="11.53" fill="#fefdf3"/>
<rect x="311.09" y="611.14" width="11.60" height="11.53" fill="#fefdf3"/>
<rect x="322.64" y="611.14" width="11.60" height="11.53" fill="#faf0a0"/>
<rect x="334.19" y="611.14" width="11.60" height="11.53" fill="#f8e664"/>
<rect x="345.74" y="611.14" width="11.60" height="11.53" fill="#999fc9"/>
<rect x="360.92" y="611.14" width="11.60" height="11.53" fill="#dfe0ee"/>
<rect x="372.47" y="611.14" width="11.60" height="11.53" fill="#f9ee93"/>
<rect x="384.02" y="611.14" width="11.60" height="11.53" fill="#fcf7cb"/>
<rect x="395.57" y="611.14" width="11.60" height="11.53" fill="#5c5c5c"/>
<rect x="410.75" y="611.14" width="11.60" height="11.53" fill="#b0b4d6"/>
<rect x="422.30" y="611.14" width="11.60" height="11.53" fill="#fcf7cb"/>
<rect x="433.85" y="611.14" width="11.60" height="11.53" fill="#ececf4"/>
<rect x="445.40" y="611.14" width="11.60" height="11.53" fill="#5c5c5c"/>
<rect x="460.58" y="611.14" width="11.60" height="11.53" fill="#5c5c5c"/>
<rect x="472.13" y="611.14" width="11.60" height="11.53" fill="#cbcde4"/>
<rect x="483.68" y="611.14" width="11.60" height="11.53" fill="#b0b4d6"/>
<rect x="495.23" y="611.14" width="11.60" height="11.53" fill="#5c5c5c"/>
<rect x="161.60" y="622.62" width="11.60" height="11.53" fill="#b0b4d6"/>
<rect x="173.15" y="622.62" width="11.60" height="11.53" fill="#fcf7cb"/>
<rect x="184.70" y="622.62" width="11.60" height="11.53" fill="#dfe0ee"/>
<rect x="196.25" y="622.62" width="11.60" height="11.53" fill="#cbcde4"/>
<rect x="211.43" y="622.62" width="11.60" height="11.53" fill="#8088bb"/>
<rect x="222.98" y="622.62" width="11.60" height="11.53" fill="#9fa4cc"/>
<rect x="234.53" y="622.62" width="11.60" height="11.53" fill="#9fa4cc"/>
<rect x="246.08" y="622.62" width="11.60" height="11.53" fill="#868ebe"/>
<rect x="261.26" y="622.62" width="11.60" height="11.53" fill="#999fc9"/>
<rect x="272.81" y="622.62" width="11.60" height="11.53" fill="#999fc9"/>
<rect x="284.36" y="622.62" width="11.60" height="11.53" fill="#999fc9"/>
<rect x="295.91" y="622.62" width="11.60" height="11.53" fill="#8d94c2"/>
<rect x="311.09" y="622.62" width="11.60" height="11.53" fill="#9fa4cc"/>
<rect x="322.64" y="622.62" width="11.60" height="11.53" fill="#9fa4cc"/>
<rect x="334.19" y="622.62" width="11.60" height="11.53" fill="#9fa4cc"/>
<rect x="345.74" y="622.62" width="11.60" height="11.53" fill="#939ac6"/>
<rect x="360.92" y="622.62" width="11.60" height="11.53" fill="#9fa4cc"/>
<rect x="372.47" y="622.62" width="11.60" height="11.53" fill="#9fa4cc"/>
<rect x="384.02" y="622.62" width="11.60" height="11.53" fill="#9fa4cc"/>
<rect x="395.57" y="622.62" width="11.60" height="11.53" fill="#5c5c5c"/>
<rect x="410.75" y="622.62" width="11.60" height="11.53" fill="#aaafd3"/>
<rect x="422.30" y="622.62" width="11.60" height="11.53" fill="#aaafd3"/>
<rect x="433.85" y="622.62" width="11.60" height="11.53" fill="#aaafd3"/>
<rect x="445.40" y="622.62" width="11.60" height="11.53" fill="#5c5c5c"/>
<rect x="460.58" y="622.62" width="11.60" height="11.53" fill="#5c5c5c"/>
<rect x="472.13" y="622.62" width="11.60" height="11.53" fill="#b0b4d6"/>
<rect x="483.68" y="622.62" width="11.60" height="11.53" fill="#b0b4d6"/>
<rect x="495.23" y="622.62" width="11.60" height="11.53" fill="#5c5c5c"/>
<rect x="161.60" y="634.10" width="11.60" height="11.53" fill="#ececf4"/>
<rect x="173.15" y="634.10" width="11.60" height="11.53" fill="#fdfcec"/>
<rect x="184.70" y="634.10" width="11.60" height="11.53" fill="#fcf7cb"/>
<rect x="196.25" y="634.10" width="11.60" height="11.53" fill="#fdf9d9"/>
<rect x="211.43" y="634.10" width="11.60" height="11.53" fill="#fcf7cb"/>
<rect x="222.98" y="634.10" width="11.60" height="11.53" fill="#fcf8d2"/>
<rect x="234.53" y="634.10" width="11.60" height="11.53" fill="#fcf7cb"/>
<rect x="246.08" y="634.10" width="11.60" height="11.53" fill="#fdfdfc"/>
<rect x="261.26" y="634.10" width="11.60" height="11.53" fill="#fefdf3"/>
<rect x="272.81" y="634.10" width="11.60" height="11.53" fill="#fdf9d9"/>
<rect x="284.36" y="634.10" width="11.60" height="11.53" fill="#fefdf3"/>
<rect x="295.91" y="634.10" width="11.60" height="11.53" fill="#ececf4"/>
<rect x="311.09" y="634.10" width="11.60" height="11.53" fill="#fefdf3"/>
<rect x="322.64" y="634.10" width="11.60" height="11.53" fill="#fdfbe6"/>
<rect x="334.19" y="634.10" width="11.60" height="11.53" fill="#fdf9d9"/>
<rect x="345.74" y="634.10" width="11.60" height="11.53" fill="#e4e5f0"/>
<rect x="360.92" y="634.10" width="11.60" height="11.53" fill="#fefef9"/>
<rect x="372.47" y="634.10" width="11.60" height="11.53" fill="#fefdf3"/>
<rect x="384.02" y="634.10" width="11.60" height="11.53" fill="#fdfdfc"/>
<rect x="395.57" y="634.10" width="11.60" height="11.53" fill="#5c5c5c"/>
<rect x="410.75" y="634.10" width="11.60" height="11.53" fill="#fbfbfb"/>
<rect x="422.30" y="634.10" width="11.60" height="11.53" fill="#fdfdfc"/>
<rect x="433.85" y="634.10" width="11.60" height="11.53" fill="#fdfdfc"/>
<rect x="445.40" y="634.10" width="11.60" height="11.53" fill="#5c5c5c"/>
<rect x="460.58" y="634.10" width="11.60" height="11.53" fill="#5c5c5c"/>
<rect x="472.13" y="634.10" width="11.60" height="11.53" fill="#f3f3f7"/>
<rect x="483.68" y="634.10" width="11.60" height="11.53" fill="#ececf4"/>
<rect x="495.23" y="634.10" width="11.60" height="11.53" fill="#5c5c5c"/>
<rect x="161.60" y="645.58" width="11.60" height="11.53" fill="#fdfbe6"/>
<rect x="173.15" y="645.58" width="11.60" height="11.53" fill="#fefdf3"/>
<rect x="184.70" y="645.58" width="11.60" height="11.53" fill="#fcf7cb"/>
<rect x="196.25" y="645.58" width="11.60" height="11.53" fill="#fcf6c4"/>
<rect x="211.43" y="645.58" width="11.60" height="11.53" fill="#fdfae0"/>
<rect x="222.98" y="645.58" width="11.60" height="11.53" fill="#fcf7cb"/>
<rect x="234.53" y="645.58" width="11.60" height="11.53" fill="#fcf7cb"/>
<rect x="246.08" y="645.58" width="11.60" height="11.53" fill="#f7f7f9"/>
<rect x="261.26" y="645.58" width="11.60" height="11.53" fill="#fefef9"/>
<rect x="272.81" y="645.58" width="11.60" height="11.53" fill="#fdfae0"/>
<rect x="284.36" y="645.58" width="11.60" height="11.53" fill="#fcf8d2"/>
<rect x="295.91" y="645.58" width="11.60" height="11.53" fill="#dadbeb"/>
<rect x="311.09" y="645.58" width="11.60" height="11.53" fill="#fefdf3"/>
<rect x="322.64" y="645.58" width="11.60" height="11.53" fill="#fdfcec"/>
<rect x="334.19" y="645.58" width="11.60" height="11.53" fill="#fcf7cb"/>
<rect x="345.74" y="645.58" width="11.60" height="11.53" fill="#e4e5f0"/>
<rect x="360.92" y="645.58" width="11.60" height="11.53" fill="#fdfdfc"/>
<rect x="372.47" y="645.58" width="11.60" height="11.53" fill="#ececf4"/>
<rect x="384.02" y="645.58" width="11.60" height="11.53" fill="#eff0f5"/>
<rect x="395.57" y="645.58" width="11.60" height="11.53" fill="#5c5c5c"/>
<rect x="410.75" y="645.58" width="11.60" height="11.53" fill="#fdfdfc"/>
<rect x="422.30" y="645.58" width="11.60" height="11.53" fill="#fbfbfb"/>
<rect x="433.85" y="645.58" width="11.60" height="11.53" fill="#eff0f5"/>
<rect x="445.40" y="645.58" width="11.60" height="11.53" fill="#5c5c5c"/>
<rect x="460.58" y="645.58" width="11.60" height="11.53" fill="#5c5c5c"/>
<rect x="472.13" y="645.58" width="11.60" height="11.53" fill="#fdfdfc"/>
<rect x="483.68" y="645.58" width="11.60" height="11.53" fill="#fdfdfc"/>
<rect x="495.23" y="645.58" width="11.60" height="11.53" fill="#5c5c5c"/>
<rect x="161.60" y="657.06" width="11.60" height="11.53" fill="#fefdf3"/>
<rect x="173.15" y="657.06" width="11.60" height="11.53" fill="#f8e76a"/>
<rect x="184.70" y="657.06" width="11.60" height="11.53" fill="#fdfcec"/>
<rect x="196.25" y="657.06" width="11.60" height="11.53" fill="#fdf9d9"/>
<rect x="211.43" y="657.06" width="11.60" height="11.53" fill="#c0c3de"/>
<rect x="222.98" y="657.06" width="11.60" height="11.53" fill="#bbbedc"/>
<rect x="234.53" y="657.06" width="11.60" height="11.53" fill="#999fc9"/>
<rect x="246.08" y="657.06" width="11.60" height="11.53" fill="#999fc9"/>
<rect x="261.26" y="657.06" width="11.60" height="11.53" fill="#9fa4cc"/>
<rect x="272.81" y="657.06" width="11.60" height="11.53" fill="#d0d2e6"/>
<rect x="284.36" y="657.06" width="11.60" height="11.53" fill="#8d94c2"/>
<rect x="295.91" y="657.06" width="11.60" height="11.53" fill="#a4aad0"/>
<rect x="311.09" y="657.06" width="11.60" height="11.53" fill="#f3f3f7"/>
<rect x="322.64" y="657.06" width="11.60" height="11.53" fill="#b0b4d6"/>
<rect x="334.19" y="657.06" width="11.60" height="11.53" fill="#b0b4d6"/>
<rect x="345.74" y="657.06" width="11.60" height="11.53" fill="#fefef9"/>
<rect x="360.92" y="657.06" width="11.60" height="11.53" fill="#fdfdfc"/>
<rect x="372.47" y="657.06" width="11.60" height="11.53" fill="#d0d2e6"/>
<rect x="384.02" y="657.06" width="11.60" height="11.53" fill="#bbbedc"/>
<rect x="395.57" y="657.06" width="11.60" height="11.53" fill="#5c5c5c"/>
<rect x="410.75" y="657.06" width="11.60" height="11.53" fill="#fdfdfc"/>
<rect x="422.30" y="657.06" width="11.60" height="11.53" fill="#f9f9fa"/>
<rect x="433.85" y="657.06" width="11.60" height="11.53" fill="#e4e5f0"/>
<rect x="445.40" y="657.06" width="11.60" height="11.53" fill="#5c5c5c"/>
<rect x="460.58" y="657.06" width="11.60" height="11.53" fill="#5c5c5c"/>
<rect x="472.13" y="657.06" width="11.60" height="11.53" fill="#fefef9"/>
<rect x="483.68" y="657.06" width="11.60" height="11.53" fill="#fefdf3"/>
<rect x="495.23" y="657.06" width="11.60" height="11.53" fill="#5c5c5c"/>
<rect x="161.60" y="668.54" width="11.60" height="11.53" fill="#f8e978"/>
<rect x="173.15" y="668.54" width="11.60" height="11.53" fill="#f9ec85"/>
<rect x="184.70" y="668.54" width="11.60" height="11.53" fill="#4d4d4d"/>
<rect x="196.25" y="668.54" width="11.60" height="11.53" fill="#faef9a"/>
<rect x="211.43" y="668.54" width="11.60" height="11.53" fill="#4d4d4d"/>
<rect x="222.98" y="668.54" width="11.60" height="11.53" fill="#4d4d4d"/>
<rect x="234.53" y="668.54" width="11.60" height="11.53" fill="#4d4d4d"/>
<rect x="246.08" y="668.54" width="11.60" height="11.53" fill="#f8e76a"/>
<rect x="261.26" y="668.54" width="11.60" height="11.53" fill="#4d4d4d"/>
<rect x="272.81" y="668.54" width="11.60" height="11.53" fill="#4d4d4d"/>
<rect x="284.36" y="668.54" width="11.60" height="11.53" fill="#f9ec85"/>
<rect x="295.91" y="668.54" width="11.60" height="11.53" fill="#f9ee93"/>
<rect x="311.09" y="668.54" width="11.60" height="11.53" fill="#4d4d4d"/>
<rect x="322.64" y="668.54" width="11.60" height="11.53" fill="#f9ee93"/>
<rect x="334.19" y="668.54" width="11.60" height="11.53" fill="#4d4d4d"/>
<rect x="345.74" y="668.54" width="11.60" height="11.53" fill="#fcf7cb"/>
<rect x="360.92" y="668.54" width="11.60" height="11.53" fill="#f7e358"/>
<rect x="372.47" y="668.54" width="11.60" height="11.53" fill="#f9ec85"/>
<rect x="384.02" y="668.54" width="11.60" height="11.53" fill="#fbf1a7"/>
<rect x="395.57" y="668.54" width="11.60" height="11.53" fill="#5c5c5c"/>
<rect x="410.75" y="668.54" width="11.60" height="11.53" fill="#4d4d4d"/>
<rect x="422.30" y="668.54" width="11.60" height="11.53" fill="#4d4d4d"/>
<rect x="433.85" y="668.54" width="11.60" height="11.53" fill="#fcf5bd"/>
<rect x="445.40" y="668.54" width="11.60" height="11.53" fill="#5c5c5c"/>
<rect x="460.58" y="668.54" width="11.60" height="11.53" fill="#5c5c5c"/>
<rect x="472.13" y="668.54" width="11.60" height="11.53" fill="#5c5c5c"/>
<rect x="483.68" y="668.54" width="11.60" height="11.53" fill="#5c5c5c"/>
<rect x="495.23" y="668.54" width="11.60" height="11.53" fill="#5c5c5c"/>
<rect x="161.60" y="680.02" width="11.60" height="11.53" fill="#f9ee93"/>
<rect x="173.15" y="680.02" width="11.60" height="11.53" fill="#f9eb7e"/>
<rect x="184.70" y="680.02" width="11.60" height="11.53" fill="#a4aad0"/>
<rect x="196.25" y="680.02" width="11.60" height="11.53" fill="#faef9a"/>
<rect x="211.43" y="680.02" width="11.60" height="11.53" fill="#a4aad0"/>
<rect x="222.98" y="680.02" width="11.60" height="11.53" fill="#a4aad0"/>
<rect x="234.53" y="680.02" width="11.60" height="11.53" fill="#a4aad0"/>
<rect x="246.08" y="680.02" width="11.60" height="11.53" fill="#fbf2ae"/>
<rect x="261.26" y="680.02" width="11.60" height="11.53" fill="#b0b4d6"/>
<rect x="272.81" y="680.02" width="11.60" height="11.53" fill="#b0b4d6"/>
<rect x="284.36" y="680.02" width="11.60" height="11.53" fill="#fbf1a7"/>
<rect x="295.91" y="680.02" width="11.60" height="11.53" fill="#faef9a"/>
<rect x="311.09" y="680.02" width="11.60" height="11.53" fill="#aaafd3"/>
<rect x="322.64" y="680.02" width="11.60" height="11.53" fill="#fcf8d2"/>
<rect x="334.19" y="680.02" width="11.60" height="11.53" fill="#a4aad0"/>
<rect x="345.74" y="680.02" width="11.60" height="11.53" fill="#faef9a"/>
<rect x="360.92" y="680.02" width="11.60" height="11.53" fill="#b0b4d6"/>
<rect x="372.47" y="680.02" width="11.60" height="11.53" fill="#fcf5bd"/>
<rect x="384.02" y="680.02" width="11.60" height="11.53" fill="#fbf3b5"/>
<rect x="395.57" y="680.02" width="11.60" height="11.53" fill="#5c5c5c"/>
<rect x="410.75" y="680.02" width="11.60" height="11.53" fill="#b0b4d6"/>
<rect x="422.30" y="680.02" width="11.60" height="11.53" fill="#b0b4d6"/>
<rect x="433.85" y="680.02" width="11.60" height="11.53" fill="#fcf5bd"/>
<rect x="445.40" y="680.02" width="11.60" height="11.53" fill="#5c5c5c"/>
<rect x="460.58" y="680.02" width="11.60" height="11.53" fill="#5c5c5c"/>
<rect x="472.13" y="680.02" width="11.60" height="11.53" fill="#b0b4d6"/>
<rect x="483.68" y="680.02" width="11.60" height="11.53" fill="#b0b4d6"/>
<rect x="495.23" y="680.02" width="11.60" height="11.53" fill="#5c5c5c"/>
<rect x="161.60" y="691.50" width="11.60" height="11.53" fill="#fbf1a7"/>
<rect x="173.15" y="691.50" width="11.60" height="11.53" fill="#faf0a0"/>
<rect x="184.70" y="691.50" width="11.60" height="11.53" fill="#f9eb7e"/>
<rect x="196.25" y="691.50" width="11.60" height="11.53" fill="#f9ed8c"/>
<rect x="211.43" y="691.50" width="11.60" height="11.53" fill="#fbf1a7"/>
<rect x="222.98" y="691.50" width="11.60" height="11.53" fill="#4d4d4d"/>
<rect x="234.53" y="691.50" width="11.60" height="11.53" fill="#f9ed8c"/>
<rect x="246.08" y="691.50" width="11.60" height="11.53" fill="#f9ec85"/>
<rect x="261.26" y="691.50" width="11.60" height="11.53" fill="#fbf3b5"/>
<rect x="272.81" y="691.50" width="11.60" height="11.53" fill="#4d4d4d"/>
<rect x="284.36" y="691.50" width="11.60" height="11.53" fill="#f8e45e"/>
<rect x="295.91" y="691.50" width="11.60" height="11.53" fill="#f9eb7e"/>
<rect x="311.09" y="691.50" width="11.60" height="11.53" fill="#4d4d4d"/>
<rect x="322.64" y="691.50" width="11.60" height="11.53" fill="#faef9a"/>
<rect x="334.19" y="691.50" width="11.60" height="11.53" fill="#faef9a"/>
<rect x="345.74" y="691.50" width="11.60" height="11.53" fill="#fbf3b5"/>
<rect x="360.92" y="691.50" width="11.60" height="11.53" fill="#4d4d4d"/>
<rect x="372.47" y="691.50" width="11.60" height="11.53" fill="#4d4d4d"/>
<rect x="384.02" y="691.50" width="11.60" height="11.53" fill="#f9ee93"/>
<rect x="395.57" y="691.50" width="11.60" height="11.53" fill="#5c5c5c"/>
<rect x="410.75" y="691.50" width="11.60" height="11.53" fill="#f9ed8c"/>
<rect x="422.30" y="691.50" width="11.60" height="11.53" fill="#f9ec85"/>
<rect x="433.85" y="691.50" width="11.60" height="11.53" fill="#faef9a"/>
<rect x="445.40" y="691.50" width="11.60" height="11.53" fill="#5c5c5c"/>
<rect x="460.58" y="691.50" width="11.60" height="11.53" fill="#5c5c5c"/>
<rect x="472.13" y="691.50" width="11.60" height="11.53" fill="#f9ee93"/>
<rect x="483.68" y="691.50" width="11.60" height="11.53" fill="#f9ed8c"/>
<rect x="495.23" y="691.50" width="11.60" height="11.53" fill="#5c5c5c"/>
<rect x="161.60" y="702.98" width="11.60" height="11.53" fill="#faef9a"/>
<rect x="173.15" y="702.98" width="11.60" height="11.53" fill="#faef9a"/>
<rect x="184.70" y="702.98" width="11.60" height="11.53" fill="#faef9a"/>
<rect x="196.25" y="702.98" width="11.60" height="11.53" fill="#f9ee93"/>
<rect x="211.43" y="702.98" width="11.60" height="11.53" fill="#faf0a0"/>
<rect x="222.98" y="702.98" width="11.60" height="11.53" fill="#faf0a0"/>
<rect x="234.53" y="702.98" width="11.60" height="11.53" fill="#faef9a"/>
<rect x="246.08" y="702.98" width="11.60" height="11.53" fill="#f9ee93"/>
<rect x="261.26" y="702.98" width="11.60" height="11.53" fill="#fcf8d2"/>
<rect x="272.81" y="702.98" width="11.60" height="11.53" fill="#fbf3b5"/>
<rect x="284.36" y="702.98" width="11.60" height="11.53" fill="#fbf2ae"/>
<rect x="295.91" y="702.98" width="11.60" height="11.53" fill="#fcf5bd"/>
<rect x="311.09" y="702.98" width="11.60" height="11.53" fill="#fdfae0"/>
<rect x="322.64" y="702.98" width="11.60" height="11.53" fill="#fcf7cb"/>
<rect x="334.19" y="702.98" width="11.60" height="11.53" fill="#fcf8d2"/>
<rect x="345.74" y="702.98" width="11.60" height="11.53" fill="#fcf8d2"/>
<rect x="360.92" y="702.98" width="11.60" height="11.53" fill="#fdfae0"/>
<rect x="372.47" y="702.98" width="11.60" height="11.53" fill="#fcf7cb"/>
<rect x="384.02" y="702.98" width="11.60" height="11.53" fill="#fcf8d2"/>
<rect x="395.57" y="702.98" width="11.60" height="11.53" fill="#5c5c5c"/>
<rect x="410.75" y="702.98" width="11.60" height="11.53" fill="#fdfcec"/>
<rect x="422.30" y="702.98" width="11.60" height="11.53" fill="#fdfae0"/>
<rect x="433.85" y="702.98" width="11.60" height="11.53" fill="#fdfae0"/>
<rect x="445.40" y="702.98" width="11.60" height="11.53" fill="#5c5c5c"/>
<rect x="460.58" y="702.98" width="11.60" height="11.53" fill="#5c5c5c"/>
<rect x="472.13" y="702.98" width="11.60" height="11.53" fill="#fdfbe6"/>
<rect x="483.68" y="702.98" width="11.60" height="11.53" fill="#fdfae0"/>
<rect x="495.23" y="702.98" width="11.60" height="11.53" fill="#5c5c5c"/>
<line x1="173.15" y1="519.30" x2="173.15" y2="714.46" stroke="#9a9a9a" stroke-width="0.75"/>
<line x1="184.70" y1="519.30" x2="184.70" y2="714.46" stroke="#9a9a9a" stroke-width="0.75"/>
<line x1="196.25" y1="519.30" x2="196.25" y2="714.46" stroke="#9a9a9a" stroke-width="0.75"/>
<line x1="222.98" y1="519.30" x2="222.98" y2="714.46" stroke="#9a9a9a" stroke-width="0.75"/>
<line x1="234.53" y1="519.30" x2="234.53" y2="714.46" stroke="#9a9a9a" stroke-width="0.75"/>
<line x1="246.08" y1="519.30" x2="246.08" y2="714.46" stroke="#9a9a9a" stroke-width="0.75"/>
<line x1="272.81" y1="519.30" x2="272.81" y2="714.46" stroke="#9a9a9a" stroke-width="0.75"/>
<line x1="284.36" y1="519.30" x2="284.36" y2="714.46" stroke="#9a9a9a" stroke-width="0.75"/>
<line x1="295.91" y1="519.30" x2="295.91" y2="714.46" stroke="#9a9a9a" stroke-width="0.75"/>
<line x1="322.64" y1="519.30" x2="322.64" y2="714.46" stroke="#9a9a9a" stroke-width="0.75"/>
<line x1="334.19" y1="519.30" x2="334.19" y2="714.46" stroke="#9a9a9a" stroke-width="0.75"/>
<line x1="345.74" y1="519.30" x2="345.74" y2="714.46" stroke="#9a9a9a" stroke-width="0.75"/>
<line x1="372.47" y1="519.30" x2="372.47" y2="714.46" stroke="#9a9a9a" stroke-width="0.75"/>
<line x1="384.02" y1="519.30" x2="384.02" y2="714.46" stroke="#9a9a9a" stroke-width="0.75"/>
<line x1="395.57" y1="519.30" x2="395.57" y2="714.46" stroke="#9a9a9a" stroke-width="0.75"/>
<line x1="422.30" y1="519.30" x2="422.30" y2="714.46" stroke="#9a9a9a" stroke-width="0.75"/>
<line x1="433.85" y1="519.30" x2="433.85" y2="714.46" stroke="#9a9a9a" stroke-width="0.75"/>
<line x1="445.40" y1="519.30" x2="445.40" y2="714.46" stroke="#9a9a9a" stroke-width="0.75"/>
<line x1="472.13" y1="519.30" x2="472.13" y2="714.46" stroke="#9a9a9a" stroke-width="0.75"/>
<line x1="483.68" y1="519.30" x2="483.68" y2="714.46" stroke="#9a9a9a" stroke-width="0.75"/>
<line x1="495.23" y1="519.30" x2="495.23" y2="714.46" stroke="#9a9a9a" stroke-width="0.75"/>
<line x1="161.60" y1="530.78" x2="207.80" y2="530.78" stroke="#9a9a9a" stroke-width="0.75"/>
<line x1="211.43" y1="530.78" x2="257.63" y2="530.78" stroke="#9a9a9a" stroke-width="0.75"/>
<line x1="261.26" y1="530.78" x2="307.46" y2="530.78" stroke="#9a9a9a" stroke-width="0.75"/>
<line x1="311.09" y1="530.78" x2="357.29" y2="530.78" stroke="#9a9a9a" stroke-width="0.75"/>
<line x1="360.92" y1="530.78" x2="407.12" y2="530.78" stroke="#9a9a9a" stroke-width="0.75"/>
<line x1="410.75" y1="530.78" x2="456.95" y2="530.78" stroke="#9a9a9a" stroke-width="0.75"/>
<line x1="460.58" y1="530.78" x2="506.78" y2="530.78" stroke="#9a9a9a" stroke-width="0.75"/>
<line x1="161.60" y1="542.26" x2="207.80" y2="542.26" stroke="#9a9a9a" stroke-width="0.75"/>
<line x1="211.43" y1="542.26" x2="257.63" y2="542.26" stroke="#9a9a9a" stroke-width="0.75"/>
<line x1="261.26" y1="542.26" x2="307.46" y2="542.26" stroke="#9a9a9a" stroke-width="0.75"/>
<line x1="311.09" y1="542.26" x2="357.29" y2="542.26" stroke="#9a9a9a" stroke-width="0.75"/>
<line x1="360.92" y1="542.26" x2="407.12" y2="542.26" stroke="#9a9a9a" stroke-width="0.75"/>
<line x1="410.75" y1="542.26" x2="456.95" y2="542.26" stroke="#9a9a9a" stroke-width="0.75"/>
<line x1="460.58" y1="542.26" x2="506.78" y2="542.26" stroke="#9a9a9a" stroke-width="0.75"/>
<line x1="161.60" y1="553.74" x2="207.80" y2="553.74" stroke="#9a9a9a" stroke-width="0.75"/>
<line x1="211.43" y1="553.74" x2="257.63" y2="553.74" stroke="#9a9a9a" stroke-width="0.75"/>
<line x1="261.26" y1="553.74" x2="307.46" y2="553.74" stroke="#9a9a9a" stroke-width="0.75"/>
<line x1="311.09" y1="553.74" x2="357.29" y2="553.74" stroke="#9a9a9a" stroke-width="0.75"/>
<line x1="360.92" y1="553.74" x2="407.12" y2="553.74" stroke="#9a9a9a" stroke-width="0.75"/>
<line x1="410.75" y1="553.74" x2="456.95" y2="553.74" stroke="#9a9a9a" stroke-width="0.75"/>
<line x1="460.58" y1="553.74" x2="506.78" y2="553.74" stroke="#9a9a9a" stroke-width="0.75"/>
<line x1="161.60" y1="565.22" x2="207.80" y2="565.22" stroke="#9a9a9a" stroke-width="0.75"/>
<line x1="211.43" y1="565.22" x2="257.63" y2="565.22" stroke="#9a9a9a" stroke-width="0.75"/>
<line x1="261.26" y1="565.22" x2="307.46" y2="565.22" stroke="#9a9a9a" stroke-width="0.75"/>
<line x1="311.09" y1="565.22" x2="357.29" y2="565.22" stroke="#9a9a9a" stroke-width="0.75"/>
<line x1="360.92" y1="565.22" x2="407.12" y2="565.22" stroke="#9a9a9a" stroke-width="0.75"/>
<line x1="410.75" y1="565.22" x2="456.95" y2="565.22" stroke="#9a9a9a" stroke-width="0.75"/>
<line x1="460.58" y1="565.22" x2="506.78" y2="565.22" stroke="#9a9a9a" stroke-width="0.75"/>
<line x1="161.60" y1="576.70" x2="207.80" y2="576.70" stroke="#9a9a9a" stroke-width="0.75"/>
<line x1="211.43" y1="576.70" x2="257.63" y2="576.70" stroke="#9a9a9a" stroke-width="0.75"/>
<line x1="261.26" y1="576.70" x2="307.46" y2="576.70" stroke="#9a9a9a" stroke-width="0.75"/>
<line x1="311.09" y1="576.70" x2="357.29" y2="576.70" stroke="#9a9a9a" stroke-width="0.75"/>
<line x1="360.92" y1="576.70" x2="407.12" y2="576.70" stroke="#9a9a9a" stroke-width="0.75"/>
<line x1="410.75" y1="576.70" x2="456.95" y2="576.70" stroke="#9a9a9a" stroke-width="0.75"/>
<line x1="460.58" y1="576.70" x2="506.78" y2="576.70" stroke="#9a9a9a" stroke-width="0.75"/>
<line x1="161.60" y1="588.18" x2="207.80" y2="588.18" stroke="#9a9a9a" stroke-width="0.75"/>
<line x1="211.43" y1="588.18" x2="257.63" y2="588.18" stroke="#9a9a9a" stroke-width="0.75"/>
<line x1="261.26" y1="588.18" x2="307.46" y2="588.18" stroke="#9a9a9a" stroke-width="0.75"/>
<line x1="311.09" y1="588.18" x2="357.29" y2="588.18" stroke="#9a9a9a" stroke-width="0.75"/>
<line x1="360.92" y1="588.18" x2="407.12" y2="588.18" stroke="#9a9a9a" stroke-width="0.75"/>
<line x1="410.75" y1="588.18" x2="456.95" y2="588.18" stroke="#9a9a9a" stroke-width="0.75"/>
<line x1="460.58" y1="588.18" x2="506.78" y2="588.18" stroke="#9a9a9a" stroke-width="0.75"/>
<line x1="161.60" y1="599.66" x2="207.80" y2="599.66" stroke="#9a9a9a" stroke-width="0.75"/>
<line x1="211.43" y1="599.66" x2="257.63" y2="599.66" stroke="#9a9a9a" stroke-width="0.75"/>
<line x1="261.26" y1="599.66" x2="307.46" y2="599.66" stroke="#9a9a9a" stroke-width="0.75"/>
<line x1="311.09" y1="599.66" x2="357.29" y2="599.66" stroke="#9a9a9a" stroke-width="0.75"/>
<line x1="360.92" y1="599.66" x2="407.12" y2="599.66" stroke="#9a9a9a" stroke-width="0.75"/>
<line x1="410.75" y1="599.66" x2="456.95" y2="599.66" stroke="#9a9a9a" stroke-width="0.75"/>
<line x1="460.58" y1="599.66" x2="506.78" y2="599.66" stroke="#9a9a9a" stroke-width="0.75"/>
<line x1="161.60" y1="611.14" x2="207.80" y2="611.14" stroke="#9a9a9a" stroke-width="0.75"/>
<line x1="211.43" y1="611.14" x2="257.63" y2="611.14" stroke="#9a9a9a" stroke-width="0.75"/>
<line x1="261.26" y1="611.14" x2="307.46" y2="611.14" stroke="#9a9a9a" stroke-width="0.75"/>
<line x1="311.09" y1="611.14" x2="357.29" y2="611.14" stroke="#9a9a9a" stroke-width="0.75"/>
<line x1="360.92" y1="611.14" x2="407.12" y2="611.14" stroke="#9a9a9a" stroke-width="0.75"/>
<line x1="410.75" y1="611.14" x2="456.95" y2="611.14" stroke="#9a9a9a" stroke-width="0.75"/>
<line x1="460.58" y1="611.14" x2="506.78" y2="611.14" stroke="#9a9a9a" stroke-width="0.75"/>
<line x1="161.60" y1="622.62" x2="207.80" y2="622.62" stroke="#9a9a9a" stroke-width="0.75"/>
<line x1="211.43" y1="622.62" x2="257.63" y2="622.62" stroke="#9a9a9a" stroke-width="0.75"/>
<line x1="261.26" y1="622.62" x2="307.46" y2="622.62" stroke="#9a9a9a" stroke-width="0.75"/>
<line x1="311.09" y1="622.62" x2="357.29" y2="622.62" stroke="#9a9a9a" stroke-width="0.75"/>
<line x1="360.92" y1="622.62" x2="407.12" y2="622.62" stroke="#9a9a9a" stroke-width="0.75"/>
<line x1="410.75" y1="622.62" x2="456.95" y2="622.62" stroke="#9a9a9a" stroke-width="0.75"/>
<line x1="460.58" y1="622.62" x2="506.78" y2="622.62" stroke="#9a9a9a" stroke-width="0.75"/>
<line x1="161.60" y1="634.10" x2="207.80" y2="634.10" stroke="#9a9a9a" stroke-width="0.75"/>
<line x1="211.43" y1="634.10" x2="257.63" y2="634.10" stroke="#9a9a9a" stroke-width="0.75"/>
<line x1="261.26" y1="634.10" x2="307.46" y2="634.10" stroke="#9a9a9a" stroke-width="0.75"/>
<line x1="311.09" y1="634.10" x2="357.29" y2="634.10" stroke="#9a9a9a" stroke-width="0.75"/>
<line x1="360.92" y1="634.10" x2="407.12" y2="634.10" stroke="#9a9a9a" stroke-width="0.75"/>
<line x1="410.75" y1="634.10" x2="456.95" y2="634.10" stroke="#9a9a9a" stroke-width="0.75"/>
<line x1="460.58" y1="634.10" x2="506.78" y2="634.10" stroke="#9a9a9a" stroke-width="0.75"/>
<line x1="161.60" y1="645.58" x2="207.80" y2="645.58" stroke="#9a9a9a" stroke-width="0.75"/>
<line x1="211.43" y1="645.58" x2="257.63" y2="645.58" stroke="#9a9a9a" stroke-width="0.75"/>
<line x1="261.26" y1="645.58" x2="307.46" y2="645.58" stroke="#9a9a9a" stroke-width="0.75"/>
<line x1="311.09" y1="645.58" x2="357.29" y2="645.58" stroke="#9a9a9a" stroke-width="0.75"/>
<line x1="360.92" y1="645.58" x2="407.12" y2="645.58" stroke="#9a9a9a" stroke-width="0.75"/>
<line x1="410.75" y1="645.58" x2="456.95" y2="645.58" stroke="#9a9a9a" stroke-width="0.75"/>
<line x1="460.58" y1="645.58" x2="506.78" y2="645.58" stroke="#9a9a9a" stroke-width="0.75"/>
<line x1="161.60" y1="657.06" x2="207.80" y2="657.06" stroke="#9a9a9a" stroke-width="0.75"/>
<line x1="211.43" y1="657.06" x2="257.63" y2="657.06" stroke="#9a9a9a" stroke-width="0.75"/>
<line x1="261.26" y1="657.06" x2="307.46" y2="657.06" stroke="#9a9a9a" stroke-width="0.75"/>
<line x1="311.09" y1="657.06" x2="357.29" y2="657.06" stroke="#9a9a9a" stroke-width="0.75"/>
<line x1="360.92" y1="657.06" x2="407.12" y2="657.06" stroke="#9a9a9a" stroke-width="0.75"/>
<line x1="410.75" y1="657.06" x2="456.95" y2="657.06" stroke="#9a9a9a" stroke-width="0.75"/>
<line x1="460.58" y1="657.06" x2="506.78" y2="657.06" stroke="#9a9a9a" stroke-width="0.75"/>
<line x1="161.60" y1="668.54" x2="207.80" y2="668.54" stroke="#9a9a9a" stroke-width="0.75"/>
<line x1="211.43" y1="668.54" x2="257.63" y2="668.54" stroke="#9a9a9a" stroke-width="0.75"/>
<line x1="261.26" y1="668.54" x2="307.46" y2="668.54" stroke="#9a9a9a" stroke-width="0.75"/>
<line x1="311.09" y1="668.54" x2="357.29" y2="668.54" stroke="#9a9a9a" stroke-width="0.75"/>
<line x1="360.92" y1="668.54" x2="407.12" y2="668.54" stroke="#9a9a9a" stroke-width="0.75"/>
<line x1="410.75" y1="668.54" x2="456.95" y2="668.54" stroke="#9a9a9a" stroke-width="0.75"/>
<line x1="460.58" y1="668.54" x2="506.78" y2="668.54" stroke="#9a9a9a" stroke-width="0.75"/>
<line x1="161.60" y1="680.02" x2="207.80" y2="680.02" stroke="#9a9a9a" stroke-width="0.75"/>
<line x1="211.43" y1="680.02" x2="257.63" y2="680.02" stroke="#9a9a9a" stroke-width="0.75"/>
<line x1="261.26" y1="680.02" x2="307.46" y2="680.02" stroke="#9a9a9a" stroke-width="0.75"/>
<line x1="311.09" y1="680.02" x2="357.29" y2="680.02" stroke="#9a9a9a" stroke-width="0.75"/>
<line x1="360.92" y1="680.02" x2="407.12" y2="680.02" stroke="#9a9a9a" stroke-width="0.75"/>
<line x1="410.75" y1="680.02" x2="456.95" y2="680.02" stroke="#9a9a9a" stroke-width="0.75"/>
<line x1="460.58" y1="680.02" x2="506.78" y2="680.02" stroke="#9a9a9a" stroke-width="0.75"/>
<line x1="161.60" y1="691.50" x2="207.80" y2="691.50" stroke="#9a9a9a" stroke-width="0.75"/>
<line x1="211.43" y1="691.50" x2="257.63" y2="691.50" stroke="#9a9a9a" stroke-width="0.75"/>
<line x1="261.26" y1="691.50" x2="307.46" y2="691.50" stroke="#9a9a9a" stroke-width="0.75"/>
<line x1="311.09" y1="691.50" x2="357.29" y2="691.50" stroke="#9a9a9a" stroke-width="0.75"/>
<line x1="360.92" y1="691.50" x2="407.12" y2="691.50" stroke="#9a9a9a" stroke-width="0.75"/>
<line x1="410.75" y1="691.50" x2="456.95" y2="691.50" stroke="#9a9a9a" stroke-width="0.75"/>
<line x1="460.58" y1="691.50" x2="506.78" y2="691.50" stroke="#9a9a9a" stroke-width="0.75"/>
<line x1="161.60" y1="702.98" x2="207.80" y2="702.98" stroke="#9a9a9a" stroke-width="0.75"/>
<line x1="211.43" y1="702.98" x2="257.63" y2="702.98" stroke="#9a9a9a" stroke-width="0.75"/>
<line x1="261.26" y1="702.98" x2="307.46" y2="702.98" stroke="#9a9a9a" stroke-width="0.75"/>
<line x1="311.09" y1="702.98" x2="357.29" y2="702.98" stroke="#9a9a9a" stroke-width="0.75"/>
<line x1="360.92" y1="702.98" x2="407.12" y2="702.98" stroke="#9a9a9a" stroke-width="0.75"/>
<line x1="410.75" y1="702.98" x2="456.95" y2="702.98" stroke="#9a9a9a" stroke-width="0.75"/>
<line x1="460.58" y1="702.98" x2="506.78" y2="702.98" stroke="#9a9a9a" stroke-width="0.75"/>
<rect x="207.80" y="517.30" width="3.63" height="199.16" fill="#ffffff"/>
<rect x="257.63" y="517.30" width="3.63" height="199.16" fill="#ffffff"/>
<rect x="307.46" y="517.30" width="3.63" height="199.16" fill="#ffffff"/>
<rect x="357.29" y="517.30" width="3.63" height="199.16" fill="#ffffff"/>
<rect x="407.12" y="517.30" width="3.63" height="199.16" fill="#ffffff"/>
<rect x="456.95" y="517.30" width="3.63" height="199.16" fill="#ffffff"/>
</g>
<rect x="162.00" y="519.90" width="344.78" height="194.46" fill="none" stroke="#000" stroke-width="1.4"/>
<line x1="157.00" y1="525.04" x2="161.50" y2="525.04" stroke="#111" stroke-width="1.4"/>
<text x="154.80" y="528.54" font-size="10" text-anchor="end" textLength="40.23" lengthAdjust="spacingAndGlyphs" stroke="#111" stroke-width="0.25" fill="#111">GM-CSF</text>
<line x1="157.00" y1="536.52" x2="161.50" y2="536.52" stroke="#111" stroke-width="1.4"/>
<text x="154.80" y="540.02" font-size="10" text-anchor="end" textLength="24.93" lengthAdjust="spacingAndGlyphs" stroke="#111" stroke-width="0.25" fill="#111">IFN-γ</text>
<line x1="157.00" y1="548.00" x2="161.50" y2="548.00" stroke="#111" stroke-width="1.4"/>
<text x="154.80" y="551.50" font-size="10" text-anchor="end" textLength="23.25" lengthAdjust="spacingAndGlyphs" stroke="#111" stroke-width="0.25" fill="#111">IL-10</text>
<line x1="157.00" y1="559.48" x2="161.50" y2="559.48" stroke="#111" stroke-width="1.4"/>
<text x="154.80" y="562.98" font-size="10" text-anchor="end" textLength="23.25" lengthAdjust="spacingAndGlyphs" stroke="#111" stroke-width="0.25" fill="#111">IL-13</text>
<line x1="157.00" y1="570.96" x2="161.50" y2="570.96" stroke="#111" stroke-width="1.4"/>
<text x="154.80" y="574.46" font-size="10" text-anchor="end" textLength="23.25" lengthAdjust="spacingAndGlyphs" stroke="#111" stroke-width="0.25" fill="#111">IL-15</text>
<line x1="157.00" y1="582.44" x2="161.50" y2="582.44" stroke="#111" stroke-width="1.4"/>
<text x="154.80" y="585.94" font-size="10" text-anchor="end" textLength="30.05" lengthAdjust="spacingAndGlyphs" stroke="#111" stroke-width="0.25" fill="#111">IL-17A</text>
<line x1="157.00" y1="593.92" x2="161.50" y2="593.92" stroke="#111" stroke-width="1.4"/>
<text x="154.80" y="597.42" font-size="10" text-anchor="end" textLength="17.58" lengthAdjust="spacingAndGlyphs" stroke="#111" stroke-width="0.25" fill="#111">IL-2</text>
<line x1="157.00" y1="605.40" x2="161.50" y2="605.40" stroke="#111" stroke-width="1.4"/>
<text x="154.80" y="608.90" font-size="10" text-anchor="end" textLength="17.58" lengthAdjust="spacingAndGlyphs" stroke="#111" stroke-width="0.25" fill="#111">IL-4</text>
<line x1="157.00" y1="616.88" x2="161.50" y2="616.88" stroke="#111" stroke-width="1.4"/>
<text x="154.80" y="620.38" font-size="10" text-anchor="end" textLength="17.58" lengthAdjust="spacingAndGlyphs" stroke="#111" stroke-width="0.25" fill="#111">IL-5</text>
<line x1="157.00" y1="628.36" x2="161.50" y2="628.36" stroke="#111" stroke-width="1.4"/>
<text x="154.80" y="631.86" font-size="10" text-anchor="end" textLength="17.58" lengthAdjust="spacingAndGlyphs" stroke="#111" stroke-width="0.25" fill="#111">IL-6</text>
<line x1="157.00" y1="639.84" x2="161.50" y2="639.84" stroke="#111" stroke-width="1.4"/>
<text x="154.80" y="643.34" font-size="10" text-anchor="end" textLength="17.58" lengthAdjust="spacingAndGlyphs" stroke="#111" stroke-width="0.25" fill="#111">IL-8</text>
<line x1="157.00" y1="651.32" x2="161.50" y2="651.32" stroke="#111" stroke-width="1.4"/>
<text x="154.80" y="654.82" font-size="10" text-anchor="end" textLength="24.38" lengthAdjust="spacingAndGlyphs" stroke="#111" stroke-width="0.25" fill="#111">IP-10</text>
<line x1="157.00" y1="662.80" x2="161.50" y2="662.80" stroke="#111" stroke-width="1.4"/>
<text x="154.80" y="666.30" font-size="10" text-anchor="end" textLength="31.74" lengthAdjust="spacingAndGlyphs" stroke="#111" stroke-width="0.25" fill="#111">MCP-1</text>
<line x1="157.00" y1="674.28" x2="161.50" y2="674.28" stroke="#111" stroke-width="1.4"/>
<text x="154.80" y="677.78" font-size="10" text-anchor="end" textLength="33.10" lengthAdjust="spacingAndGlyphs" stroke="#111" stroke-width="0.25" fill="#111">MIP-1α</text>
<line x1="157.00" y1="685.76" x2="161.50" y2="685.76" stroke="#111" stroke-width="1.4"/>
<text x="154.80" y="689.26" font-size="10" text-anchor="end" textLength="33.07" lengthAdjust="spacingAndGlyphs" stroke="#111" stroke-width="0.25" fill="#111">MIP-1β</text>
<line x1="157.00" y1="697.24" x2="161.50" y2="697.24" stroke="#111" stroke-width="1.4"/>
<text x="154.80" y="700.74" font-size="10" text-anchor="end" textLength="41.37" lengthAdjust="spacingAndGlyphs" stroke="#111" stroke-width="0.25" fill="#111">RANTES</text>
<line x1="157.00" y1="708.72" x2="161.50" y2="708.72" stroke="#111" stroke-width="1.4"/>
<text x="154.80" y="712.22" font-size="10" text-anchor="end" textLength="29.12" lengthAdjust="spacingAndGlyphs" stroke="#111" stroke-width="0.25" fill="#111">TNF-α</text>
<text x="81.26" y="515.10" font-size="11.2" text-anchor="middle" stroke="#111" stroke-width="0.2" fill="#111">1</text>
<text x="185.00" y="515.10" font-size="11.2" text-anchor="middle" stroke="#111" stroke-width="0.2" fill="#111">1</text>
<text x="234.83" y="515.10" font-size="11.2" text-anchor="middle" stroke="#111" stroke-width="0.2" fill="#111">3</text>
<text x="284.66" y="515.10" font-size="11.2" text-anchor="middle" stroke="#111" stroke-width="0.2" fill="#111">5</text>
<text x="334.49" y="515.10" font-size="11.2" text-anchor="middle" stroke="#111" stroke-width="0.2" fill="#111">7</text>
<text x="384.32" y="515.10" font-size="11.2" text-anchor="middle" stroke="#111" stroke-width="0.2" fill="#111">9</text>
<text x="434.15" y="515.10" font-size="11.2" text-anchor="middle" stroke="#111" stroke-width="0.2" fill="#111">11</text>
<text x="483.98" y="515.10" font-size="11.2" text-anchor="middle" stroke="#111" stroke-width="0.2" fill="#111">13</text>
<text x="60.00" y="248.60" font-size="14" text-anchor="start" textLength="18.10" lengthAdjust="spacingAndGlyphs" stroke="#111" stroke-width="0.05" fill="#111">NT</text>
<text x="79.80" y="244.30" font-size="10.8" text-anchor="start" textLength="21.30" lengthAdjust="spacingAndGlyphs" stroke="#111" stroke-width="0.05" fill="#111">Bulk</text>
<text x="56.00" y="497.70" font-size="14" text-anchor="start" textLength="17.80" lengthAdjust="spacingAndGlyphs" stroke="#111" stroke-width="0.05" fill="#111">NT</text>
<text x="75.80" y="492.70" font-size="10.6" text-anchor="start" textLength="21.50" lengthAdjust="spacingAndGlyphs" stroke="#111" stroke-width="0.05" fill="#111">CD7</text>
<line x1="98.80" y1="486.20" x2="103.80" y2="486.20" stroke="#111" stroke-width="0.9"/>
<line x1="201.50" y1="241.20" x2="264.60" y2="241.20" stroke="#111" stroke-width="1.1"/>
<text x="269.20" y="245.80" font-size="14.0" text-anchor="start" textLength="72.80" lengthAdjust="spacingAndGlyphs" stroke="#111" stroke-width="0.05" fill="#111">CD19-CAR</text>
<text x="343.10" y="241.30" font-size="10.8" text-anchor="start" textLength="20.90" lengthAdjust="spacingAndGlyphs" stroke="#111" stroke-width="0.05" fill="#111">Bulk</text>
<line x1="369.00" y1="241.20" x2="426.00" y2="241.20" stroke="#111" stroke-width="1.1"/>
<line x1="188.30" y1="492.60" x2="281.50" y2="492.60" stroke="#111" stroke-width="1.1"/>
<text x="288.00" y="497.30" font-size="14.0" text-anchor="start" textLength="71.50" lengthAdjust="spacingAndGlyphs" stroke="#111" stroke-width="0.05" fill="#111">CD19-CAR</text>
<text x="361.20" y="492.70" font-size="10.6" text-anchor="start" textLength="21.50" lengthAdjust="spacingAndGlyphs" stroke="#111" stroke-width="0.05" fill="#111">CD7</text>
<line x1="384.60" y1="486.20" x2="389.60" y2="486.20" stroke="#111" stroke-width="0.9"/>
<line x1="393.70" y1="492.60" x2="481.30" y2="492.60" stroke="#111" stroke-width="1.1"/>
<rect x="474.80" y="271.20" width="12.00" height="73.80" fill="url(#bg)" stroke="#000" stroke-width="1.4"/>
<text x="491.50" y="274.90" font-size="10.4" text-anchor="start" stroke="#111" stroke-width="0.1" fill="#111">6</text>
<line x1="474.80" y1="292.29" x2="477.20" y2="292.29" stroke="#111" stroke-width="1.0"/>
<line x1="484.40" y1="292.29" x2="486.80" y2="292.29" stroke="#111" stroke-width="1.0"/>
<text x="491.50" y="295.99" font-size="10.4" text-anchor="start" stroke="#111" stroke-width="0.1" fill="#111">4</text>
<line x1="474.80" y1="313.37" x2="477.20" y2="313.37" stroke="#111" stroke-width="1.0"/>
<line x1="484.40" y1="313.37" x2="486.80" y2="313.37" stroke="#111" stroke-width="1.0"/>
<text x="491.50" y="317.07" font-size="10.4" text-anchor="start" stroke="#111" stroke-width="0.1" fill="#111">2</text>
<line x1="474.80" y1="334.46" x2="477.20" y2="334.46" stroke="#111" stroke-width="1.0"/>
<line x1="484.40" y1="334.46" x2="486.80" y2="334.46" stroke="#111" stroke-width="1.0"/>
<text x="491.50" y="338.16" font-size="10.4" text-anchor="start" stroke="#111" stroke-width="0.1" fill="#111">0</text>
<text x="507.00" y="272.80" font-size="14.2" text-anchor="start" textLength="15.50" lengthAdjust="spacingAndGlyphs" transform="rotate(90 507.00 272.80)" stroke="#111" stroke-width="0.1" fill="#111">Log</text>
<text x="502.40" y="289.00" font-size="9.4" text-anchor="start" textLength="11.80" lengthAdjust="spacingAndGlyphs" transform="rotate(90 502.40 289.00)" stroke="#111" stroke-width="0.1" fill="#111">10</text>
<text x="507.00" y="302.00" font-size="14.2" text-anchor="start" textLength="43.40" lengthAdjust="spacingAndGlyphs" transform="rotate(90 507.00 302.00)" stroke="#111" stroke-width="0.1" fill="#111">(pg/mL)</text>
<rect x="91.20" y="771.00" width="12.05" height="13.20" fill="#e2eff0"/>
<rect x="91.20" y="784.15" width="12.05" height="13.20" fill="#e4f0f1"/>
<rect x="91.20" y="797.30" width="12.05" height="13.20" fill="#e0eeef"/>
<line x1="91.20" y1="784.15" x2="103.20" y2="784.15" stroke="#88a4a6" stroke-width="0.7"/>
<line x1="91.20" y1="797.30" x2="103.20" y2="797.30" stroke="#88a4a6" stroke-width="0.7"/>
<rect x="90.50" y="770.30" width="13.40" height="40.85" fill="none" stroke="#000" stroke-width="1.4"/>
<line x1="85.60" y1="777.58" x2="90.00" y2="777.58" stroke="#111" stroke-width="1.3"/>
<text x="81.00" y="781.18" font-size="10.8" text-anchor="end" textLength="4.81" lengthAdjust="spacingAndGlyphs" stroke="#111" stroke-width="0.25" fill="#111">2</text>
<line x1="159.40" y1="777.58" x2="162.60" y2="777.58" stroke="#111" stroke-width="1.3"/>
<text x="154.60" y="781.18" font-size="10.8" text-anchor="end" textLength="4.81" lengthAdjust="spacingAndGlyphs" stroke="#111" stroke-width="0.25" fill="#111">2</text>
<line x1="85.60" y1="790.73" x2="90.00" y2="790.73" stroke="#111" stroke-width="1.3"/>
<text x="81.00" y="794.33" font-size="10.8" text-anchor="end" textLength="4.81" lengthAdjust="spacingAndGlyphs" stroke="#111" stroke-width="0.25" fill="#111">3</text>
<line x1="159.40" y1="790.73" x2="162.60" y2="790.73" stroke="#111" stroke-width="1.3"/>
<text x="154.60" y="794.33" font-size="10.8" text-anchor="end" textLength="4.81" lengthAdjust="spacingAndGlyphs" stroke="#111" stroke-width="0.25" fill="#111">3</text>
<line x1="85.60" y1="803.88" x2="90.00" y2="803.88" stroke="#111" stroke-width="1.3"/>
<text x="81.00" y="807.48" font-size="10.8" text-anchor="end" textLength="4.81" lengthAdjust="spacingAndGlyphs" stroke="#111" stroke-width="0.25" fill="#111">4</text>
<line x1="159.40" y1="803.88" x2="162.60" y2="803.88" stroke="#111" stroke-width="1.3"/>
<text x="154.60" y="807.48" font-size="10.8" text-anchor="end" textLength="4.81" lengthAdjust="spacingAndGlyphs" stroke="#111" stroke-width="0.25" fill="#111">4</text>
<line x1="97.20" y1="811.05" x2="97.20" y2="815.05" stroke="#111" stroke-width="1.3"/>
<text x="97.50" y="826.85" font-size="10" text-anchor="middle" textLength="5.12" lengthAdjust="spacingAndGlyphs" stroke="#111" stroke-width="0.25" fill="#111">1</text>
<clipPath id="c1840"><rect x="163.50" y="771.00" width="187.28" height="39.45"/></clipPath>
<g clip-path="url(#c1840)">
<rect x="162.90" y="771.00" width="13.47" height="13.20" fill="#e6f2f3"/>
<rect x="176.32" y="771.00" width="13.47" height="13.20" fill="#f4f9f9"/>
<rect x="189.74" y="771.00" width="13.47" height="13.20" fill="#d5e9eb"/>
<rect x="203.16" y="771.00" width="13.47" height="13.20" fill="#eef6f7"/>
<rect x="216.58" y="771.00" width="13.47" height="13.20" fill="#e8f3f4"/>
<rect x="230.00" y="771.00" width="13.47" height="13.20" fill="#2a8a93"/>
<rect x="243.42" y="771.00" width="13.47" height="13.20" fill="#5c5c5c"/>
<rect x="256.84" y="771.00" width="13.47" height="13.20" fill="#5c5c5c"/>
<rect x="270.26" y="771.00" width="13.47" height="13.20" fill="#5c5c5c"/>
<rect x="283.68" y="771.00" width="13.47" height="13.20" fill="#5c5c5c"/>
<rect x="297.10" y="771.00" width="13.47" height="13.20" fill="#5c5c5c"/>
<rect x="310.52" y="771.00" width="13.47" height="13.20" fill="#5c5c5c"/>
<rect x="323.94" y="771.00" width="13.47" height="13.20" fill="#5c5c5c"/>
<rect x="337.36" y="771.00" width="13.47" height="13.20" fill="#5c5c5c"/>
<rect x="162.90" y="784.15" width="13.47" height="13.20" fill="#f4f9f9"/>
<rect x="176.32" y="784.15" width="13.47" height="13.20" fill="#eef6f7"/>
<rect x="189.74" y="784.15" width="13.47" height="13.20" fill="#e3f0f1"/>
<rect x="203.16" y="784.15" width="13.47" height="13.20" fill="#e8f3f4"/>
<rect x="216.58" y="784.15" width="13.47" height="13.20" fill="#d8eaec"/>
<rect x="230.00" y="784.15" width="13.47" height="13.20" fill="#d8eaec"/>
<rect x="243.42" y="784.15" width="13.47" height="13.20" fill="#d5e8ea"/>
<rect x="256.84" y="784.15" width="13.47" height="13.20" fill="#bcdadd"/>
<rect x="270.26" y="784.15" width="13.47" height="13.20" fill="#f9fcfc"/>
<rect x="283.68" y="784.15" width="13.47" height="13.20" fill="#c2dee1"/>
<rect x="297.10" y="784.15" width="13.47" height="13.20" fill="#b0d4d8"/>
<rect x="310.52" y="784.15" width="13.47" height="13.20" fill="#b4d6d9"/>
<rect x="323.94" y="784.15" width="13.47" height="13.20" fill="#5c5c5c"/>
<rect x="337.36" y="784.15" width="13.47" height="13.20" fill="#5c5c5c"/>
<rect x="162.90" y="797.30" width="13.47" height="13.20" fill="#f4f9f9"/>
<rect x="176.32" y="797.30" width="13.47" height="13.20" fill="#f6fafa"/>
<rect x="189.74" y="797.30" width="13.47" height="13.20" fill="#2a8a93"/>
<rect x="203.16" y="797.30" width="13.47" height="13.20" fill="#f0f7f7"/>
<rect x="216.58" y="797.30" width="13.47" height="13.20" fill="#e6f2f3"/>
<rect x="230.00" y="797.30" width="13.47" height="13.20" fill="#8cc2c6"/>
<rect x="243.42" y="797.30" width="13.47" height="13.20" fill="#8cc2c6"/>
<rect x="256.84" y="797.30" width="13.47" height="13.20" fill="#5c5c5c"/>
<rect x="270.26" y="797.30" width="13.47" height="13.20" fill="#5c5c5c"/>
<rect x="283.68" y="797.30" width="13.47" height="13.20" fill="#5c5c5c"/>
<rect x="297.10" y="797.30" width="13.47" height="13.20" fill="#5c5c5c"/>
<rect x="310.52" y="797.30" width="13.47" height="13.20" fill="#5c5c5c"/>
<rect x="323.94" y="797.30" width="13.47" height="13.20" fill="#5c5c5c"/>
<rect x="337.36" y="797.30" width="13.47" height="13.20" fill="#5c5c5c"/>
<line x1="176.32" y1="771.00" x2="176.32" y2="810.45" stroke="#9c9c9c" stroke-width="1.0"/>
<line x1="189.74" y1="771.00" x2="189.74" y2="810.45" stroke="#9c9c9c" stroke-width="1.0"/>
<line x1="203.16" y1="771.00" x2="203.16" y2="810.45" stroke="#9c9c9c" stroke-width="1.0"/>
<line x1="216.58" y1="771.00" x2="216.58" y2="810.45" stroke="#9c9c9c" stroke-width="1.0"/>
<line x1="230.00" y1="771.00" x2="230.00" y2="810.45" stroke="#9c9c9c" stroke-width="1.0"/>
<line x1="243.42" y1="771.00" x2="243.42" y2="810.45" stroke="#9c9c9c" stroke-width="1.0"/>
<line x1="256.84" y1="771.00" x2="256.84" y2="810.45" stroke="#9c9c9c" stroke-width="1.0"/>
<line x1="270.26" y1="771.00" x2="270.26" y2="810.45" stroke="#9c9c9c" stroke-width="1.0"/>
<line x1="283.68" y1="771.00" x2="283.68" y2="810.45" stroke="#9c9c9c" stroke-width="1.0"/>
<line x1="297.10" y1="771.00" x2="297.10" y2="810.45" stroke="#9c9c9c" stroke-width="1.0"/>
<line x1="310.52" y1="771.00" x2="310.52" y2="810.45" stroke="#9c9c9c" stroke-width="1.0"/>
<line x1="323.94" y1="771.00" x2="323.94" y2="810.45" stroke="#9c9c9c" stroke-width="1.0"/>
<line x1="337.36" y1="771.00" x2="337.36" y2="810.45" stroke="#9c9c9c" stroke-width="1.0"/>
<line x1="162.90" y1="784.15" x2="350.78" y2="784.15" stroke="#9c9c9c" stroke-width="1.0"/>
<line x1="162.90" y1="797.30" x2="350.78" y2="797.30" stroke="#9c9c9c" stroke-width="1.0"/>
</g>
<rect x="163.50" y="771.00" width="187.28" height="39.45" fill="none" stroke="#000" stroke-width="1.4"/>
<line x1="169.61" y1="811.05" x2="169.61" y2="815.05" stroke="#111" stroke-width="1.3"/>
<text x="169.81" y="826.85" font-size="10" text-anchor="middle" textLength="5.12" lengthAdjust="spacingAndGlyphs" stroke="#111" stroke-width="0.25" fill="#111">1</text>
<line x1="183.03" y1="811.05" x2="183.03" y2="815.05" stroke="#111" stroke-width="1.3"/>
<text x="183.23" y="826.85" font-size="10" text-anchor="middle" textLength="5.12" lengthAdjust="spacingAndGlyphs" stroke="#111" stroke-width="0.25" fill="#111">2</text>
<line x1="196.45" y1="811.05" x2="196.45" y2="815.05" stroke="#111" stroke-width="1.3"/>
<text x="196.65" y="826.85" font-size="10" text-anchor="middle" textLength="5.12" lengthAdjust="spacingAndGlyphs" stroke="#111" stroke-width="0.25" fill="#111">3</text>
<line x1="209.87" y1="811.05" x2="209.87" y2="815.05" stroke="#111" stroke-width="1.3"/>
<text x="210.07" y="826.85" font-size="10" text-anchor="middle" textLength="5.12" lengthAdjust="spacingAndGlyphs" stroke="#111" stroke-width="0.25" fill="#111">4</text>
<line x1="223.29" y1="811.05" x2="223.29" y2="815.05" stroke="#111" stroke-width="1.3"/>
<text x="223.49" y="826.85" font-size="10" text-anchor="middle" textLength="5.12" lengthAdjust="spacingAndGlyphs" stroke="#111" stroke-width="0.25" fill="#111">5</text>
<line x1="236.71" y1="811.05" x2="236.71" y2="815.05" stroke="#111" stroke-width="1.3"/>
<text x="236.91" y="826.85" font-size="10" text-anchor="middle" textLength="5.12" lengthAdjust="spacingAndGlyphs" stroke="#111" stroke-width="0.25" fill="#111">6</text>
<line x1="250.13" y1="811.05" x2="250.13" y2="815.05" stroke="#111" stroke-width="1.3"/>
<text x="250.33" y="826.85" font-size="10" text-anchor="middle" textLength="5.12" lengthAdjust="spacingAndGlyphs" stroke="#111" stroke-width="0.25" fill="#111">7</text>
<line x1="263.55" y1="811.05" x2="263.55" y2="815.05" stroke="#111" stroke-width="1.3"/>
<text x="263.75" y="826.85" font-size="10" text-anchor="middle" textLength="5.12" lengthAdjust="spacingAndGlyphs" stroke="#111" stroke-width="0.25" fill="#111">8</text>
<line x1="276.97" y1="811.05" x2="276.97" y2="815.05" stroke="#111" stroke-width="1.3"/>
<text x="277.17" y="826.85" font-size="10" text-anchor="middle" textLength="5.12" lengthAdjust="spacingAndGlyphs" stroke="#111" stroke-width="0.25" fill="#111">9</text>
<line x1="290.39" y1="811.05" x2="290.39" y2="815.05" stroke="#111" stroke-width="1.3"/>
<text x="290.59" y="826.85" font-size="10" text-anchor="middle" textLength="10.23" lengthAdjust="spacingAndGlyphs" stroke="#111" stroke-width="0.25" fill="#111">10</text>
<line x1="303.81" y1="811.05" x2="303.81" y2="815.05" stroke="#111" stroke-width="1.3"/>
<text x="304.01" y="826.85" font-size="10" text-anchor="middle" textLength="9.55" lengthAdjust="spacingAndGlyphs" stroke="#111" stroke-width="0.25" fill="#111">11</text>
<line x1="317.23" y1="811.05" x2="317.23" y2="815.05" stroke="#111" stroke-width="1.3"/>
<text x="317.43" y="826.85" font-size="10" text-anchor="middle" textLength="10.23" lengthAdjust="spacingAndGlyphs" stroke="#111" stroke-width="0.25" fill="#111">12</text>
<line x1="330.65" y1="811.05" x2="330.65" y2="815.05" stroke="#111" stroke-width="1.3"/>
<text x="330.85" y="826.85" font-size="10" text-anchor="middle" textLength="10.23" lengthAdjust="spacingAndGlyphs" stroke="#111" stroke-width="0.25" fill="#111">13</text>
<line x1="344.07" y1="811.05" x2="344.07" y2="815.05" stroke="#111" stroke-width="1.3"/>
<text x="344.27" y="826.85" font-size="10" text-anchor="middle" textLength="10.23" lengthAdjust="spacingAndGlyphs" stroke="#111" stroke-width="0.25" fill="#111">14</text>
<rect x="91.20" y="858.90" width="12.05" height="13.20" fill="#c0dde0"/>
<rect x="91.20" y="872.05" width="12.05" height="13.20" fill="#bcdadd"/>
<rect x="91.20" y="885.20" width="12.05" height="13.20" fill="#b8d8db"/>
<line x1="91.20" y1="872.05" x2="103.20" y2="872.05" stroke="#88a4a6" stroke-width="0.7"/>
<line x1="91.20" y1="885.20" x2="103.20" y2="885.20" stroke="#88a4a6" stroke-width="0.7"/>
<rect x="90.50" y="858.20" width="13.40" height="40.85" fill="none" stroke="#000" stroke-width="1.4"/>
<line x1="85.60" y1="865.48" x2="90.00" y2="865.48" stroke="#111" stroke-width="1.3"/>
<text x="81.00" y="869.08" font-size="10.8" text-anchor="end" textLength="4.81" lengthAdjust="spacingAndGlyphs" stroke="#111" stroke-width="0.25" fill="#111">2</text>
<line x1="159.40" y1="865.48" x2="162.60" y2="865.48" stroke="#111" stroke-width="1.3"/>
<text x="154.60" y="869.08" font-size="10.8" text-anchor="end" textLength="4.81" lengthAdjust="spacingAndGlyphs" stroke="#111" stroke-width="0.25" fill="#111">2</text>
<line x1="85.60" y1="878.62" x2="90.00" y2="878.62" stroke="#111" stroke-width="1.3"/>
<text x="81.00" y="882.23" font-size="10.8" text-anchor="end" textLength="4.81" lengthAdjust="spacingAndGlyphs" stroke="#111" stroke-width="0.25" fill="#111">3</text>
<line x1="159.40" y1="878.62" x2="162.60" y2="878.62" stroke="#111" stroke-width="1.3"/>
<text x="154.60" y="882.23" font-size="10.8" text-anchor="end" textLength="4.81" lengthAdjust="spacingAndGlyphs" stroke="#111" stroke-width="0.25" fill="#111">3</text>
<line x1="85.60" y1="891.77" x2="90.00" y2="891.77" stroke="#111" stroke-width="1.3"/>
<text x="81.00" y="895.38" font-size="10.8" text-anchor="end" textLength="4.81" lengthAdjust="spacingAndGlyphs" stroke="#111" stroke-width="0.25" fill="#111">4</text>
<line x1="159.40" y1="891.77" x2="162.60" y2="891.77" stroke="#111" stroke-width="1.3"/>
<text x="154.60" y="895.38" font-size="10.8" text-anchor="end" textLength="4.81" lengthAdjust="spacingAndGlyphs" stroke="#111" stroke-width="0.25" fill="#111">4</text>
<line x1="97.20" y1="898.95" x2="97.20" y2="902.95" stroke="#111" stroke-width="1.3"/>
<text x="97.50" y="914.75" font-size="10" text-anchor="middle" textLength="5.12" lengthAdjust="spacingAndGlyphs" stroke="#111" stroke-width="0.25" fill="#111">1</text>
<clipPath id="c1949"><rect x="163.50" y="858.90" width="187.28" height="39.45"/></clipPath>
<g clip-path="url(#c1949)">
<rect x="162.90" y="858.90" width="13.47" height="13.20" fill="#b0d5d9"/>
<rect x="176.32" y="858.90" width="13.47" height="13.20" fill="#dfeef0"/>
<rect x="189.74" y="858.90" width="13.47" height="13.20" fill="#e3f0f1"/>
<rect x="203.16" y="858.90" width="13.47" height="13.20" fill="#c4e0e3"/>
<rect x="216.58" y="858.90" width="13.47" height="13.20" fill="#cce4e6"/>
<rect x="230.00" y="858.90" width="13.47" height="13.20" fill="#c4e0e3"/>
<rect x="243.42" y="858.90" width="13.47" height="13.20" fill="#c4e0e3"/>
<rect x="256.84" y="858.90" width="13.47" height="13.20" fill="#bcdadd"/>
<rect x="270.26" y="858.90" width="13.47" height="13.20" fill="#c8e2e5"/>
<rect x="283.68" y="858.90" width="13.47" height="13.20" fill="#c8e2e5"/>
<rect x="297.10" y="858.90" width="13.47" height="13.20" fill="#c8e2e5"/>
<rect x="310.52" y="858.90" width="13.47" height="13.20" fill="#9ccacd"/>
<rect x="323.94" y="858.90" width="13.47" height="13.20" fill="#5c5c5c"/>
<rect x="337.36" y="858.90" width="13.47" height="13.20" fill="#5c5c5c"/>
<rect x="162.90" y="872.05" width="13.47" height="13.20" fill="#dbecee"/>
<rect x="176.32" y="872.05" width="13.47" height="13.20" fill="#cfe6e8"/>
<rect x="189.74" y="872.05" width="13.47" height="13.20" fill="#c4e0e3"/>
<rect x="203.16" y="872.05" width="13.47" height="13.20" fill="#c8e2e4"/>
<rect x="216.58" y="872.05" width="13.47" height="13.20" fill="#b5d7da"/>
<rect x="230.00" y="872.05" width="13.47" height="13.20" fill="#b5d7da"/>
<rect x="243.42" y="872.05" width="13.47" height="13.20" fill="#a6cfd3"/>
<rect x="256.84" y="872.05" width="13.47" height="13.20" fill="#9ccacd"/>
<rect x="270.26" y="872.05" width="13.47" height="13.20" fill="#9ccacd"/>
<rect x="283.68" y="872.05" width="13.47" height="13.20" fill="#9ccacd"/>
<rect x="297.10" y="872.05" width="13.47" height="13.20" fill="#9ccacd"/>
<rect x="310.52" y="872.05" width="13.47" height="13.20" fill="#88bfc3"/>
<rect x="323.94" y="872.05" width="13.47" height="13.20" fill="#5aa8ae"/>
<rect x="337.36" y="872.05" width="13.47" height="13.20" fill="#5c5c5c"/>
<rect x="162.90" y="885.20" width="13.47" height="13.20" fill="#d5e9eb"/>
<rect x="176.32" y="885.20" width="13.47" height="13.20" fill="#dbecee"/>
<rect x="189.74" y="885.20" width="13.47" height="13.20" fill="#a9d1d5"/>
<rect x="203.16" y="885.20" width="13.47" height="13.20" fill="#8cc2c6"/>
<rect x="216.58" y="885.20" width="13.47" height="13.20" fill="#80bcc0"/>
<rect x="230.00" y="885.20" width="13.47" height="13.20" fill="#cfe6e8"/>
<rect x="243.42" y="885.20" width="13.47" height="13.20" fill="#6cb2b7"/>
<rect x="256.84" y="885.20" width="13.47" height="13.20" fill="#5eaaaf"/>
<rect x="270.26" y="885.20" width="13.47" height="13.20" fill="#6ab1b6"/>
<rect x="283.68" y="885.20" width="13.47" height="13.20" fill="#6ab1b6"/>
<rect x="297.10" y="885.20" width="13.47" height="13.20" fill="#62adb2"/>
<rect x="310.52" y="885.20" width="13.47" height="13.20" fill="#2f8e96"/>
<rect x="323.94" y="885.20" width="13.47" height="13.20" fill="#6ab1b6"/>
<rect x="337.36" y="885.20" width="13.47" height="13.20" fill="#5eaaaf"/>
<line x1="176.32" y1="858.90" x2="176.32" y2="898.35" stroke="#9c9c9c" stroke-width="1.0"/>
<line x1="189.74" y1="858.90" x2="189.74" y2="898.35" stroke="#9c9c9c" stroke-width="1.0"/>
<line x1="203.16" y1="858.90" x2="203.16" y2="898.35" stroke="#9c9c9c" stroke-width="1.0"/>
<line x1="216.58" y1="858.90" x2="216.58" y2="898.35" stroke="#9c9c9c" stroke-width="1.0"/>
<line x1="230.00" y1="858.90" x2="230.00" y2="898.35" stroke="#9c9c9c" stroke-width="1.0"/>
<line x1="243.42" y1="858.90" x2="243.42" y2="898.35" stroke="#9c9c9c" stroke-width="1.0"/>
<line x1="256.84" y1="858.90" x2="256.84" y2="898.35" stroke="#9c9c9c" stroke-width="1.0"/>
<line x1="270.26" y1="858.90" x2="270.26" y2="898.35" stroke="#9c9c9c" stroke-width="1.0"/>
<line x1="283.68" y1="858.90" x2="283.68" y2="898.35" stroke="#9c9c9c" stroke-width="1.0"/>
<line x1="297.10" y1="858.90" x2="297.10" y2="898.35" stroke="#9c9c9c" stroke-width="1.0"/>
<line x1="310.52" y1="858.90" x2="310.52" y2="898.35" stroke="#9c9c9c" stroke-width="1.0"/>
<line x1="323.94" y1="858.90" x2="323.94" y2="898.35" stroke="#9c9c9c" stroke-width="1.0"/>
<line x1="337.36" y1="858.90" x2="337.36" y2="898.35" stroke="#9c9c9c" stroke-width="1.0"/>
<line x1="162.90" y1="872.05" x2="350.78" y2="872.05" stroke="#9c9c9c" stroke-width="1.0"/>
<line x1="162.90" y1="885.20" x2="350.78" y2="885.20" stroke="#9c9c9c" stroke-width="1.0"/>
</g>
<rect x="163.50" y="858.90" width="187.28" height="39.45" fill="none" stroke="#000" stroke-width="1.4"/>
<line x1="169.61" y1="898.95" x2="169.61" y2="902.95" stroke="#111" stroke-width="1.3"/>
<text x="169.81" y="914.75" font-size="10" text-anchor="middle" textLength="5.12" lengthAdjust="spacingAndGlyphs" stroke="#111" stroke-width="0.25" fill="#111">1</text>
<line x1="183.03" y1="898.95" x2="183.03" y2="902.95" stroke="#111" stroke-width="1.3"/>
<text x="183.23" y="914.75" font-size="10" text-anchor="middle" textLength="5.12" lengthAdjust="spacingAndGlyphs" stroke="#111" stroke-width="0.25" fill="#111">2</text>
<line x1="196.45" y1="898.95" x2="196.45" y2="902.95" stroke="#111" stroke-width="1.3"/>
<text x="196.65" y="914.75" font-size="10" text-anchor="middle" textLength="5.12" lengthAdjust="spacingAndGlyphs" stroke="#111" stroke-width="0.25" fill="#111">3</text>
<line x1="209.87" y1="898.95" x2="209.87" y2="902.95" stroke="#111" stroke-width="1.3"/>
<text x="210.07" y="914.75" font-size="10" text-anchor="middle" textLength="5.12" lengthAdjust="spacingAndGlyphs" stroke="#111" stroke-width="0.25" fill="#111">4</text>
<line x1="223.29" y1="898.95" x2="223.29" y2="902.95" stroke="#111" stroke-width="1.3"/>
<text x="223.49" y="914.75" font-size="10" text-anchor="middle" textLength="5.12" lengthAdjust="spacingAndGlyphs" stroke="#111" stroke-width="0.25" fill="#111">5</text>
<line x1="236.71" y1="898.95" x2="236.71" y2="902.95" stroke="#111" stroke-width="1.3"/>
<text x="236.91" y="914.75" font-size="10" text-anchor="middle" textLength="5.12" lengthAdjust="spacingAndGlyphs" stroke="#111" stroke-width="0.25" fill="#111">6</text>
<line x1="250.13" y1="898.95" x2="250.13" y2="902.95" stroke="#111" stroke-width="1.3"/>
<text x="250.33" y="914.75" font-size="10" text-anchor="middle" textLength="5.12" lengthAdjust="spacingAndGlyphs" stroke="#111" stroke-width="0.25" fill="#111">7</text>
<line x1="263.55" y1="898.95" x2="263.55" y2="902.95" stroke="#111" stroke-width="1.3"/>
<text x="263.75" y="914.75" font-size="10" text-anchor="middle" textLength="5.12" lengthAdjust="spacingAndGlyphs" stroke="#111" stroke-width="0.25" fill="#111">8</text>
<line x1="276.97" y1="898.95" x2="276.97" y2="902.95" stroke="#111" stroke-width="1.3"/>
<text x="277.17" y="914.75" font-size="10" text-anchor="middle" textLength="5.12" lengthAdjust="spacingAndGlyphs" stroke="#111" stroke-width="0.25" fill="#111">9</text>
<line x1="290.39" y1="898.95" x2="290.39" y2="902.95" stroke="#111" stroke-width="1.3"/>
<text x="290.59" y="914.75" font-size="10" text-anchor="middle" textLength="10.23" lengthAdjust="spacingAndGlyphs" stroke="#111" stroke-width="0.25" fill="#111">10</text>
<line x1="303.81" y1="898.95" x2="303.81" y2="902.95" stroke="#111" stroke-width="1.3"/>
<text x="304.01" y="914.75" font-size="10" text-anchor="middle" textLength="9.55" lengthAdjust="spacingAndGlyphs" stroke="#111" stroke-width="0.25" fill="#111">11</text>
<line x1="317.23" y1="898.95" x2="317.23" y2="902.95" stroke="#111" stroke-width="1.3"/>
<text x="317.43" y="914.75" font-size="10" text-anchor="middle" textLength="10.23" lengthAdjust="spacingAndGlyphs" stroke="#111" stroke-width="0.25" fill="#111">12</text>
<line x1="330.65" y1="898.95" x2="330.65" y2="902.95" stroke="#111" stroke-width="1.3"/>
<text x="330.85" y="914.75" font-size="10" text-anchor="middle" textLength="10.23" lengthAdjust="spacingAndGlyphs" stroke="#111" stroke-width="0.25" fill="#111">13</text>
<line x1="344.07" y1="898.95" x2="344.07" y2="902.95" stroke="#111" stroke-width="1.3"/>
<text x="344.27" y="914.75" font-size="10" text-anchor="middle" textLength="10.23" lengthAdjust="spacingAndGlyphs" stroke="#111" stroke-width="0.25" fill="#111">14</text>
<text x="50.00" y="806.20" font-size="15" text-anchor="start" textLength="11.20" lengthAdjust="spacingAndGlyphs" transform="rotate(-90 50.00 806.20)" stroke="#111" stroke-width="0.25" fill="#111">NT</text>
<text x="45.40" y="795.00" font-size="9.2" text-anchor="start" textLength="19.20" lengthAdjust="spacingAndGlyphs" transform="rotate(-90 45.40 795.00)" stroke="#111" stroke-width="0.25" fill="#111">Bulk</text>
<text x="68.10" y="806.20" font-size="14.3" text-anchor="start" textLength="30.40" lengthAdjust="spacingAndGlyphs" transform="rotate(-90 68.10 806.20)" stroke="#111" stroke-width="0.25" fill="#111">donor</text>
<text x="50.00" y="895.80" font-size="15" text-anchor="start" textLength="11.20" lengthAdjust="spacingAndGlyphs" transform="rotate(-90 50.00 895.80)" stroke="#111" stroke-width="0.25" fill="#111">NT</text>
<text x="45.50" y="882.10" font-size="12" text-anchor="start" textLength="15.60" lengthAdjust="spacingAndGlyphs" transform="rotate(-90 45.50 882.10)" stroke="#111" stroke-width="0.25" fill="#111">CD7</text>
<line x1="39.50" y1="861.20" x2="39.50" y2="865.40" stroke="#111" stroke-width="0.9"/>
<text x="68.40" y="894.20" font-size="14.3" text-anchor="start" textLength="30.70" lengthAdjust="spacingAndGlyphs" transform="rotate(-90 68.40 894.20)" stroke="#111" stroke-width="0.25" fill="#111">donor</text>
<text x="140.10" y="821.90" font-size="14.5" text-anchor="start" textLength="46.10" lengthAdjust="spacingAndGlyphs" transform="rotate(-90 140.10 821.90)" stroke="#111" stroke-width="0.25" fill="#111">CD19-CAR</text>
<text x="133.50" y="775.80" font-size="10.5" text-anchor="start" textLength="17.00" lengthAdjust="spacingAndGlyphs" transform="rotate(-90 133.50 775.80)" stroke="#111" stroke-width="0.25" fill="#111">Bulk</text>
<text x="140.00" y="911.20" font-size="14.5" text-anchor="start" textLength="46.00" lengthAdjust="spacingAndGlyphs" transform="rotate(-90 140.00 911.20)" stroke="#111" stroke-width="0.25" fill="#111">CD19-CAR</text>
<text x="134.90" y="864.60" font-size="9.8" text-anchor="start" textLength="13.40" lengthAdjust="spacingAndGlyphs" transform="rotate(-90 134.90 864.60)" stroke="#111" stroke-width="0.25" fill="#111">CD7</text>
<line x1="128.80" y1="845.80" x2="128.80" y2="849.60" stroke="#111" stroke-width="0.9"/>
<rect x="363.20" y="858.80" width="18.90" height="39.10" fill="url(#tg)" stroke="#000" stroke-width="1.4"/>
<text x="385.60" y="861.90" font-size="8.8" text-anchor="start" textLength="11.38" lengthAdjust="spacingAndGlyphs" stroke="#111" stroke-width="0.05" fill="#111">1.0</text>
<line x1="363.20" y1="866.62" x2="365.40" y2="866.62" stroke="#111" stroke-width="1.0"/>
<line x1="379.90" y1="866.62" x2="382.10" y2="866.62" stroke="#111" stroke-width="1.0"/>
<text x="385.60" y="869.72" font-size="8.8" text-anchor="start" textLength="11.38" lengthAdjust="spacingAndGlyphs" stroke="#111" stroke-width="0.05" fill="#111">0.8</text>
<line x1="363.20" y1="874.44" x2="365.40" y2="874.44" stroke="#111" stroke-width="1.0"/>
<line x1="379.90" y1="874.44" x2="382.10" y2="874.44" stroke="#111" stroke-width="1.0"/>
<text x="385.60" y="877.54" font-size="8.8" text-anchor="start" textLength="11.38" lengthAdjust="spacingAndGlyphs" stroke="#111" stroke-width="0.05" fill="#111">0.6</text>
<line x1="363.20" y1="882.26" x2="365.40" y2="882.26" stroke="#111" stroke-width="1.0"/>
<line x1="379.90" y1="882.26" x2="382.10" y2="882.26" stroke="#111" stroke-width="1.0"/>
<text x="385.60" y="885.36" font-size="8.8" text-anchor="start" textLength="11.38" lengthAdjust="spacingAndGlyphs" stroke="#111" stroke-width="0.05" fill="#111">0.4</text>
<line x1="363.20" y1="890.08" x2="365.40" y2="890.08" stroke="#111" stroke-width="1.0"/>
<line x1="379.90" y1="890.08" x2="382.10" y2="890.08" stroke="#111" stroke-width="1.0"/>
<text x="385.60" y="893.18" font-size="8.8" text-anchor="start" textLength="11.38" lengthAdjust="spacingAndGlyphs" stroke="#111" stroke-width="0.05" fill="#111">0.2</text>
<text x="385.60" y="901.00" font-size="8.8" text-anchor="start" textLength="4.55" lengthAdjust="spacingAndGlyphs" stroke="#111" stroke-width="0.05" fill="#111">0</text>
<text x="407.60" y="850.40" font-size="12.6" text-anchor="start" textLength="56.60" lengthAdjust="spacingAndGlyphs" transform="rotate(90 407.60 850.40)" fill="#111">Top10 index</text>
<line x1="90.00" y1="929.20" x2="192.70" y2="929.20" stroke="#111" stroke-width="1.2"/>
<text x="203.70" y="934.00" font-size="14.5" text-anchor="start" textLength="59.80" lengthAdjust="spacingAndGlyphs" stroke="#111" stroke-width="0.25" fill="#111">Stimulation</text>
<line x1="274.10" y1="929.20" x2="342.50" y2="929.20" stroke="#111" stroke-width="1.2"/></svg></body></html>
